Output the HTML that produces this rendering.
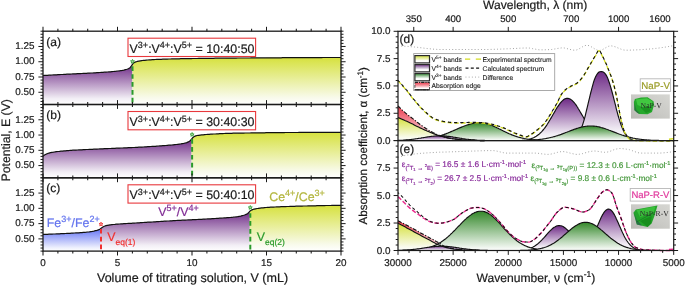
<!DOCTYPE html><html><head><meta charset="utf-8"><style>html,body{margin:0;padding:0;background:#fff;}svg{display:block;will-change:transform;}</style></head><body><svg width="685" height="285" viewBox="0 0 685 285" font-family='"Liberation Sans", sans-serif' text-rendering="geometricPrecision">
<defs>
<linearGradient id="gPur" x1="0" y1="0" x2="0" y2="1"><stop offset="0" stop-color="#6e2a86"/><stop offset="0.85" stop-color="#f2eef5"/><stop offset="1" stop-color="#ffffff"/></linearGradient>
<linearGradient id="gYel" x1="0" y1="0" x2="0" y2="1"><stop offset="0" stop-color="#d6e13e"/><stop offset="0.85" stop-color="#f8faea"/><stop offset="1" stop-color="#ffffff"/></linearGradient>
<linearGradient id="gBlu" x1="0" y1="0" x2="0" y2="1"><stop offset="0" stop-color="#6474f5"/><stop offset="0.85" stop-color="#eef0fd"/><stop offset="1" stop-color="#ffffff"/></linearGradient>
<linearGradient id="gGrn" x1="0" y1="0" x2="0" y2="1"><stop offset="0" stop-color="#34882a"/><stop offset="1" stop-color="#ffffff"/></linearGradient>
<linearGradient id="gRed" x1="0" y1="0" x2="0" y2="1"><stop offset="0" stop-color="#ec3a4c"/><stop offset="0.6" stop-color="#f5a6b0"/><stop offset="1" stop-color="#fde9ec"/></linearGradient>
<linearGradient id="gPh" x1="0" y1="1" x2="1" y2="0"><stop offset="0" stop-color="#b9b9b3"/><stop offset="0.5" stop-color="#cacac6"/><stop offset="1" stop-color="#d6d6d2"/></linearGradient>
<linearGradient id="lPur0" gradientUnits="userSpaceOnUse" x1="0" y1="31.2" x2="0" y2="104.5"><stop offset="0" stop-color="#70308a"/><stop offset="0.52" stop-color="#70308a"/><stop offset="1" stop-color="#fdfcfd"/></linearGradient>
<linearGradient id="lYel0" gradientUnits="userSpaceOnUse" x1="0" y1="31.2" x2="0" y2="104.5"><stop offset="0" stop-color="#d6e13e"/><stop offset="0.38" stop-color="#d6e13e"/><stop offset="1" stop-color="#fdfefa"/></linearGradient>
<linearGradient id="lBlu0" gradientUnits="userSpaceOnUse" x1="0" y1="31.2" x2="0" y2="104.5"><stop offset="0" stop-color="#6a78f6"/><stop offset="0.68" stop-color="#6a78f6"/><stop offset="1" stop-color="#f8f8fe"/></linearGradient>
<linearGradient id="lPur1" gradientUnits="userSpaceOnUse" x1="0" y1="104.5" x2="0" y2="177.8"><stop offset="0" stop-color="#70308a"/><stop offset="0.52" stop-color="#70308a"/><stop offset="1" stop-color="#fdfcfd"/></linearGradient>
<linearGradient id="lYel1" gradientUnits="userSpaceOnUse" x1="0" y1="104.5" x2="0" y2="177.8"><stop offset="0" stop-color="#d6e13e"/><stop offset="0.38" stop-color="#d6e13e"/><stop offset="1" stop-color="#fdfefa"/></linearGradient>
<linearGradient id="lBlu1" gradientUnits="userSpaceOnUse" x1="0" y1="104.5" x2="0" y2="177.8"><stop offset="0" stop-color="#6a78f6"/><stop offset="0.68" stop-color="#6a78f6"/><stop offset="1" stop-color="#f8f8fe"/></linearGradient>
<linearGradient id="lPur2" gradientUnits="userSpaceOnUse" x1="0" y1="177.8" x2="0" y2="251.10000000000002"><stop offset="0" stop-color="#70308a"/><stop offset="0.52" stop-color="#70308a"/><stop offset="1" stop-color="#fdfcfd"/></linearGradient>
<linearGradient id="lYel2" gradientUnits="userSpaceOnUse" x1="0" y1="177.8" x2="0" y2="251.10000000000002"><stop offset="0" stop-color="#d6e13e"/><stop offset="0.38" stop-color="#d6e13e"/><stop offset="1" stop-color="#fdfefa"/></linearGradient>
<linearGradient id="lBlu2" gradientUnits="userSpaceOnUse" x1="0" y1="177.8" x2="0" y2="251.10000000000002"><stop offset="0" stop-color="#6a78f6"/><stop offset="0.68" stop-color="#6a78f6"/><stop offset="1" stop-color="#f8f8fe"/></linearGradient>
<linearGradient id="sYel" x1="0" y1="0" x2="0" y2="1"><stop offset="0" stop-color="#d4e03e"/><stop offset="0.35" stop-color="#e6ee9a"/><stop offset="0.7" stop-color="#ffffff"/><stop offset="1" stop-color="#ffffff"/></linearGradient>
<linearGradient id="sPur" x1="0" y1="0" x2="0" y2="1"><stop offset="0" stop-color="#74308a"/><stop offset="0.35" stop-color="#b49cc0"/><stop offset="0.7" stop-color="#ffffff"/><stop offset="1" stop-color="#ffffff"/></linearGradient>
<linearGradient id="sGrn" x1="0" y1="0" x2="0" y2="1"><stop offset="0" stop-color="#2c7e2c"/><stop offset="0.35" stop-color="#9cc49c"/><stop offset="0.7" stop-color="#ffffff"/><stop offset="1" stop-color="#ffffff"/></linearGradient>
<linearGradient id="sRed" x1="0" y1="0" x2="0" y2="1"><stop offset="0" stop-color="#ec3a4c"/><stop offset="0.45" stop-color="#f4a0a8"/><stop offset="0.8" stop-color="#ffffff"/><stop offset="1" stop-color="#ffffff"/></linearGradient>
</defs>
<rect width="685" height="285" fill="#fff"/>
<path d="M43.0,75.5L44.5,75.4L46.1,75.3L47.6,75.2L49.2,75.2L50.7,75.1L52.2,75.0L53.8,74.9L55.3,74.8L56.9,74.8L58.4,74.7L60.0,74.6L61.5,74.5L63.0,74.4L64.6,74.3L66.1,74.3L67.7,74.2L69.2,74.1L70.7,74.0L72.3,73.9L73.8,73.9L75.4,73.8L76.9,73.7L78.5,73.6L80.0,73.6L81.5,73.5L83.1,73.4L84.6,73.4L86.2,73.3L87.7,73.2L89.2,73.1L90.8,73.0L92.3,73.0L93.9,72.9L95.4,72.8L96.9,72.7L98.5,72.6L100.0,72.5L101.6,72.4L103.1,72.3L104.7,72.2L106.2,72.1L107.7,72.0L109.3,71.9L110.8,71.7L112.4,71.6L113.9,71.4L115.4,71.3L117.0,71.1L118.5,70.9L120.1,70.7L121.6,70.5L123.2,70.2L124.7,69.9L126.2,69.5L127.8,68.9L129.3,68.1L130.9,66.7L132.4,64.5L132.4,104.5L43.0,104.5Z" fill="url(#gPur)"/>
<path d="M132.4,64.5L133.9,62.8L135.4,62.0L136.9,61.6L138.4,61.2L140.0,60.9L141.5,60.6L143.0,60.4L144.5,60.3L146.0,60.1L147.5,60.0L149.0,59.9L150.5,59.8L152.1,59.7L153.6,59.6L155.1,59.5L156.6,59.4L158.1,59.4L159.6,59.3L161.1,59.3L162.6,59.2L164.1,59.2L165.7,59.1L167.2,59.1L168.7,59.0L170.2,59.0L171.7,58.9L173.2,58.9L174.7,58.9L176.2,58.8L177.7,58.8L179.3,58.8L180.8,58.7L182.3,58.7L183.8,58.7L185.3,58.7L186.8,58.6L188.3,58.6L189.8,58.6L191.4,58.6L192.9,58.5L194.4,58.5L195.9,58.5L197.4,58.5L198.9,58.4L200.4,58.4L201.9,58.4L203.4,58.4L205.0,58.4L206.5,58.3L208.0,58.3L209.5,58.3L211.0,58.3L212.5,58.3L214.0,58.3L215.5,58.2L217.0,58.2L218.6,58.2L220.1,58.2L221.6,58.2L223.1,58.2L224.6,58.2L226.1,58.1L227.6,58.1L229.1,58.1L230.7,58.1L232.2,58.1L233.7,58.1L235.2,58.1L236.7,58.1L238.2,58.0L239.7,58.0L241.2,58.0L242.7,58.0L244.3,58.0L245.8,58.0L247.3,58.0L248.8,58.0L250.3,58.0L251.8,57.9L253.3,57.9L254.8,57.9L256.4,57.9L257.9,57.9L259.4,57.9L260.9,57.9L262.4,57.9L263.9,57.9L265.4,57.9L266.9,57.8L268.4,57.8L270.0,57.8L271.5,57.8L273.0,57.8L274.5,57.8L276.0,57.8L277.5,57.8L279.0,57.8L280.5,57.8L282.0,57.7L283.6,57.7L285.1,57.7L286.6,57.7L288.1,57.7L289.6,57.7L291.1,57.7L292.6,57.7L294.1,57.7L295.7,57.7L297.2,57.7L298.7,57.7L300.2,57.6L301.7,57.6L303.2,57.6L304.7,57.6L306.2,57.6L307.7,57.6L309.3,57.6L310.8,57.6L312.3,57.6L313.8,57.6L315.3,57.6L316.8,57.6L318.3,57.6L319.8,57.6L321.3,57.6L322.9,57.5L324.4,57.5L325.9,57.5L327.4,57.5L328.9,57.5L330.4,57.5L331.9,57.5L333.4,57.5L335.0,57.5L336.5,57.5L338.0,57.5L339.5,57.5L341.0,57.5L341.0,104.5L132.4,104.5Z" fill="url(#gYel)"/>
<path d="M43.0,75.5L44.5,75.4L46.0,75.3L47.5,75.3L49.0,75.2L50.5,75.1L52.0,75.0L53.5,74.9L55.0,74.9L56.5,74.8L58.0,74.7L59.5,74.6L61.0,74.5L62.5,74.5L64.0,74.4L65.5,74.3L67.0,74.2L68.5,74.1L69.2,74.1L70.0,74.1L71.5,74.0L72.9,73.9L74.4,73.8L75.9,73.8L77.4,73.7L78.9,73.6L80.4,73.6L81.9,73.5L83.4,73.4L84.9,73.3L86.4,73.3L87.9,73.2L89.4,73.1L90.9,73.0L92.4,73.0L93.9,72.9L95.4,72.8L96.9,72.7L98.4,72.6L98.4,72.6L99.9,72.5L101.4,72.4L102.9,72.3L104.4,72.2L105.9,72.1L107.4,72.0L108.9,71.9L110.4,71.8L111.9,71.6L113.4,71.5L114.9,71.3L116.4,71.2L117.9,71.0L119.4,70.8L120.3,70.7L120.9,70.6L122.4,70.4L123.9,70.1L125.4,69.7L126.9,69.3L127.6,69.0L128.4,68.7L129.9,67.7L130.3,67.3L131.4,65.9L132.3,64.6L132.8,63.9L134.2,62.6L134.3,62.5L135.8,61.9L136.4,61.7L137.3,61.4L138.8,61.1L140.3,60.8L141.8,60.6L142.5,60.5L143.3,60.4L144.8,60.3L146.3,60.1L147.8,60.0L149.3,59.9L150.8,59.8L152.3,59.7L153.8,59.6L155.3,59.5L156.8,59.4L158.3,59.4L159.8,59.3L160.0,59.3L161.3,59.3L162.8,59.2L164.3,59.2L165.8,59.1L167.3,59.1L168.8,59.0L170.3,59.0L171.8,58.9L173.3,58.9L174.8,58.9L176.3,58.8L177.8,58.8L179.3,58.8L180.8,58.7L182.3,58.7L183.8,58.7L185.3,58.7L186.8,58.6L188.3,58.6L189.8,58.6L191.3,58.6L192.7,58.5L194.2,58.5L195.0,58.5L195.7,58.5L197.2,58.5L198.7,58.4L200.2,58.4L201.7,58.4L203.2,58.4L204.7,58.4L206.2,58.4L207.7,58.3L209.2,58.3L210.7,58.3L212.2,58.3L213.7,58.3L215.2,58.2L216.7,58.2L218.2,58.2L219.7,58.2L221.2,58.2L222.7,58.2L224.2,58.2L225.7,58.1L227.2,58.1L228.7,58.1L230.2,58.1L231.7,58.1L233.2,58.1L234.7,58.1L236.2,58.1L237.7,58.0L239.2,58.0L240.7,58.0L242.2,58.0L243.7,58.0L244.0,58.0L245.2,58.0L246.7,58.0L248.2,58.0L249.7,58.0L251.2,57.9L252.6,57.9L254.1,57.9L255.6,57.9L257.1,57.9L258.6,57.9L260.1,57.9L261.6,57.9L263.1,57.9L264.6,57.9L266.1,57.8L267.6,57.8L269.1,57.8L270.6,57.8L272.1,57.8L273.6,57.8L275.1,57.8L276.6,57.8L278.1,57.8L279.6,57.8L281.1,57.8L282.6,57.7L284.1,57.7L285.6,57.7L287.1,57.7L288.6,57.7L290.1,57.7L291.6,57.7L293.1,57.7L294.6,57.7L296.1,57.7L297.6,57.7L299.1,57.7L300.6,57.6L302.1,57.6L303.6,57.6L305.1,57.6L306.6,57.6L308.1,57.6L309.6,57.6L311.1,57.6L312.5,57.6L314.0,57.6L315.5,57.6L317.0,57.6L318.5,57.6L320.0,57.6L321.5,57.6L323.0,57.5L324.5,57.5L326.0,57.5L327.5,57.5L329.0,57.5L330.5,57.5L332.0,57.5L333.5,57.5L335.0,57.5L336.5,57.5L338.0,57.5L339.5,57.5L341.0,57.5" fill="none" stroke="#111" stroke-width="1.2"/>
<line x1="132.5" y1="65.0" x2="132.5" y2="104.5" stroke="#2a9a2a" stroke-width="2" stroke-dasharray="4.7,3.2" stroke-dashoffset="6.66"/>
<polygon points="132.50,59.40 133.03,60.77 134.50,60.85 133.36,61.78 133.73,63.20 132.50,62.40 131.27,63.20 131.64,61.78 130.50,60.85 131.97,60.77" stroke="#2a9a2a" stroke-width="0.8" fill="#2a9a2a" fill-opacity="0.35"/>
<rect x="128" y="38.2" width="127.6" height="18.3" fill="#fff" stroke="#e8383c" stroke-width="1.1"/>
<text x="129.6" y="52.6" font-size="12.4" fill="#1a1a1a" stroke="#1a1a1a" stroke-width="0.2">V<tspan font-size="9" dy="-4.4">3+</tspan><tspan dy="4.4">:V</tspan><tspan font-size="9" dy="-4.4">4+</tspan><tspan dy="4.4">:V</tspan><tspan font-size="9" dy="-4.4">5+</tspan><tspan dy="4.4"> = 10:40:50</tspan></text>
<text x="46.2" y="45.5" font-size="12.1" fill="#1a1a1a" stroke="#1a1a1a" stroke-width="0.2">(a)</text>
<path d="M43.0,156.2L44.5,155.1L46.0,154.2L47.5,153.5L49.1,153.1L50.6,152.7L52.1,152.4L53.6,152.1L55.1,151.9L56.6,151.7L58.2,151.5L59.7,151.3L61.2,151.2L62.7,151.0L64.2,150.9L65.7,150.8L67.3,150.6L68.8,150.5L70.3,150.4L71.8,150.3L73.3,150.2L74.8,150.1L76.4,150.0L77.9,150.0L79.4,149.9L80.9,149.8L82.4,149.7L83.9,149.7L85.5,149.6L87.0,149.5L88.5,149.4L90.0,149.4L91.5,149.3L93.0,149.2L94.6,149.2L96.1,149.1L97.6,149.0L99.1,149.0L100.6,148.9L102.1,148.8L103.7,148.8L105.2,148.7L106.7,148.6L108.2,148.6L109.7,148.5L111.2,148.4L112.8,148.4L114.3,148.3L115.8,148.3L117.3,148.2L118.8,148.1L120.3,148.1L121.8,148.0L123.4,147.9L124.9,147.9L126.4,147.8L127.9,147.7L129.4,147.7L130.9,147.6L132.5,147.5L134.0,147.5L135.5,147.4L137.0,147.3L138.5,147.2L140.0,147.2L141.6,147.1L143.1,147.0L144.6,146.9L146.1,146.8L147.6,146.7L149.1,146.6L150.7,146.6L152.2,146.5L153.7,146.4L155.2,146.3L156.7,146.2L158.2,146.0L159.8,145.9L161.3,145.8L162.8,145.7L164.3,145.6L165.8,145.5L167.3,145.3L168.9,145.2L170.4,145.1L171.9,144.9L173.4,144.8L174.9,144.6L176.4,144.5L178.0,144.3L179.5,144.1L181.0,143.9L182.5,143.6L184.0,143.3L185.5,142.9L187.1,142.4L188.6,141.8L190.1,140.7L191.6,139.0L191.6,177.8L43.0,177.8Z" fill="url(#gPur)"/>
<path d="M191.6,139.0L193.1,137.5L194.6,136.3L196.2,135.8L197.7,135.5L199.2,135.2L200.7,135.0L202.3,134.9L203.8,134.7L205.3,134.6L206.8,134.5L208.4,134.4L209.9,134.3L211.4,134.2L212.9,134.1L214.5,134.0L216.0,133.9L217.5,133.8L219.0,133.7L220.6,133.7L222.1,133.6L223.6,133.5L225.1,133.5L226.7,133.4L228.2,133.4L229.7,133.3L231.2,133.3L232.8,133.2L234.3,133.2L235.8,133.2L237.3,133.2L238.9,133.1L240.4,133.1L241.9,133.1L243.4,133.1L245.0,133.0L246.5,133.0L248.0,133.0L249.5,133.0L251.1,132.9L252.6,132.9L254.1,132.9L255.6,132.9L257.2,132.9L258.7,132.8L260.2,132.8L261.7,132.8L263.3,132.8L264.8,132.8L266.3,132.7L267.8,132.7L269.3,132.7L270.9,132.7L272.4,132.7L273.9,132.7L275.4,132.6L277.0,132.6L278.5,132.6L280.0,132.6L281.5,132.6L283.1,132.6L284.6,132.6L286.1,132.5L287.6,132.5L289.2,132.5L290.7,132.5L292.2,132.5L293.7,132.5L295.3,132.5L296.8,132.5L298.3,132.4L299.8,132.4L301.4,132.4L302.9,132.4L304.4,132.4L305.9,132.4L307.5,132.4L309.0,132.4L310.5,132.4L312.0,132.4L313.6,132.4L315.1,132.4L316.6,132.3L318.1,132.3L319.7,132.3L321.2,132.3L322.7,132.3L324.2,132.3L325.8,132.3L327.3,132.3L328.8,132.3L330.3,132.3L331.9,132.3L333.4,132.3L334.9,132.3L336.4,132.3L338.0,132.3L339.5,132.3L341.0,132.3L341.0,177.8L191.6,177.8Z" fill="url(#gYel)"/>
<path d="M43.0,156.2L44.5,155.1L45.0,154.8L46.0,154.2L47.3,153.6L47.5,153.5L49.0,153.1L50.5,152.7L52.0,152.4L53.5,152.2L54.6,152.0L55.0,151.9L56.5,151.7L58.0,151.5L59.5,151.4L61.0,151.2L62.5,151.1L64.0,150.9L65.5,150.8L67.0,150.7L68.5,150.6L69.2,150.5L70.0,150.4L71.5,150.3L72.9,150.2L74.4,150.2L75.9,150.1L77.4,150.0L78.9,149.9L80.4,149.8L81.9,149.8L83.4,149.7L84.9,149.6L86.4,149.5L87.9,149.5L89.4,149.4L90.9,149.3L92.4,149.3L93.9,149.2L95.4,149.1L96.9,149.1L98.4,149.0L98.4,149.0L99.9,148.9L101.4,148.9L102.9,148.8L104.4,148.7L105.9,148.7L107.4,148.6L108.9,148.5L110.4,148.5L111.9,148.4L113.4,148.4L114.9,148.3L116.4,148.2L117.9,148.2L119.4,148.1L120.9,148.0L122.4,148.0L123.9,147.9L125.4,147.9L126.9,147.8L128.4,147.7L129.9,147.7L131.4,147.6L132.8,147.5L134.3,147.5L135.8,147.4L137.3,147.3L138.8,147.2L139.3,147.2L140.3,147.1L141.8,147.1L143.3,147.0L144.8,146.9L146.3,146.8L147.8,146.7L149.3,146.6L150.8,146.5L152.3,146.4L153.8,146.4L155.3,146.3L156.8,146.1L158.3,146.0L159.8,145.9L161.3,145.8L162.8,145.7L164.2,145.6L164.3,145.6L165.8,145.5L167.3,145.3L168.8,145.2L170.3,145.1L171.8,145.0L173.3,144.8L174.8,144.6L176.3,144.5L177.8,144.3L179.3,144.1L180.0,144.0L180.8,143.9L182.3,143.6L183.8,143.4L185.3,143.0L186.0,142.8L186.8,142.6L188.3,141.9L189.5,141.2L189.8,141.0L191.3,139.4L192.0,138.6L192.7,137.8L194.2,136.5L194.5,136.4L195.7,135.9L197.2,135.5L198.0,135.4L198.7,135.3L200.2,135.1L201.7,134.9L203.2,134.8L204.7,134.6L206.2,134.5L207.7,134.4L208.0,134.4L209.2,134.3L210.7,134.2L212.2,134.1L213.7,134.0L215.2,134.0L216.7,133.9L218.2,133.8L219.7,133.7L221.2,133.6L222.7,133.6L224.2,133.5L225.7,133.4L227.2,133.4L228.7,133.3L230.2,133.3L231.7,133.3L233.2,133.2L234.3,133.2L234.7,133.2L236.2,133.2L237.7,133.1L239.2,133.1L240.7,133.1L242.2,133.1L243.7,133.1L245.2,133.0L246.7,133.0L248.2,133.0L249.7,133.0L251.2,132.9L252.6,132.9L254.1,132.9L255.6,132.9L257.1,132.9L258.6,132.8L260.1,132.8L261.6,132.8L263.1,132.8L264.6,132.8L266.1,132.7L267.6,132.7L269.1,132.7L270.6,132.7L272.1,132.7L273.6,132.7L275.1,132.6L276.6,132.6L278.1,132.6L279.6,132.6L281.1,132.6L282.6,132.6L284.1,132.6L285.6,132.5L287.1,132.5L288.6,132.5L290.1,132.5L291.6,132.5L293.1,132.5L294.6,132.5L296.1,132.5L297.6,132.5L299.1,132.4L300.6,132.4L302.1,132.4L303.6,132.4L305.1,132.4L306.6,132.4L308.1,132.4L309.6,132.4L311.1,132.4L312.5,132.4L314.0,132.4L315.5,132.4L317.0,132.3L318.5,132.3L320.0,132.3L321.5,132.3L323.0,132.3L324.5,132.3L326.0,132.3L327.5,132.3L329.0,132.3L330.5,132.3L332.0,132.3L333.5,132.3L335.0,132.3L336.5,132.3L338.0,132.3L339.5,132.3L341.0,132.3" fill="none" stroke="#111" stroke-width="1.2"/>
<line x1="192.1" y1="139.1" x2="192.1" y2="177.8" stroke="#2a9a2a" stroke-width="2" stroke-dasharray="4.7,3.2" stroke-dashoffset="0.00"/>
<polygon points="192.10,132.50 192.63,133.87 194.10,133.95 192.96,134.88 193.33,136.30 192.10,135.50 190.87,136.30 191.24,134.88 190.10,133.95 191.57,133.87" stroke="#2a9a2a" stroke-width="0.8" fill="#2a9a2a" fill-opacity="0.35"/>
<rect x="128" y="111.5" width="127.6" height="18.3" fill="#fff" stroke="#e8383c" stroke-width="1.1"/>
<text x="129.6" y="125.9" font-size="12.4" fill="#1a1a1a" stroke="#1a1a1a" stroke-width="0.2">V<tspan font-size="9" dy="-4.4">3+</tspan><tspan dy="4.4">:V</tspan><tspan font-size="9" dy="-4.4">4+</tspan><tspan dy="4.4">:V</tspan><tspan font-size="9" dy="-4.4">5+</tspan><tspan dy="4.4"> = 30:40:30</tspan></text>
<text x="46.2" y="118.8" font-size="12.1" fill="#1a1a1a" stroke="#1a1a1a" stroke-width="0.2">(b)</text>
<path d="M43.0,234.4L44.6,234.4L46.1,234.3L47.7,234.3L49.2,234.2L50.8,234.1L52.3,234.1L53.9,234.0L55.5,234.0L57.0,233.9L58.6,233.8L60.1,233.8L61.7,233.7L63.2,233.6L64.8,233.5L66.4,233.4L67.9,233.4L69.5,233.3L71.0,233.2L72.6,233.1L74.1,233.0L75.7,233.0L77.2,232.9L78.8,232.8L80.4,232.7L81.9,232.6L83.5,232.4L85.0,232.3L86.6,232.2L88.1,232.0L89.7,231.8L91.3,231.6L92.8,231.3L94.4,231.0L95.9,230.6L97.5,230.2L99.0,229.6L100.6,228.7L100.6,251.1L43.0,251.1Z" fill="url(#gBlu)"/>
<path d="M100.6,228.7L102.1,227.6L103.6,226.6L105.2,226.0L106.7,225.5L108.2,225.2L109.7,224.9L111.3,224.7L112.8,224.6L114.3,224.4L115.8,224.3L117.3,224.1L118.9,224.0L120.4,223.9L121.9,223.8L123.4,223.7L125.0,223.6L126.5,223.5L128.0,223.4L129.5,223.4L131.0,223.3L132.6,223.2L134.1,223.1L135.6,223.0L137.1,222.9L138.7,222.8L140.2,222.7L141.7,222.6L143.2,222.5L144.8,222.4L146.3,222.3L147.8,222.2L149.3,222.1L150.8,222.0L152.4,222.0L153.9,221.9L155.4,221.8L156.9,221.7L158.5,221.6L160.0,221.5L161.5,221.4L163.0,221.3L164.5,221.2L166.1,221.1L167.6,221.0L169.1,220.9L170.6,220.8L172.2,220.8L173.7,220.7L175.2,220.6L176.7,220.5L178.2,220.4L179.8,220.3L181.3,220.3L182.8,220.2L184.3,220.1L185.9,220.0L187.4,220.0L188.9,219.9L190.4,219.8L191.9,219.8L193.5,219.7L195.0,219.6L196.5,219.5L198.0,219.5L199.6,219.4L201.1,219.3L202.6,219.2L204.1,219.1L205.6,219.1L207.2,219.0L208.7,218.9L210.2,218.8L211.7,218.7L213.3,218.6L214.8,218.5L216.3,218.4L217.8,218.3L219.4,218.2L220.9,218.2L222.4,218.1L223.9,218.0L225.4,217.9L227.0,217.7L228.5,217.6L230.0,217.5L231.5,217.3L233.1,217.2L234.6,217.0L236.1,216.9L237.6,216.7L239.1,216.4L240.7,216.1L242.2,215.7L243.7,215.3L245.2,214.7L246.8,214.0L248.3,213.0L249.8,211.3L249.8,251.1L100.6,251.1Z" fill="url(#gPur)"/>
<path d="M249.8,211.3L251.3,210.2L252.9,209.5L254.4,209.0L256.0,208.7L257.5,208.5L259.1,208.3L260.6,208.1L262.2,207.9L263.7,207.7L265.3,207.6L266.8,207.5L268.3,207.4L269.9,207.3L271.4,207.2L273.0,207.1L274.5,207.0L276.1,206.9L277.6,206.9L279.2,206.8L280.7,206.7L282.3,206.7L283.8,206.6L285.4,206.6L286.9,206.5L288.4,206.5L290.0,206.4L291.5,206.4L293.1,206.3L294.6,206.3L296.2,206.2L297.7,206.2L299.3,206.2L300.8,206.1L302.4,206.1L303.9,206.0L305.4,206.0L307.0,206.0L308.5,205.9L310.1,205.9L311.6,205.8L313.2,205.8L314.7,205.8L316.3,205.7L317.8,205.7L319.4,205.7L320.9,205.6L322.5,205.6L324.0,205.6L325.5,205.5L327.1,205.5L328.6,205.5L330.2,205.5L331.7,205.4L333.3,205.4L334.8,205.4L336.4,205.4L337.9,205.3L339.5,205.3L341.0,205.3L341.0,251.1L249.8,251.1Z" fill="url(#gYel)"/>
<path d="M43.0,234.4L44.5,234.4L46.0,234.3L47.5,234.3L49.0,234.2L50.5,234.2L52.0,234.1L53.5,234.0L55.0,234.0L56.5,233.9L58.0,233.9L59.5,233.8L61.0,233.7L62.5,233.6L64.0,233.6L65.5,233.5L67.0,233.4L68.5,233.3L69.2,233.3L70.0,233.3L71.5,233.2L72.9,233.1L74.4,233.0L75.9,232.9L77.4,232.9L78.9,232.8L80.4,232.7L81.9,232.6L83.4,232.4L84.9,232.3L86.4,232.2L87.9,232.0L88.2,232.0L89.4,231.9L90.9,231.6L92.4,231.4L93.9,231.1L95.4,230.7L96.0,230.6L96.9,230.4L98.4,229.9L99.5,229.4L99.9,229.2L101.4,228.1L101.8,227.8L102.9,227.0L104.2,226.3L104.4,226.2L105.9,225.7L107.4,225.4L108.9,225.1L110.0,224.9L110.4,224.9L111.9,224.7L113.4,224.5L114.9,224.4L116.4,224.2L117.9,224.1L119.4,224.0L120.9,223.9L122.4,223.8L123.9,223.7L125.4,223.6L126.9,223.5L128.4,223.4L129.9,223.3L131.4,223.3L132.8,223.2L134.3,223.1L135.8,223.0L137.3,222.9L138.8,222.8L139.3,222.8L140.3,222.7L141.8,222.6L143.3,222.5L144.8,222.4L146.3,222.3L147.8,222.2L149.3,222.1L150.8,222.1L152.3,222.0L153.8,221.9L155.3,221.8L156.8,221.7L158.3,221.6L159.8,221.5L161.3,221.4L162.8,221.3L164.3,221.2L165.8,221.1L167.3,221.0L168.8,221.0L170.3,220.9L171.8,220.8L173.3,220.7L174.8,220.6L175.0,220.6L176.3,220.5L177.8,220.4L179.3,220.4L180.8,220.3L182.3,220.2L183.8,220.1L185.3,220.1L186.8,220.0L188.3,219.9L189.8,219.9L191.3,219.8L192.7,219.7L194.2,219.6L195.7,219.6L197.2,219.5L198.7,219.4L200.2,219.3L201.7,219.3L203.2,219.2L204.7,219.1L206.2,219.0L207.7,218.9L209.2,218.8L210.0,218.8L210.7,218.8L212.2,218.7L213.7,218.6L215.2,218.5L216.7,218.4L218.2,218.3L219.7,218.2L221.2,218.1L222.7,218.0L224.2,217.9L225.7,217.8L227.2,217.7L228.7,217.6L230.2,217.5L231.7,217.3L233.2,217.2L234.7,217.0L236.2,216.8L237.7,216.7L238.1,216.6L239.2,216.4L240.7,216.1L242.2,215.7L243.7,215.3L244.5,215.0L245.2,214.8L246.7,214.1L247.8,213.4L248.2,213.1L249.7,211.4L250.1,211.0L251.2,210.3L252.6,209.6L252.8,209.5L254.1,209.1L255.6,208.8L257.1,208.5L258.0,208.4L258.6,208.3L260.1,208.1L261.6,207.9L263.1,207.8L264.6,207.6L266.1,207.5L267.6,207.4L269.1,207.3L270.6,207.2L270.8,207.2L272.1,207.1L273.6,207.1L275.1,207.0L276.6,206.9L278.1,206.8L279.6,206.8L281.1,206.7L282.6,206.7L284.1,206.6L285.6,206.6L287.1,206.5L288.6,206.5L290.1,206.4L291.6,206.4L293.1,206.3L294.6,206.3L296.1,206.2L297.6,206.2L299.1,206.2L300.6,206.1L302.1,206.1L303.6,206.0L305.1,206.0L305.5,206.0L306.6,206.0L308.1,205.9L309.6,205.9L311.1,205.9L312.5,205.8L314.0,205.8L315.5,205.8L317.0,205.7L318.5,205.7L320.0,205.7L321.5,205.6L323.0,205.6L324.5,205.6L326.0,205.5L327.5,205.5L329.0,205.5L330.5,205.5L332.0,205.4L333.5,205.4L335.0,205.4L336.5,205.4L338.0,205.3L339.5,205.3L341.0,205.3" fill="none" stroke="#111" stroke-width="1.2"/>
<line x1="101.0" y1="229.0" x2="101.0" y2="251.10000000000002" stroke="#f03030" stroke-width="2" stroke-dasharray="4.7,3.2" stroke-dashoffset="0.18"/>
<polygon points="101.00,222.10 101.53,223.47 103.00,223.55 101.86,224.48 102.23,225.90 101.00,225.10 99.77,225.90 100.14,224.48 99.00,223.55 100.47,223.47" stroke="#f03030" stroke-width="0.8" fill="#f03030" fill-opacity="0.35"/>
<line x1="250.3" y1="211.5" x2="250.3" y2="251.10000000000002" stroke="#2a9a2a" stroke-width="2" stroke-dasharray="4.7,3.2" stroke-dashoffset="6.26"/>
<polygon points="250.30,205.50 250.83,206.87 252.30,206.95 251.16,207.88 251.53,209.30 250.30,208.50 249.07,209.30 249.44,207.88 248.30,206.95 249.77,206.87" stroke="#2a9a2a" stroke-width="0.8" fill="#2a9a2a" fill-opacity="0.35"/>
<rect x="128" y="184.8" width="127.6" height="18.3" fill="#fff" stroke="#e8383c" stroke-width="1.1"/>
<text x="129.6" y="199.2" font-size="12.4" fill="#1a1a1a" stroke="#1a1a1a" stroke-width="0.2">V<tspan font-size="9" dy="-4.4">3+</tspan><tspan dy="4.4">:V</tspan><tspan font-size="9" dy="-4.4">4+</tspan><tspan dy="4.4">:V</tspan><tspan font-size="9" dy="-4.4">5+</tspan><tspan dy="4.4"> = 50:40:10</tspan></text>
<text x="46.2" y="192.1" font-size="12.1" fill="#1a1a1a" stroke="#1a1a1a" stroke-width="0.2">(c)</text>
<text x="46.8" y="226.7" font-size="12.4" fill="#6474ee" stroke="#6474ee" stroke-width="0.2"><tspan dy="0">Fe</tspan><tspan font-size="9" dy="-4.6">3+</tspan><tspan dy="4.6">/Fe</tspan><tspan font-size="9" dy="-4.6">2+</tspan></text>
<text x="158.2" y="216.0" font-size="12.4" fill="#822e96" stroke="#822e96" stroke-width="0.2"><tspan dy="0">V</tspan><tspan font-size="9" dy="-4.6">5+</tspan><tspan dy="4.6">/V</tspan><tspan font-size="9" dy="-4.6">4+</tspan></text>
<text x="269.2" y="201.0" font-size="12.4" fill="#b2b53c" stroke="#b2b53c" stroke-width="0.2"><tspan dy="0">Ce</tspan><tspan font-size="9" dy="-4.6">4+</tspan><tspan dy="4.6">/Ce</tspan><tspan font-size="9" dy="-4.6">3+</tspan></text>
<text x="107.2" y="241.3" font-size="12.4" fill="#f03030" stroke="#f03030" stroke-width="0.2">V<tspan font-size="8.5" dy="3.6">eq(1)</tspan></text>
<text x="256.8" y="241.2" font-size="12.4" fill="#2a9a2a" stroke="#2a9a2a" stroke-width="0.2">V<tspan font-size="8.5" dy="3.6">eq(2)</tspan></text>
<rect x="43.0" y="31.2" width="298.0" height="73.3" fill="none" stroke="#1a1a1a" stroke-width="1.3"/>
<line x1="43.00" y1="31.2" x2="43.00" y2="26.799999999999997" stroke="#1a1a1a" stroke-width="1.05"/>
<line x1="43.00" y1="104.5" x2="43.00" y2="108.9" stroke="#1a1a1a" stroke-width="1.05"/>
<line x1="57.90" y1="31.2" x2="57.90" y2="28.8" stroke="#1a1a1a" stroke-width="1.05"/>
<line x1="57.90" y1="104.5" x2="57.90" y2="106.9" stroke="#1a1a1a" stroke-width="1.05"/>
<line x1="72.80" y1="31.2" x2="72.80" y2="28.8" stroke="#1a1a1a" stroke-width="1.05"/>
<line x1="72.80" y1="104.5" x2="72.80" y2="106.9" stroke="#1a1a1a" stroke-width="1.05"/>
<line x1="87.70" y1="31.2" x2="87.70" y2="28.8" stroke="#1a1a1a" stroke-width="1.05"/>
<line x1="87.70" y1="104.5" x2="87.70" y2="106.9" stroke="#1a1a1a" stroke-width="1.05"/>
<line x1="102.60" y1="31.2" x2="102.60" y2="28.8" stroke="#1a1a1a" stroke-width="1.05"/>
<line x1="102.60" y1="104.5" x2="102.60" y2="106.9" stroke="#1a1a1a" stroke-width="1.05"/>
<line x1="117.50" y1="31.2" x2="117.50" y2="26.799999999999997" stroke="#1a1a1a" stroke-width="1.05"/>
<line x1="117.50" y1="104.5" x2="117.50" y2="108.9" stroke="#1a1a1a" stroke-width="1.05"/>
<line x1="132.40" y1="31.2" x2="132.40" y2="28.8" stroke="#1a1a1a" stroke-width="1.05"/>
<line x1="132.40" y1="104.5" x2="132.40" y2="106.9" stroke="#1a1a1a" stroke-width="1.05"/>
<line x1="147.30" y1="31.2" x2="147.30" y2="28.8" stroke="#1a1a1a" stroke-width="1.05"/>
<line x1="147.30" y1="104.5" x2="147.30" y2="106.9" stroke="#1a1a1a" stroke-width="1.05"/>
<line x1="162.20" y1="31.2" x2="162.20" y2="28.8" stroke="#1a1a1a" stroke-width="1.05"/>
<line x1="162.20" y1="104.5" x2="162.20" y2="106.9" stroke="#1a1a1a" stroke-width="1.05"/>
<line x1="177.10" y1="31.2" x2="177.10" y2="28.8" stroke="#1a1a1a" stroke-width="1.05"/>
<line x1="177.10" y1="104.5" x2="177.10" y2="106.9" stroke="#1a1a1a" stroke-width="1.05"/>
<line x1="192.00" y1="31.2" x2="192.00" y2="26.799999999999997" stroke="#1a1a1a" stroke-width="1.05"/>
<line x1="192.00" y1="104.5" x2="192.00" y2="108.9" stroke="#1a1a1a" stroke-width="1.05"/>
<line x1="206.90" y1="31.2" x2="206.90" y2="28.8" stroke="#1a1a1a" stroke-width="1.05"/>
<line x1="206.90" y1="104.5" x2="206.90" y2="106.9" stroke="#1a1a1a" stroke-width="1.05"/>
<line x1="221.80" y1="31.2" x2="221.80" y2="28.8" stroke="#1a1a1a" stroke-width="1.05"/>
<line x1="221.80" y1="104.5" x2="221.80" y2="106.9" stroke="#1a1a1a" stroke-width="1.05"/>
<line x1="236.70" y1="31.2" x2="236.70" y2="28.8" stroke="#1a1a1a" stroke-width="1.05"/>
<line x1="236.70" y1="104.5" x2="236.70" y2="106.9" stroke="#1a1a1a" stroke-width="1.05"/>
<line x1="251.60" y1="31.2" x2="251.60" y2="28.8" stroke="#1a1a1a" stroke-width="1.05"/>
<line x1="251.60" y1="104.5" x2="251.60" y2="106.9" stroke="#1a1a1a" stroke-width="1.05"/>
<line x1="266.50" y1="31.2" x2="266.50" y2="26.799999999999997" stroke="#1a1a1a" stroke-width="1.05"/>
<line x1="266.50" y1="104.5" x2="266.50" y2="108.9" stroke="#1a1a1a" stroke-width="1.05"/>
<line x1="281.40" y1="31.2" x2="281.40" y2="28.8" stroke="#1a1a1a" stroke-width="1.05"/>
<line x1="281.40" y1="104.5" x2="281.40" y2="106.9" stroke="#1a1a1a" stroke-width="1.05"/>
<line x1="296.30" y1="31.2" x2="296.30" y2="28.8" stroke="#1a1a1a" stroke-width="1.05"/>
<line x1="296.30" y1="104.5" x2="296.30" y2="106.9" stroke="#1a1a1a" stroke-width="1.05"/>
<line x1="311.20" y1="31.2" x2="311.20" y2="28.8" stroke="#1a1a1a" stroke-width="1.05"/>
<line x1="311.20" y1="104.5" x2="311.20" y2="106.9" stroke="#1a1a1a" stroke-width="1.05"/>
<line x1="326.10" y1="31.2" x2="326.10" y2="28.8" stroke="#1a1a1a" stroke-width="1.05"/>
<line x1="326.10" y1="104.5" x2="326.10" y2="106.9" stroke="#1a1a1a" stroke-width="1.05"/>
<line x1="341.00" y1="31.2" x2="341.00" y2="26.799999999999997" stroke="#1a1a1a" stroke-width="1.05"/>
<line x1="341.00" y1="104.5" x2="341.00" y2="108.9" stroke="#1a1a1a" stroke-width="1.05"/>
<line x1="43.0" y1="104.50" x2="40.5" y2="104.50" stroke="#1a1a1a" stroke-width="1"/>
<line x1="341.0" y1="104.50" x2="343.5" y2="104.50" stroke="#1a1a1a" stroke-width="1"/>
<line x1="43.0" y1="101.45" x2="40.5" y2="101.45" stroke="#1a1a1a" stroke-width="1"/>
<line x1="341.0" y1="101.45" x2="343.5" y2="101.45" stroke="#1a1a1a" stroke-width="1"/>
<line x1="43.0" y1="98.39" x2="40.5" y2="98.39" stroke="#1a1a1a" stroke-width="1"/>
<line x1="341.0" y1="98.39" x2="343.5" y2="98.39" stroke="#1a1a1a" stroke-width="1"/>
<line x1="43.0" y1="95.34" x2="40.5" y2="95.34" stroke="#1a1a1a" stroke-width="1"/>
<line x1="341.0" y1="95.34" x2="343.5" y2="95.34" stroke="#1a1a1a" stroke-width="1"/>
<line x1="43.0" y1="92.28" x2="38.4" y2="92.28" stroke="#1a1a1a" stroke-width="1"/>
<line x1="341.0" y1="92.28" x2="345.6" y2="92.28" stroke="#1a1a1a" stroke-width="1"/>
<line x1="43.0" y1="89.23" x2="40.5" y2="89.23" stroke="#1a1a1a" stroke-width="1"/>
<line x1="341.0" y1="89.23" x2="343.5" y2="89.23" stroke="#1a1a1a" stroke-width="1"/>
<line x1="43.0" y1="86.17" x2="40.5" y2="86.17" stroke="#1a1a1a" stroke-width="1"/>
<line x1="341.0" y1="86.17" x2="343.5" y2="86.17" stroke="#1a1a1a" stroke-width="1"/>
<line x1="43.0" y1="83.12" x2="40.5" y2="83.12" stroke="#1a1a1a" stroke-width="1"/>
<line x1="341.0" y1="83.12" x2="343.5" y2="83.12" stroke="#1a1a1a" stroke-width="1"/>
<line x1="43.0" y1="80.07" x2="40.5" y2="80.07" stroke="#1a1a1a" stroke-width="1"/>
<line x1="341.0" y1="80.07" x2="343.5" y2="80.07" stroke="#1a1a1a" stroke-width="1"/>
<line x1="43.0" y1="77.01" x2="38.4" y2="77.01" stroke="#1a1a1a" stroke-width="1"/>
<line x1="341.0" y1="77.01" x2="345.6" y2="77.01" stroke="#1a1a1a" stroke-width="1"/>
<line x1="43.0" y1="73.96" x2="40.5" y2="73.96" stroke="#1a1a1a" stroke-width="1"/>
<line x1="341.0" y1="73.96" x2="343.5" y2="73.96" stroke="#1a1a1a" stroke-width="1"/>
<line x1="43.0" y1="70.90" x2="40.5" y2="70.90" stroke="#1a1a1a" stroke-width="1"/>
<line x1="341.0" y1="70.90" x2="343.5" y2="70.90" stroke="#1a1a1a" stroke-width="1"/>
<line x1="43.0" y1="67.85" x2="40.5" y2="67.85" stroke="#1a1a1a" stroke-width="1"/>
<line x1="341.0" y1="67.85" x2="343.5" y2="67.85" stroke="#1a1a1a" stroke-width="1"/>
<line x1="43.0" y1="64.80" x2="40.5" y2="64.80" stroke="#1a1a1a" stroke-width="1"/>
<line x1="341.0" y1="64.80" x2="343.5" y2="64.80" stroke="#1a1a1a" stroke-width="1"/>
<line x1="43.0" y1="61.74" x2="38.4" y2="61.74" stroke="#1a1a1a" stroke-width="1"/>
<line x1="341.0" y1="61.74" x2="345.6" y2="61.74" stroke="#1a1a1a" stroke-width="1"/>
<line x1="43.0" y1="58.69" x2="40.5" y2="58.69" stroke="#1a1a1a" stroke-width="1"/>
<line x1="341.0" y1="58.69" x2="343.5" y2="58.69" stroke="#1a1a1a" stroke-width="1"/>
<line x1="43.0" y1="55.63" x2="40.5" y2="55.63" stroke="#1a1a1a" stroke-width="1"/>
<line x1="341.0" y1="55.63" x2="343.5" y2="55.63" stroke="#1a1a1a" stroke-width="1"/>
<line x1="43.0" y1="52.58" x2="40.5" y2="52.58" stroke="#1a1a1a" stroke-width="1"/>
<line x1="341.0" y1="52.58" x2="343.5" y2="52.58" stroke="#1a1a1a" stroke-width="1"/>
<line x1="43.0" y1="49.53" x2="40.5" y2="49.53" stroke="#1a1a1a" stroke-width="1"/>
<line x1="341.0" y1="49.53" x2="343.5" y2="49.53" stroke="#1a1a1a" stroke-width="1"/>
<line x1="43.0" y1="46.47" x2="38.4" y2="46.47" stroke="#1a1a1a" stroke-width="1"/>
<line x1="341.0" y1="46.47" x2="345.6" y2="46.47" stroke="#1a1a1a" stroke-width="1"/>
<line x1="43.0" y1="43.42" x2="40.5" y2="43.42" stroke="#1a1a1a" stroke-width="1"/>
<line x1="341.0" y1="43.42" x2="343.5" y2="43.42" stroke="#1a1a1a" stroke-width="1"/>
<line x1="43.0" y1="40.36" x2="40.5" y2="40.36" stroke="#1a1a1a" stroke-width="1"/>
<line x1="341.0" y1="40.36" x2="343.5" y2="40.36" stroke="#1a1a1a" stroke-width="1"/>
<line x1="43.0" y1="37.31" x2="40.5" y2="37.31" stroke="#1a1a1a" stroke-width="1"/>
<line x1="341.0" y1="37.31" x2="343.5" y2="37.31" stroke="#1a1a1a" stroke-width="1"/>
<line x1="43.0" y1="34.25" x2="40.5" y2="34.25" stroke="#1a1a1a" stroke-width="1"/>
<line x1="341.0" y1="34.25" x2="343.5" y2="34.25" stroke="#1a1a1a" stroke-width="1"/>
<line x1="43.0" y1="31.20" x2="40.5" y2="31.20" stroke="#1a1a1a" stroke-width="1"/>
<line x1="341.0" y1="31.20" x2="343.5" y2="31.20" stroke="#1a1a1a" stroke-width="1"/>
<text x="34.4" y="95.03" font-size="9.9" fill="#1a1a1a" text-anchor="end" stroke="#1a1a1a" stroke-width="0.2">0.50</text>
<text x="34.4" y="79.76" font-size="9.9" fill="#1a1a1a" text-anchor="end" stroke="#1a1a1a" stroke-width="0.2">0.75</text>
<text x="34.4" y="64.49" font-size="9.9" fill="#1a1a1a" text-anchor="end" stroke="#1a1a1a" stroke-width="0.2">1.00</text>
<text x="34.4" y="49.22" font-size="9.9" fill="#1a1a1a" text-anchor="end" stroke="#1a1a1a" stroke-width="0.2">1.25</text>
<rect x="43.0" y="104.5" width="298.0" height="73.3" fill="none" stroke="#1a1a1a" stroke-width="1.3"/>
<line x1="43.00" y1="104.5" x2="43.00" y2="100.1" stroke="#1a1a1a" stroke-width="1.05"/>
<line x1="43.00" y1="177.8" x2="43.00" y2="182.20000000000002" stroke="#1a1a1a" stroke-width="1.05"/>
<line x1="57.90" y1="104.5" x2="57.90" y2="102.1" stroke="#1a1a1a" stroke-width="1.05"/>
<line x1="57.90" y1="177.8" x2="57.90" y2="180.20000000000002" stroke="#1a1a1a" stroke-width="1.05"/>
<line x1="72.80" y1="104.5" x2="72.80" y2="102.1" stroke="#1a1a1a" stroke-width="1.05"/>
<line x1="72.80" y1="177.8" x2="72.80" y2="180.20000000000002" stroke="#1a1a1a" stroke-width="1.05"/>
<line x1="87.70" y1="104.5" x2="87.70" y2="102.1" stroke="#1a1a1a" stroke-width="1.05"/>
<line x1="87.70" y1="177.8" x2="87.70" y2="180.20000000000002" stroke="#1a1a1a" stroke-width="1.05"/>
<line x1="102.60" y1="104.5" x2="102.60" y2="102.1" stroke="#1a1a1a" stroke-width="1.05"/>
<line x1="102.60" y1="177.8" x2="102.60" y2="180.20000000000002" stroke="#1a1a1a" stroke-width="1.05"/>
<line x1="117.50" y1="104.5" x2="117.50" y2="100.1" stroke="#1a1a1a" stroke-width="1.05"/>
<line x1="117.50" y1="177.8" x2="117.50" y2="182.20000000000002" stroke="#1a1a1a" stroke-width="1.05"/>
<line x1="132.40" y1="104.5" x2="132.40" y2="102.1" stroke="#1a1a1a" stroke-width="1.05"/>
<line x1="132.40" y1="177.8" x2="132.40" y2="180.20000000000002" stroke="#1a1a1a" stroke-width="1.05"/>
<line x1="147.30" y1="104.5" x2="147.30" y2="102.1" stroke="#1a1a1a" stroke-width="1.05"/>
<line x1="147.30" y1="177.8" x2="147.30" y2="180.20000000000002" stroke="#1a1a1a" stroke-width="1.05"/>
<line x1="162.20" y1="104.5" x2="162.20" y2="102.1" stroke="#1a1a1a" stroke-width="1.05"/>
<line x1="162.20" y1="177.8" x2="162.20" y2="180.20000000000002" stroke="#1a1a1a" stroke-width="1.05"/>
<line x1="177.10" y1="104.5" x2="177.10" y2="102.1" stroke="#1a1a1a" stroke-width="1.05"/>
<line x1="177.10" y1="177.8" x2="177.10" y2="180.20000000000002" stroke="#1a1a1a" stroke-width="1.05"/>
<line x1="192.00" y1="104.5" x2="192.00" y2="100.1" stroke="#1a1a1a" stroke-width="1.05"/>
<line x1="192.00" y1="177.8" x2="192.00" y2="182.20000000000002" stroke="#1a1a1a" stroke-width="1.05"/>
<line x1="206.90" y1="104.5" x2="206.90" y2="102.1" stroke="#1a1a1a" stroke-width="1.05"/>
<line x1="206.90" y1="177.8" x2="206.90" y2="180.20000000000002" stroke="#1a1a1a" stroke-width="1.05"/>
<line x1="221.80" y1="104.5" x2="221.80" y2="102.1" stroke="#1a1a1a" stroke-width="1.05"/>
<line x1="221.80" y1="177.8" x2="221.80" y2="180.20000000000002" stroke="#1a1a1a" stroke-width="1.05"/>
<line x1="236.70" y1="104.5" x2="236.70" y2="102.1" stroke="#1a1a1a" stroke-width="1.05"/>
<line x1="236.70" y1="177.8" x2="236.70" y2="180.20000000000002" stroke="#1a1a1a" stroke-width="1.05"/>
<line x1="251.60" y1="104.5" x2="251.60" y2="102.1" stroke="#1a1a1a" stroke-width="1.05"/>
<line x1="251.60" y1="177.8" x2="251.60" y2="180.20000000000002" stroke="#1a1a1a" stroke-width="1.05"/>
<line x1="266.50" y1="104.5" x2="266.50" y2="100.1" stroke="#1a1a1a" stroke-width="1.05"/>
<line x1="266.50" y1="177.8" x2="266.50" y2="182.20000000000002" stroke="#1a1a1a" stroke-width="1.05"/>
<line x1="281.40" y1="104.5" x2="281.40" y2="102.1" stroke="#1a1a1a" stroke-width="1.05"/>
<line x1="281.40" y1="177.8" x2="281.40" y2="180.20000000000002" stroke="#1a1a1a" stroke-width="1.05"/>
<line x1="296.30" y1="104.5" x2="296.30" y2="102.1" stroke="#1a1a1a" stroke-width="1.05"/>
<line x1="296.30" y1="177.8" x2="296.30" y2="180.20000000000002" stroke="#1a1a1a" stroke-width="1.05"/>
<line x1="311.20" y1="104.5" x2="311.20" y2="102.1" stroke="#1a1a1a" stroke-width="1.05"/>
<line x1="311.20" y1="177.8" x2="311.20" y2="180.20000000000002" stroke="#1a1a1a" stroke-width="1.05"/>
<line x1="326.10" y1="104.5" x2="326.10" y2="102.1" stroke="#1a1a1a" stroke-width="1.05"/>
<line x1="326.10" y1="177.8" x2="326.10" y2="180.20000000000002" stroke="#1a1a1a" stroke-width="1.05"/>
<line x1="341.00" y1="104.5" x2="341.00" y2="100.1" stroke="#1a1a1a" stroke-width="1.05"/>
<line x1="341.00" y1="177.8" x2="341.00" y2="182.20000000000002" stroke="#1a1a1a" stroke-width="1.05"/>
<line x1="43.0" y1="177.80" x2="40.5" y2="177.80" stroke="#1a1a1a" stroke-width="1"/>
<line x1="341.0" y1="177.80" x2="343.5" y2="177.80" stroke="#1a1a1a" stroke-width="1"/>
<line x1="43.0" y1="174.75" x2="40.5" y2="174.75" stroke="#1a1a1a" stroke-width="1"/>
<line x1="341.0" y1="174.75" x2="343.5" y2="174.75" stroke="#1a1a1a" stroke-width="1"/>
<line x1="43.0" y1="171.69" x2="40.5" y2="171.69" stroke="#1a1a1a" stroke-width="1"/>
<line x1="341.0" y1="171.69" x2="343.5" y2="171.69" stroke="#1a1a1a" stroke-width="1"/>
<line x1="43.0" y1="168.64" x2="40.5" y2="168.64" stroke="#1a1a1a" stroke-width="1"/>
<line x1="341.0" y1="168.64" x2="343.5" y2="168.64" stroke="#1a1a1a" stroke-width="1"/>
<line x1="43.0" y1="165.58" x2="38.4" y2="165.58" stroke="#1a1a1a" stroke-width="1"/>
<line x1="341.0" y1="165.58" x2="345.6" y2="165.58" stroke="#1a1a1a" stroke-width="1"/>
<line x1="43.0" y1="162.53" x2="40.5" y2="162.53" stroke="#1a1a1a" stroke-width="1"/>
<line x1="341.0" y1="162.53" x2="343.5" y2="162.53" stroke="#1a1a1a" stroke-width="1"/>
<line x1="43.0" y1="159.47" x2="40.5" y2="159.47" stroke="#1a1a1a" stroke-width="1"/>
<line x1="341.0" y1="159.47" x2="343.5" y2="159.47" stroke="#1a1a1a" stroke-width="1"/>
<line x1="43.0" y1="156.42" x2="40.5" y2="156.42" stroke="#1a1a1a" stroke-width="1"/>
<line x1="341.0" y1="156.42" x2="343.5" y2="156.42" stroke="#1a1a1a" stroke-width="1"/>
<line x1="43.0" y1="153.37" x2="40.5" y2="153.37" stroke="#1a1a1a" stroke-width="1"/>
<line x1="341.0" y1="153.37" x2="343.5" y2="153.37" stroke="#1a1a1a" stroke-width="1"/>
<line x1="43.0" y1="150.31" x2="38.4" y2="150.31" stroke="#1a1a1a" stroke-width="1"/>
<line x1="341.0" y1="150.31" x2="345.6" y2="150.31" stroke="#1a1a1a" stroke-width="1"/>
<line x1="43.0" y1="147.26" x2="40.5" y2="147.26" stroke="#1a1a1a" stroke-width="1"/>
<line x1="341.0" y1="147.26" x2="343.5" y2="147.26" stroke="#1a1a1a" stroke-width="1"/>
<line x1="43.0" y1="144.20" x2="40.5" y2="144.20" stroke="#1a1a1a" stroke-width="1"/>
<line x1="341.0" y1="144.20" x2="343.5" y2="144.20" stroke="#1a1a1a" stroke-width="1"/>
<line x1="43.0" y1="141.15" x2="40.5" y2="141.15" stroke="#1a1a1a" stroke-width="1"/>
<line x1="341.0" y1="141.15" x2="343.5" y2="141.15" stroke="#1a1a1a" stroke-width="1"/>
<line x1="43.0" y1="138.10" x2="40.5" y2="138.10" stroke="#1a1a1a" stroke-width="1"/>
<line x1="341.0" y1="138.10" x2="343.5" y2="138.10" stroke="#1a1a1a" stroke-width="1"/>
<line x1="43.0" y1="135.04" x2="38.4" y2="135.04" stroke="#1a1a1a" stroke-width="1"/>
<line x1="341.0" y1="135.04" x2="345.6" y2="135.04" stroke="#1a1a1a" stroke-width="1"/>
<line x1="43.0" y1="131.99" x2="40.5" y2="131.99" stroke="#1a1a1a" stroke-width="1"/>
<line x1="341.0" y1="131.99" x2="343.5" y2="131.99" stroke="#1a1a1a" stroke-width="1"/>
<line x1="43.0" y1="128.93" x2="40.5" y2="128.93" stroke="#1a1a1a" stroke-width="1"/>
<line x1="341.0" y1="128.93" x2="343.5" y2="128.93" stroke="#1a1a1a" stroke-width="1"/>
<line x1="43.0" y1="125.88" x2="40.5" y2="125.88" stroke="#1a1a1a" stroke-width="1"/>
<line x1="341.0" y1="125.88" x2="343.5" y2="125.88" stroke="#1a1a1a" stroke-width="1"/>
<line x1="43.0" y1="122.83" x2="40.5" y2="122.83" stroke="#1a1a1a" stroke-width="1"/>
<line x1="341.0" y1="122.83" x2="343.5" y2="122.83" stroke="#1a1a1a" stroke-width="1"/>
<line x1="43.0" y1="119.77" x2="38.4" y2="119.77" stroke="#1a1a1a" stroke-width="1"/>
<line x1="341.0" y1="119.77" x2="345.6" y2="119.77" stroke="#1a1a1a" stroke-width="1"/>
<line x1="43.0" y1="116.72" x2="40.5" y2="116.72" stroke="#1a1a1a" stroke-width="1"/>
<line x1="341.0" y1="116.72" x2="343.5" y2="116.72" stroke="#1a1a1a" stroke-width="1"/>
<line x1="43.0" y1="113.66" x2="40.5" y2="113.66" stroke="#1a1a1a" stroke-width="1"/>
<line x1="341.0" y1="113.66" x2="343.5" y2="113.66" stroke="#1a1a1a" stroke-width="1"/>
<line x1="43.0" y1="110.61" x2="40.5" y2="110.61" stroke="#1a1a1a" stroke-width="1"/>
<line x1="341.0" y1="110.61" x2="343.5" y2="110.61" stroke="#1a1a1a" stroke-width="1"/>
<line x1="43.0" y1="107.55" x2="40.5" y2="107.55" stroke="#1a1a1a" stroke-width="1"/>
<line x1="341.0" y1="107.55" x2="343.5" y2="107.55" stroke="#1a1a1a" stroke-width="1"/>
<line x1="43.0" y1="104.50" x2="40.5" y2="104.50" stroke="#1a1a1a" stroke-width="1"/>
<line x1="341.0" y1="104.50" x2="343.5" y2="104.50" stroke="#1a1a1a" stroke-width="1"/>
<text x="34.4" y="168.33" font-size="9.9" fill="#1a1a1a" text-anchor="end" stroke="#1a1a1a" stroke-width="0.2">0.50</text>
<text x="34.4" y="153.06" font-size="9.9" fill="#1a1a1a" text-anchor="end" stroke="#1a1a1a" stroke-width="0.2">0.75</text>
<text x="34.4" y="137.79" font-size="9.9" fill="#1a1a1a" text-anchor="end" stroke="#1a1a1a" stroke-width="0.2">1.00</text>
<text x="34.4" y="122.52" font-size="9.9" fill="#1a1a1a" text-anchor="end" stroke="#1a1a1a" stroke-width="0.2">1.25</text>
<rect x="43.0" y="177.8" width="298.0" height="73.3" fill="none" stroke="#1a1a1a" stroke-width="1.3"/>
<line x1="43.00" y1="177.8" x2="43.00" y2="173.4" stroke="#1a1a1a" stroke-width="1.05"/>
<line x1="43.00" y1="251.10000000000002" x2="43.00" y2="255.50000000000003" stroke="#1a1a1a" stroke-width="1.05"/>
<line x1="57.90" y1="177.8" x2="57.90" y2="175.4" stroke="#1a1a1a" stroke-width="1.05"/>
<line x1="57.90" y1="251.10000000000002" x2="57.90" y2="253.50000000000003" stroke="#1a1a1a" stroke-width="1.05"/>
<line x1="72.80" y1="177.8" x2="72.80" y2="175.4" stroke="#1a1a1a" stroke-width="1.05"/>
<line x1="72.80" y1="251.10000000000002" x2="72.80" y2="253.50000000000003" stroke="#1a1a1a" stroke-width="1.05"/>
<line x1="87.70" y1="177.8" x2="87.70" y2="175.4" stroke="#1a1a1a" stroke-width="1.05"/>
<line x1="87.70" y1="251.10000000000002" x2="87.70" y2="253.50000000000003" stroke="#1a1a1a" stroke-width="1.05"/>
<line x1="102.60" y1="177.8" x2="102.60" y2="175.4" stroke="#1a1a1a" stroke-width="1.05"/>
<line x1="102.60" y1="251.10000000000002" x2="102.60" y2="253.50000000000003" stroke="#1a1a1a" stroke-width="1.05"/>
<line x1="117.50" y1="177.8" x2="117.50" y2="173.4" stroke="#1a1a1a" stroke-width="1.05"/>
<line x1="117.50" y1="251.10000000000002" x2="117.50" y2="255.50000000000003" stroke="#1a1a1a" stroke-width="1.05"/>
<line x1="132.40" y1="177.8" x2="132.40" y2="175.4" stroke="#1a1a1a" stroke-width="1.05"/>
<line x1="132.40" y1="251.10000000000002" x2="132.40" y2="253.50000000000003" stroke="#1a1a1a" stroke-width="1.05"/>
<line x1="147.30" y1="177.8" x2="147.30" y2="175.4" stroke="#1a1a1a" stroke-width="1.05"/>
<line x1="147.30" y1="251.10000000000002" x2="147.30" y2="253.50000000000003" stroke="#1a1a1a" stroke-width="1.05"/>
<line x1="162.20" y1="177.8" x2="162.20" y2="175.4" stroke="#1a1a1a" stroke-width="1.05"/>
<line x1="162.20" y1="251.10000000000002" x2="162.20" y2="253.50000000000003" stroke="#1a1a1a" stroke-width="1.05"/>
<line x1="177.10" y1="177.8" x2="177.10" y2="175.4" stroke="#1a1a1a" stroke-width="1.05"/>
<line x1="177.10" y1="251.10000000000002" x2="177.10" y2="253.50000000000003" stroke="#1a1a1a" stroke-width="1.05"/>
<line x1="192.00" y1="177.8" x2="192.00" y2="173.4" stroke="#1a1a1a" stroke-width="1.05"/>
<line x1="192.00" y1="251.10000000000002" x2="192.00" y2="255.50000000000003" stroke="#1a1a1a" stroke-width="1.05"/>
<line x1="206.90" y1="177.8" x2="206.90" y2="175.4" stroke="#1a1a1a" stroke-width="1.05"/>
<line x1="206.90" y1="251.10000000000002" x2="206.90" y2="253.50000000000003" stroke="#1a1a1a" stroke-width="1.05"/>
<line x1="221.80" y1="177.8" x2="221.80" y2="175.4" stroke="#1a1a1a" stroke-width="1.05"/>
<line x1="221.80" y1="251.10000000000002" x2="221.80" y2="253.50000000000003" stroke="#1a1a1a" stroke-width="1.05"/>
<line x1="236.70" y1="177.8" x2="236.70" y2="175.4" stroke="#1a1a1a" stroke-width="1.05"/>
<line x1="236.70" y1="251.10000000000002" x2="236.70" y2="253.50000000000003" stroke="#1a1a1a" stroke-width="1.05"/>
<line x1="251.60" y1="177.8" x2="251.60" y2="175.4" stroke="#1a1a1a" stroke-width="1.05"/>
<line x1="251.60" y1="251.10000000000002" x2="251.60" y2="253.50000000000003" stroke="#1a1a1a" stroke-width="1.05"/>
<line x1="266.50" y1="177.8" x2="266.50" y2="173.4" stroke="#1a1a1a" stroke-width="1.05"/>
<line x1="266.50" y1="251.10000000000002" x2="266.50" y2="255.50000000000003" stroke="#1a1a1a" stroke-width="1.05"/>
<line x1="281.40" y1="177.8" x2="281.40" y2="175.4" stroke="#1a1a1a" stroke-width="1.05"/>
<line x1="281.40" y1="251.10000000000002" x2="281.40" y2="253.50000000000003" stroke="#1a1a1a" stroke-width="1.05"/>
<line x1="296.30" y1="177.8" x2="296.30" y2="175.4" stroke="#1a1a1a" stroke-width="1.05"/>
<line x1="296.30" y1="251.10000000000002" x2="296.30" y2="253.50000000000003" stroke="#1a1a1a" stroke-width="1.05"/>
<line x1="311.20" y1="177.8" x2="311.20" y2="175.4" stroke="#1a1a1a" stroke-width="1.05"/>
<line x1="311.20" y1="251.10000000000002" x2="311.20" y2="253.50000000000003" stroke="#1a1a1a" stroke-width="1.05"/>
<line x1="326.10" y1="177.8" x2="326.10" y2="175.4" stroke="#1a1a1a" stroke-width="1.05"/>
<line x1="326.10" y1="251.10000000000002" x2="326.10" y2="253.50000000000003" stroke="#1a1a1a" stroke-width="1.05"/>
<line x1="341.00" y1="177.8" x2="341.00" y2="173.4" stroke="#1a1a1a" stroke-width="1.05"/>
<line x1="341.00" y1="251.10000000000002" x2="341.00" y2="255.50000000000003" stroke="#1a1a1a" stroke-width="1.05"/>
<line x1="43.0" y1="251.10" x2="40.5" y2="251.10" stroke="#1a1a1a" stroke-width="1"/>
<line x1="341.0" y1="251.10" x2="343.5" y2="251.10" stroke="#1a1a1a" stroke-width="1"/>
<line x1="43.0" y1="248.05" x2="40.5" y2="248.05" stroke="#1a1a1a" stroke-width="1"/>
<line x1="341.0" y1="248.05" x2="343.5" y2="248.05" stroke="#1a1a1a" stroke-width="1"/>
<line x1="43.0" y1="244.99" x2="40.5" y2="244.99" stroke="#1a1a1a" stroke-width="1"/>
<line x1="341.0" y1="244.99" x2="343.5" y2="244.99" stroke="#1a1a1a" stroke-width="1"/>
<line x1="43.0" y1="241.94" x2="40.5" y2="241.94" stroke="#1a1a1a" stroke-width="1"/>
<line x1="341.0" y1="241.94" x2="343.5" y2="241.94" stroke="#1a1a1a" stroke-width="1"/>
<line x1="43.0" y1="238.88" x2="38.4" y2="238.88" stroke="#1a1a1a" stroke-width="1"/>
<line x1="341.0" y1="238.88" x2="345.6" y2="238.88" stroke="#1a1a1a" stroke-width="1"/>
<line x1="43.0" y1="235.83" x2="40.5" y2="235.83" stroke="#1a1a1a" stroke-width="1"/>
<line x1="341.0" y1="235.83" x2="343.5" y2="235.83" stroke="#1a1a1a" stroke-width="1"/>
<line x1="43.0" y1="232.78" x2="40.5" y2="232.78" stroke="#1a1a1a" stroke-width="1"/>
<line x1="341.0" y1="232.78" x2="343.5" y2="232.78" stroke="#1a1a1a" stroke-width="1"/>
<line x1="43.0" y1="229.72" x2="40.5" y2="229.72" stroke="#1a1a1a" stroke-width="1"/>
<line x1="341.0" y1="229.72" x2="343.5" y2="229.72" stroke="#1a1a1a" stroke-width="1"/>
<line x1="43.0" y1="226.67" x2="40.5" y2="226.67" stroke="#1a1a1a" stroke-width="1"/>
<line x1="341.0" y1="226.67" x2="343.5" y2="226.67" stroke="#1a1a1a" stroke-width="1"/>
<line x1="43.0" y1="223.61" x2="38.4" y2="223.61" stroke="#1a1a1a" stroke-width="1"/>
<line x1="341.0" y1="223.61" x2="345.6" y2="223.61" stroke="#1a1a1a" stroke-width="1"/>
<line x1="43.0" y1="220.56" x2="40.5" y2="220.56" stroke="#1a1a1a" stroke-width="1"/>
<line x1="341.0" y1="220.56" x2="343.5" y2="220.56" stroke="#1a1a1a" stroke-width="1"/>
<line x1="43.0" y1="217.50" x2="40.5" y2="217.50" stroke="#1a1a1a" stroke-width="1"/>
<line x1="341.0" y1="217.50" x2="343.5" y2="217.50" stroke="#1a1a1a" stroke-width="1"/>
<line x1="43.0" y1="214.45" x2="40.5" y2="214.45" stroke="#1a1a1a" stroke-width="1"/>
<line x1="341.0" y1="214.45" x2="343.5" y2="214.45" stroke="#1a1a1a" stroke-width="1"/>
<line x1="43.0" y1="211.40" x2="40.5" y2="211.40" stroke="#1a1a1a" stroke-width="1"/>
<line x1="341.0" y1="211.40" x2="343.5" y2="211.40" stroke="#1a1a1a" stroke-width="1"/>
<line x1="43.0" y1="208.34" x2="38.4" y2="208.34" stroke="#1a1a1a" stroke-width="1"/>
<line x1="341.0" y1="208.34" x2="345.6" y2="208.34" stroke="#1a1a1a" stroke-width="1"/>
<line x1="43.0" y1="205.29" x2="40.5" y2="205.29" stroke="#1a1a1a" stroke-width="1"/>
<line x1="341.0" y1="205.29" x2="343.5" y2="205.29" stroke="#1a1a1a" stroke-width="1"/>
<line x1="43.0" y1="202.23" x2="40.5" y2="202.23" stroke="#1a1a1a" stroke-width="1"/>
<line x1="341.0" y1="202.23" x2="343.5" y2="202.23" stroke="#1a1a1a" stroke-width="1"/>
<line x1="43.0" y1="199.18" x2="40.5" y2="199.18" stroke="#1a1a1a" stroke-width="1"/>
<line x1="341.0" y1="199.18" x2="343.5" y2="199.18" stroke="#1a1a1a" stroke-width="1"/>
<line x1="43.0" y1="196.12" x2="40.5" y2="196.12" stroke="#1a1a1a" stroke-width="1"/>
<line x1="341.0" y1="196.12" x2="343.5" y2="196.12" stroke="#1a1a1a" stroke-width="1"/>
<line x1="43.0" y1="193.07" x2="38.4" y2="193.07" stroke="#1a1a1a" stroke-width="1"/>
<line x1="341.0" y1="193.07" x2="345.6" y2="193.07" stroke="#1a1a1a" stroke-width="1"/>
<line x1="43.0" y1="190.02" x2="40.5" y2="190.02" stroke="#1a1a1a" stroke-width="1"/>
<line x1="341.0" y1="190.02" x2="343.5" y2="190.02" stroke="#1a1a1a" stroke-width="1"/>
<line x1="43.0" y1="186.96" x2="40.5" y2="186.96" stroke="#1a1a1a" stroke-width="1"/>
<line x1="341.0" y1="186.96" x2="343.5" y2="186.96" stroke="#1a1a1a" stroke-width="1"/>
<line x1="43.0" y1="183.91" x2="40.5" y2="183.91" stroke="#1a1a1a" stroke-width="1"/>
<line x1="341.0" y1="183.91" x2="343.5" y2="183.91" stroke="#1a1a1a" stroke-width="1"/>
<line x1="43.0" y1="180.85" x2="40.5" y2="180.85" stroke="#1a1a1a" stroke-width="1"/>
<line x1="341.0" y1="180.85" x2="343.5" y2="180.85" stroke="#1a1a1a" stroke-width="1"/>
<line x1="43.0" y1="177.80" x2="40.5" y2="177.80" stroke="#1a1a1a" stroke-width="1"/>
<line x1="341.0" y1="177.80" x2="343.5" y2="177.80" stroke="#1a1a1a" stroke-width="1"/>
<text x="34.4" y="241.63" font-size="9.9" fill="#1a1a1a" text-anchor="end" stroke="#1a1a1a" stroke-width="0.2">0.50</text>
<text x="34.4" y="226.36" font-size="9.9" fill="#1a1a1a" text-anchor="end" stroke="#1a1a1a" stroke-width="0.2">0.75</text>
<text x="34.4" y="211.09" font-size="9.9" fill="#1a1a1a" text-anchor="end" stroke="#1a1a1a" stroke-width="0.2">1.00</text>
<text x="34.4" y="195.82" font-size="9.9" fill="#1a1a1a" text-anchor="end" stroke="#1a1a1a" stroke-width="0.2">1.25</text>
<text x="43.00" y="266.45" font-size="9.9" fill="#1a1a1a" text-anchor="middle" stroke="#1a1a1a" stroke-width="0.2">0</text>
<text x="117.50" y="266.45" font-size="9.9" fill="#1a1a1a" text-anchor="middle" stroke="#1a1a1a" stroke-width="0.2">5</text>
<text x="192.00" y="266.45" font-size="9.9" fill="#1a1a1a" text-anchor="middle" stroke="#1a1a1a" stroke-width="0.2">10</text>
<text x="266.50" y="266.45" font-size="9.9" fill="#1a1a1a" text-anchor="middle" stroke="#1a1a1a" stroke-width="0.2">15</text>
<text x="341.00" y="266.45" font-size="9.9" fill="#1a1a1a" text-anchor="middle" stroke="#1a1a1a" stroke-width="0.2">20</text>
<text x="97" y="281.6" font-size="12.5" fill="#1a1a1a" stroke="#1a1a1a" stroke-width="0.2">Volume of titrating solution, V (mL)</text>
<text transform="translate(9.9,140.3) rotate(-90)" font-size="12.26" fill="#1a1a1a" text-anchor="middle" stroke="#1a1a1a" stroke-width="0.2">Potential, E (V)</text>
<path d="M398.0,105.8L399.5,107.3L400.9,108.8L402.4,110.3L403.9,111.6L405.4,112.9L406.8,114.1L408.3,115.3L409.8,116.4L411.3,117.5L412.7,118.6L414.2,119.8L415.7,121.0L417.2,122.2L418.6,123.3L420.1,124.5L421.6,125.6L423.1,126.6L424.5,127.6L426.0,128.6L427.5,129.5L429.0,130.4L430.4,131.3L431.9,132.0L433.4,132.8L434.9,133.5L436.3,134.2L437.8,134.8L439.3,135.4L440.8,135.9L442.2,136.3L443.7,136.8L445.2,137.2L446.7,137.6L448.1,137.9L449.6,138.2L451.1,138.5L452.6,138.7L454.0,138.9L455.5,139.1L457.0,139.3L458.5,139.5L459.9,139.6L461.4,139.7L462.9,139.9L464.4,140.0L465.8,140.1L467.3,140.2L468.8,140.3L470.3,140.3L471.7,140.4L473.2,140.4L474.7,140.4L476.2,140.5L477.6,140.5L479.1,140.5L480.6,140.6L482.1,140.6L483.5,140.6L485.0,140.6L485.0,140.6L483.5,140.6L482.1,140.6L480.6,140.6L479.1,140.5L477.6,140.5L476.2,140.5L474.7,140.4L473.2,140.4L471.7,140.4L470.3,140.3L468.8,140.3L467.3,140.2L465.8,140.1L464.4,140.0L462.9,139.9L461.4,139.7L459.9,139.6L458.5,139.5L457.0,139.3L455.5,139.1L454.0,138.9L452.6,138.7L451.1,138.5L449.6,138.2L448.1,138.0L446.7,137.6L445.2,137.3L443.7,136.9L442.2,136.5L440.8,136.1L439.3,135.7L437.8,135.2L436.3,134.7L434.9,134.1L433.4,133.6L431.9,133.0L430.4,132.4L429.0,131.8L427.5,131.2L426.0,130.5L424.5,129.9L423.1,129.2L421.6,128.5L420.1,127.9L418.6,127.1L417.2,126.4L415.7,125.7L414.2,124.9L412.7,124.1L411.3,123.4L409.8,122.7L408.3,122.0L406.8,121.3L405.4,120.7L403.9,120.0L402.4,119.4L400.9,118.7L399.5,118.1L398.0,117.5Z" fill="url(#gRed)"/>
<path d="M398.0,117.5L399.5,118.1L400.9,118.7L402.4,119.4L403.9,120.0L405.4,120.7L406.8,121.3L408.3,122.0L409.8,122.7L411.3,123.4L412.7,124.1L414.2,124.9L415.7,125.7L417.2,126.4L418.6,127.1L420.1,127.9L421.6,128.5L423.1,129.2L424.5,129.9L426.0,130.5L427.5,131.2L429.0,131.8L430.4,132.4L431.9,133.0L433.4,133.6L434.9,134.1L436.3,134.7L437.8,135.2L439.3,135.7L440.8,136.1L442.2,136.5L443.7,136.9L445.2,137.3L446.7,137.6L448.1,138.0L449.6,138.2L451.1,138.5L452.6,138.7L454.0,138.9L455.5,139.1L457.0,139.3L458.5,139.5L459.9,139.6L461.4,139.7L462.9,139.9L464.4,140.0L465.8,140.1L467.3,140.2L468.8,140.3L470.3,140.3L471.7,140.4L473.2,140.4L474.7,140.4L476.2,140.5L477.6,140.5L479.1,140.5L480.6,140.6L482.1,140.6L483.5,140.6L485.0,140.6L485.0,140.6L398.0,140.6Z" fill="url(#gYel)"/>
<path d="M516.8,140.5L517.5,140.5L518.2,140.5L518.9,140.4L519.6,140.4L520.3,140.4L521.0,140.3L521.7,140.3L522.4,140.2L523.1,140.2L523.8,140.1L524.4,140.0L525.1,140.0L525.8,139.9L526.5,139.8L527.2,139.6L527.9,139.5L528.6,139.4L529.3,139.2L530.0,139.0L530.7,138.8L531.4,138.6L532.0,138.3L532.7,138.1L533.4,137.8L534.1,137.5L534.8,137.1L535.5,136.7L536.2,136.3L536.9,135.8L537.6,135.3L538.3,134.8L539.0,134.3L539.7,133.7L540.3,133.0L541.0,132.3L541.7,131.6L542.4,130.8L543.1,130.0L543.8,129.2L544.5,128.3L545.2,127.3L545.9,126.3L546.6,125.3L547.3,124.3L547.9,123.2L548.6,122.1L549.3,120.9L550.0,119.8L550.7,118.6L551.4,117.4L552.1,116.2L552.8,115.0L553.5,113.8L554.2,112.6L554.9,111.4L555.5,110.2L556.2,109.0L556.9,107.9L557.6,106.8L558.3,105.8L559.0,104.8L559.7,103.8L560.4,102.9L561.1,102.1L561.8,101.3L562.5,100.7L563.1,100.1L563.8,99.5L564.5,99.1L565.2,98.8L565.9,98.5L566.6,98.4L567.3,98.3L568.0,98.3L568.7,98.5L569.4,98.7L570.1,99.0L570.7,99.4L571.4,99.9L572.1,100.5L572.8,101.1L573.5,101.8L574.2,102.6L574.9,103.5L575.6,104.4L576.3,105.4L577.0,106.5L577.7,107.5L578.3,108.7L579.0,109.8L579.7,111.0L580.4,112.2L581.1,113.4L581.8,114.6L582.5,115.8L583.2,117.0L583.9,118.2L584.6,119.4L585.3,120.6L585.9,121.7L586.6,122.8L587.3,123.9L588.0,125.0L588.7,126.0L589.4,127.0L590.1,128.0L590.8,128.9L591.5,129.7L592.2,130.6L592.9,131.3L593.5,132.1L594.2,132.8L594.9,133.4L595.6,134.1L596.3,134.6L597.0,135.2L597.7,135.7L598.4,136.1L599.1,136.6L599.8,137.0L600.5,137.3L601.1,137.7L601.8,138.0L602.5,138.3L603.2,138.5L603.9,138.7L604.6,139.0L605.3,139.1L606.0,139.3L606.7,139.5L607.4,139.6L608.1,139.7L608.7,139.8L609.4,139.9L610.1,140.0L610.8,140.1L611.5,140.2L612.2,140.2L612.9,140.3L613.6,140.3L614.3,140.4L615.0,140.4L615.7,140.4L616.3,140.4L617.0,140.5L617.7,140.5L618.4,140.5L618.4,140.6L516.8,140.6Z" fill="url(#gPur)"/>
<path d="M516.8,140.5L517.5,140.5L518.2,140.5L518.9,140.4L519.6,140.4L520.3,140.4L521.0,140.3L521.7,140.3L522.4,140.2L523.1,140.2L523.8,140.1L524.4,140.0L525.1,140.0L525.8,139.9L526.5,139.8L527.2,139.6L527.9,139.5L528.6,139.4L529.3,139.2L530.0,139.0L530.7,138.8L531.4,138.6L532.0,138.3L532.7,138.1L533.4,137.8L534.1,137.5L534.8,137.1L535.5,136.7L536.2,136.3L536.9,135.8L537.6,135.3L538.3,134.8L539.0,134.3L539.7,133.7L540.3,133.0L541.0,132.3L541.7,131.6L542.4,130.8L543.1,130.0L543.8,129.2L544.5,128.3L545.2,127.3L545.9,126.3L546.6,125.3L547.3,124.3L547.9,123.2L548.6,122.1L549.3,120.9L550.0,119.8L550.7,118.6L551.4,117.4L552.1,116.2L552.8,115.0L553.5,113.8L554.2,112.6L554.9,111.4L555.5,110.2L556.2,109.0L556.9,107.9L557.6,106.8L558.3,105.8L559.0,104.8L559.7,103.8L560.4,102.9L561.1,102.1L561.8,101.3L562.5,100.7L563.1,100.1L563.8,99.5L564.5,99.1L565.2,98.8L565.9,98.5L566.6,98.4L567.3,98.3L568.0,98.3L568.7,98.5L569.4,98.7L570.1,99.0L570.7,99.4L571.4,99.9L572.1,100.5L572.8,101.1L573.5,101.8L574.2,102.6L574.9,103.5L575.6,104.4L576.3,105.4L577.0,106.5L577.7,107.5L578.3,108.7L579.0,109.8L579.7,111.0L580.4,112.2L581.1,113.4L581.8,114.6L582.5,115.8L583.2,117.0L583.9,118.2L584.6,119.4L585.3,120.6L585.9,121.7L586.6,122.8L587.3,123.9L588.0,125.0L588.7,126.0L589.4,127.0L590.1,128.0L590.8,128.9L591.5,129.7L592.2,130.6L592.9,131.3L593.5,132.1L594.2,132.8L594.9,133.4L595.6,134.1L596.3,134.6L597.0,135.2L597.7,135.7L598.4,136.1L599.1,136.6L599.8,137.0L600.5,137.3L601.1,137.7L601.8,138.0L602.5,138.3L603.2,138.5L603.9,138.7L604.6,139.0L605.3,139.1L606.0,139.3L606.7,139.5L607.4,139.6L608.1,139.7L608.7,139.8L609.4,139.9L610.1,140.0L610.8,140.1L611.5,140.2L612.2,140.2L612.9,140.3L613.6,140.3L614.3,140.4L615.0,140.4L615.7,140.4L616.3,140.4L617.0,140.5L617.7,140.5L618.4,140.5" fill="none" stroke="#111" stroke-width="1.15"/>
<path d="M566.6,140.5L567.3,140.5L568.0,140.4L568.7,140.4L569.4,140.3L570.1,140.2L570.7,140.0L571.4,139.9L572.1,139.7L572.8,139.4L573.5,139.1L574.2,138.7L574.9,138.3L575.6,137.7L576.3,137.1L577.0,136.3L577.7,135.5L578.3,134.4L579.0,133.3L579.7,132.0L580.4,130.5L581.1,128.9L581.8,127.0L582.5,125.1L583.2,122.9L583.9,120.6L584.6,118.1L585.3,115.6L585.9,112.8L586.6,110.0L587.3,107.1L588.0,104.2L588.7,101.2L589.4,98.3L590.1,95.4L590.8,92.5L591.5,89.8L592.2,87.2L592.9,84.7L593.5,82.4L594.2,80.3L594.9,78.4L595.6,76.8L596.3,75.4L597.0,74.2L597.7,73.3L598.4,72.5L599.1,72.0L599.8,71.7L600.5,71.6L601.1,71.5L601.8,71.6L602.5,71.7L603.2,72.0L603.9,72.4L604.6,73.1L605.3,73.9L606.0,74.9L606.7,76.1L607.4,77.6L608.1,79.2L608.7,81.0L609.4,83.0L610.1,85.2L610.8,87.5L611.5,90.0L612.2,92.5L612.9,95.2L613.6,97.9L614.3,100.6L615.0,103.3L615.7,106.1L616.3,108.8L617.0,111.4L617.7,114.0L618.4,116.5L619.1,118.9L619.8,121.1L620.5,123.2L621.2,125.2L621.9,127.1L622.6,128.7L623.3,130.3L623.9,131.7L624.6,132.9L625.3,134.1L626.0,135.1L626.7,135.9L627.4,136.7L628.1,137.3L628.8,137.9L629.5,138.4L630.2,138.8L630.9,139.1L631.6,139.4L632.2,139.7L632.9,139.9L633.6,140.0L634.3,140.1L635.0,140.2L635.7,140.3L636.4,140.4L637.1,140.4L637.8,140.5L638.5,140.5L638.5,140.6L566.6,140.6Z" fill="url(#gPur)"/>
<path d="M566.6,140.5L567.3,140.5L568.0,140.4L568.7,140.4L569.4,140.3L570.1,140.2L570.7,140.0L571.4,139.9L572.1,139.7L572.8,139.4L573.5,139.1L574.2,138.7L574.9,138.3L575.6,137.7L576.3,137.1L577.0,136.3L577.7,135.5L578.3,134.4L579.0,133.3L579.7,132.0L580.4,130.5L581.1,128.9L581.8,127.0L582.5,125.1L583.2,122.9L583.9,120.6L584.6,118.1L585.3,115.6L585.9,112.8L586.6,110.0L587.3,107.1L588.0,104.2L588.7,101.2L589.4,98.3L590.1,95.4L590.8,92.5L591.5,89.8L592.2,87.2L592.9,84.7L593.5,82.4L594.2,80.3L594.9,78.4L595.6,76.8L596.3,75.4L597.0,74.2L597.7,73.3L598.4,72.5L599.1,72.0L599.8,71.7L600.5,71.6L601.1,71.5L601.8,71.6L602.5,71.7L603.2,72.0L603.9,72.4L604.6,73.1L605.3,73.9L606.0,74.9L606.7,76.1L607.4,77.6L608.1,79.2L608.7,81.0L609.4,83.0L610.1,85.2L610.8,87.5L611.5,90.0L612.2,92.5L612.9,95.2L613.6,97.9L614.3,100.6L615.0,103.3L615.7,106.1L616.3,108.8L617.0,111.4L617.7,114.0L618.4,116.5L619.1,118.9L619.8,121.1L620.5,123.2L621.2,125.2L621.9,127.1L622.6,128.7L623.3,130.3L623.9,131.7L624.6,132.9L625.3,134.1L626.0,135.1L626.7,135.9L627.4,136.7L628.1,137.3L628.8,137.9L629.5,138.4L630.2,138.8L630.9,139.1L631.6,139.4L632.2,139.7L632.9,139.9L633.6,140.0L634.3,140.1L635.0,140.2L635.7,140.3L636.4,140.4L637.1,140.4L637.8,140.5L638.5,140.5" fill="none" stroke="#111" stroke-width="1.15"/>
<path d="M401.5,140.5L402.1,140.5L402.8,140.5L403.5,140.5L404.2,140.5L404.9,140.4L405.6,140.4L406.3,140.4L407.0,140.4L407.7,140.4L408.4,140.4L409.1,140.3L409.7,140.3L410.4,140.3L411.1,140.3L411.8,140.2L412.5,140.2L413.2,140.2L413.9,140.1L414.6,140.1L415.3,140.1L416.0,140.0L416.7,140.0L417.3,139.9L418.0,139.9L418.7,139.8L419.4,139.8L420.1,139.7L420.8,139.6L421.5,139.6L422.2,139.5L422.9,139.4L423.6,139.4L424.3,139.3L424.9,139.2L425.6,139.1L426.3,139.0L427.0,138.9L427.7,138.8L428.4,138.7L429.1,138.5L429.8,138.4L430.5,138.3L431.2,138.2L431.9,138.0L432.5,137.9L433.2,137.7L433.9,137.6L434.6,137.4L435.3,137.2L436.0,137.0L436.7,136.9L437.4,136.7L438.1,136.5L438.8,136.3L439.5,136.0L440.1,135.8L440.8,135.6L441.5,135.4L442.2,135.1L442.9,134.9L443.6,134.7L444.3,134.4L445.0,134.1L445.7,133.9L446.4,133.6L447.1,133.3L447.8,133.1L448.4,132.8L449.1,132.5L449.8,132.2L450.5,131.9L451.2,131.6L451.9,131.3L452.6,131.0L453.3,130.7L454.0,130.4L454.7,130.1L455.4,129.8L456.0,129.5L456.7,129.2L457.4,128.9L458.1,128.5L458.8,128.2L459.5,127.9L460.2,127.7L460.9,127.4L461.6,127.1L462.3,126.8L463.0,126.5L463.6,126.2L464.3,126.0L465.0,125.7L465.7,125.5L466.4,125.2L467.1,125.0L467.8,124.8L468.5,124.6L469.2,124.4L469.9,124.2L470.6,124.0L471.2,123.8L471.9,123.6L472.6,123.5L473.3,123.4L474.0,123.2L474.7,123.1L475.4,123.0L476.1,123.0L476.8,122.9L477.5,122.9L478.2,122.8L478.8,122.8L479.5,122.8L480.2,122.8L480.9,122.8L481.6,122.9L482.3,122.9L483.0,123.0L483.7,123.1L484.4,123.2L485.1,123.4L485.8,123.5L486.4,123.7L487.1,123.8L487.8,124.0L488.5,124.3L489.2,124.5L489.9,124.7L490.6,125.0L491.3,125.2L492.0,125.5L492.7,125.8L493.4,126.1L494.0,126.4L494.7,126.7L495.4,127.0L496.1,127.3L496.8,127.7L497.5,128.0L498.2,128.3L498.9,128.7L499.6,129.0L500.3,129.4L501.0,129.7L501.6,130.1L502.3,130.4L503.0,130.8L503.7,131.1L504.4,131.4L505.1,131.8L505.8,132.1L506.5,132.4L507.2,132.8L507.9,133.1L508.6,133.4L509.2,133.7L509.9,134.0L510.6,134.3L511.3,134.6L512.0,134.9L512.7,135.2L513.4,135.4L514.1,135.7L514.8,135.9L515.5,136.2L516.2,136.4L516.8,136.6L517.5,136.8L518.2,137.1L518.9,137.3L519.6,137.4L520.3,137.6L521.0,137.8L521.7,138.0L522.4,138.1L523.1,138.3L523.8,138.4L524.4,138.6L525.1,138.7L525.8,138.8L526.5,139.0L527.2,139.1L527.9,139.2L528.6,139.3L529.3,139.4L530.0,139.5L530.7,139.5L531.4,139.6L532.0,139.7L532.7,139.8L533.4,139.8L534.1,139.9L534.8,139.9L535.5,140.0L536.2,140.0L536.9,140.1L537.6,140.1L538.3,140.2L539.0,140.2L539.7,140.2L540.3,140.3L541.0,140.3L541.7,140.3L542.4,140.4L543.1,140.4L543.8,140.4L544.5,140.4L545.2,140.4L545.9,140.4L546.6,140.5L547.3,140.5L547.9,140.5L548.6,140.5L548.6,140.6L401.5,140.6Z" fill="url(#gGrn)"/>
<path d="M401.5,140.5L402.1,140.5L402.8,140.5L403.5,140.5L404.2,140.5L404.9,140.4L405.6,140.4L406.3,140.4L407.0,140.4L407.7,140.4L408.4,140.4L409.1,140.3L409.7,140.3L410.4,140.3L411.1,140.3L411.8,140.2L412.5,140.2L413.2,140.2L413.9,140.1L414.6,140.1L415.3,140.1L416.0,140.0L416.7,140.0L417.3,139.9L418.0,139.9L418.7,139.8L419.4,139.8L420.1,139.7L420.8,139.6L421.5,139.6L422.2,139.5L422.9,139.4L423.6,139.4L424.3,139.3L424.9,139.2L425.6,139.1L426.3,139.0L427.0,138.9L427.7,138.8L428.4,138.7L429.1,138.5L429.8,138.4L430.5,138.3L431.2,138.2L431.9,138.0L432.5,137.9L433.2,137.7L433.9,137.6L434.6,137.4L435.3,137.2L436.0,137.0L436.7,136.9L437.4,136.7L438.1,136.5L438.8,136.3L439.5,136.0L440.1,135.8L440.8,135.6L441.5,135.4L442.2,135.1L442.9,134.9L443.6,134.7L444.3,134.4L445.0,134.1L445.7,133.9L446.4,133.6L447.1,133.3L447.8,133.1L448.4,132.8L449.1,132.5L449.8,132.2L450.5,131.9L451.2,131.6L451.9,131.3L452.6,131.0L453.3,130.7L454.0,130.4L454.7,130.1L455.4,129.8L456.0,129.5L456.7,129.2L457.4,128.9L458.1,128.5L458.8,128.2L459.5,127.9L460.2,127.7L460.9,127.4L461.6,127.1L462.3,126.8L463.0,126.5L463.6,126.2L464.3,126.0L465.0,125.7L465.7,125.5L466.4,125.2L467.1,125.0L467.8,124.8L468.5,124.6L469.2,124.4L469.9,124.2L470.6,124.0L471.2,123.8L471.9,123.6L472.6,123.5L473.3,123.4L474.0,123.2L474.7,123.1L475.4,123.0L476.1,123.0L476.8,122.9L477.5,122.9L478.2,122.8L478.8,122.8L479.5,122.8L480.2,122.8L480.9,122.8L481.6,122.9L482.3,122.9L483.0,123.0L483.7,123.1L484.4,123.2L485.1,123.4L485.8,123.5L486.4,123.7L487.1,123.8L487.8,124.0L488.5,124.3L489.2,124.5L489.9,124.7L490.6,125.0L491.3,125.2L492.0,125.5L492.7,125.8L493.4,126.1L494.0,126.4L494.7,126.7L495.4,127.0L496.1,127.3L496.8,127.7L497.5,128.0L498.2,128.3L498.9,128.7L499.6,129.0L500.3,129.4L501.0,129.7L501.6,130.1L502.3,130.4L503.0,130.8L503.7,131.1L504.4,131.4L505.1,131.8L505.8,132.1L506.5,132.4L507.2,132.8L507.9,133.1L508.6,133.4L509.2,133.7L509.9,134.0L510.6,134.3L511.3,134.6L512.0,134.9L512.7,135.2L513.4,135.4L514.1,135.7L514.8,135.9L515.5,136.2L516.2,136.4L516.8,136.6L517.5,136.8L518.2,137.1L518.9,137.3L519.6,137.4L520.3,137.6L521.0,137.8L521.7,138.0L522.4,138.1L523.1,138.3L523.8,138.4L524.4,138.6L525.1,138.7L525.8,138.8L526.5,139.0L527.2,139.1L527.9,139.2L528.6,139.3L529.3,139.4L530.0,139.5L530.7,139.5L531.4,139.6L532.0,139.7L532.7,139.8L533.4,139.8L534.1,139.9L534.8,139.9L535.5,140.0L536.2,140.0L536.9,140.1L537.6,140.1L538.3,140.2L539.0,140.2L539.7,140.2L540.3,140.3L541.0,140.3L541.7,140.3L542.4,140.4L543.1,140.4L543.8,140.4L544.5,140.4L545.2,140.4L545.9,140.4L546.6,140.5L547.3,140.5L547.9,140.5L548.6,140.5" fill="none" stroke="#111" stroke-width="1.15"/>
<path d="M519.6,140.5L520.3,140.5L521.0,140.5L521.7,140.5L522.4,140.4L523.1,140.4L523.8,140.4L524.4,140.4L525.1,140.4L525.8,140.4L526.5,140.3L527.2,140.3L527.9,140.3L528.6,140.3L529.3,140.2L530.0,140.2L530.7,140.2L531.4,140.1L532.0,140.1L532.7,140.0L533.4,140.0L534.1,140.0L534.8,139.9L535.5,139.8L536.2,139.8L536.9,139.7L537.6,139.7L538.3,139.6L539.0,139.5L539.7,139.4L540.3,139.4L541.0,139.3L541.7,139.2L542.4,139.1L543.1,139.0L543.8,138.9L544.5,138.8L545.2,138.7L545.9,138.5L546.6,138.4L547.3,138.3L547.9,138.1L548.6,138.0L549.3,137.8L550.0,137.7L550.7,137.5L551.4,137.3L552.1,137.2L552.8,137.0L553.5,136.8L554.2,136.6L554.9,136.4L555.5,136.2L556.2,136.0L556.9,135.8L557.6,135.6L558.3,135.3L559.0,135.1L559.7,134.9L560.4,134.6L561.1,134.4L561.8,134.1L562.5,133.9L563.1,133.6L563.8,133.3L564.5,133.1L565.2,132.8L565.9,132.5L566.6,132.3L567.3,132.0L568.0,131.7L568.7,131.5L569.4,131.2L570.1,130.9L570.7,130.6L571.4,130.4L572.1,130.1L572.8,129.9L573.5,129.6L574.2,129.3L574.9,129.1L575.6,128.9L576.3,128.6L577.0,128.4L577.7,128.2L578.3,128.0L579.0,127.8L579.7,127.6L580.4,127.4L581.1,127.2L581.8,127.0L582.5,126.9L583.2,126.7L583.9,126.6L584.6,126.5L585.3,126.4L585.9,126.3L586.6,126.2L587.3,126.1L588.0,126.0L588.7,126.0L589.4,126.0L590.1,126.0L590.8,126.0L591.5,126.0L592.2,126.0L592.9,126.0L593.5,126.1L594.2,126.1L594.9,126.2L595.6,126.3L596.3,126.4L597.0,126.5L597.7,126.7L598.4,126.8L599.1,126.9L599.8,127.1L600.5,127.3L601.1,127.5L601.8,127.7L602.5,127.9L603.2,128.1L603.9,128.3L604.6,128.5L605.3,128.7L606.0,129.0L606.7,129.2L607.4,129.5L608.1,129.7L608.7,130.0L609.4,130.3L610.1,130.5L610.8,130.8L611.5,131.1L612.2,131.3L612.9,131.6L613.6,131.9L614.3,132.1L615.0,132.4L615.7,132.7L616.3,132.9L617.0,133.2L617.7,133.5L618.4,133.7L619.1,134.0L619.8,134.2L620.5,134.5L621.2,134.7L621.9,135.0L622.6,135.2L623.3,135.4L623.9,135.7L624.6,135.9L625.3,136.1L626.0,136.3L626.7,136.5L627.4,136.7L628.1,136.9L628.8,137.1L629.5,137.3L630.2,137.4L630.9,137.6L631.6,137.8L632.2,137.9L632.9,138.1L633.6,138.2L634.3,138.3L635.0,138.5L635.7,138.6L636.4,138.7L637.1,138.8L637.8,138.9L638.5,139.0L639.2,139.1L639.8,139.2L640.5,139.3L641.2,139.4L641.9,139.5L642.6,139.6L643.3,139.6L644.0,139.7L644.7,139.8L645.4,139.8L646.1,139.9L646.8,139.9L647.4,140.0L648.1,140.0L648.8,140.1L649.5,140.1L650.2,140.1L650.9,140.2L651.6,140.2L652.3,140.2L653.0,140.3L653.7,140.3L654.4,140.3L655.0,140.3L655.7,140.4L656.4,140.4L657.1,140.4L657.8,140.4L658.5,140.4L659.2,140.5L659.9,140.5L660.6,140.5L661.3,140.5L662.0,140.5L662.0,140.6L519.6,140.6Z" fill="url(#gGrn)"/>
<path d="M519.6,140.5L520.3,140.5L521.0,140.5L521.7,140.5L522.4,140.4L523.1,140.4L523.8,140.4L524.4,140.4L525.1,140.4L525.8,140.4L526.5,140.3L527.2,140.3L527.9,140.3L528.6,140.3L529.3,140.2L530.0,140.2L530.7,140.2L531.4,140.1L532.0,140.1L532.7,140.0L533.4,140.0L534.1,140.0L534.8,139.9L535.5,139.8L536.2,139.8L536.9,139.7L537.6,139.7L538.3,139.6L539.0,139.5L539.7,139.4L540.3,139.4L541.0,139.3L541.7,139.2L542.4,139.1L543.1,139.0L543.8,138.9L544.5,138.8L545.2,138.7L545.9,138.5L546.6,138.4L547.3,138.3L547.9,138.1L548.6,138.0L549.3,137.8L550.0,137.7L550.7,137.5L551.4,137.3L552.1,137.2L552.8,137.0L553.5,136.8L554.2,136.6L554.9,136.4L555.5,136.2L556.2,136.0L556.9,135.8L557.6,135.6L558.3,135.3L559.0,135.1L559.7,134.9L560.4,134.6L561.1,134.4L561.8,134.1L562.5,133.9L563.1,133.6L563.8,133.3L564.5,133.1L565.2,132.8L565.9,132.5L566.6,132.3L567.3,132.0L568.0,131.7L568.7,131.5L569.4,131.2L570.1,130.9L570.7,130.6L571.4,130.4L572.1,130.1L572.8,129.9L573.5,129.6L574.2,129.3L574.9,129.1L575.6,128.9L576.3,128.6L577.0,128.4L577.7,128.2L578.3,128.0L579.0,127.8L579.7,127.6L580.4,127.4L581.1,127.2L581.8,127.0L582.5,126.9L583.2,126.7L583.9,126.6L584.6,126.5L585.3,126.4L585.9,126.3L586.6,126.2L587.3,126.1L588.0,126.0L588.7,126.0L589.4,126.0L590.1,126.0L590.8,126.0L591.5,126.0L592.2,126.0L592.9,126.0L593.5,126.1L594.2,126.1L594.9,126.2L595.6,126.3L596.3,126.4L597.0,126.5L597.7,126.7L598.4,126.8L599.1,126.9L599.8,127.1L600.5,127.3L601.1,127.5L601.8,127.7L602.5,127.9L603.2,128.1L603.9,128.3L604.6,128.5L605.3,128.7L606.0,129.0L606.7,129.2L607.4,129.5L608.1,129.7L608.7,130.0L609.4,130.3L610.1,130.5L610.8,130.8L611.5,131.1L612.2,131.3L612.9,131.6L613.6,131.9L614.3,132.1L615.0,132.4L615.7,132.7L616.3,132.9L617.0,133.2L617.7,133.5L618.4,133.7L619.1,134.0L619.8,134.2L620.5,134.5L621.2,134.7L621.9,135.0L622.6,135.2L623.3,135.4L623.9,135.7L624.6,135.9L625.3,136.1L626.0,136.3L626.7,136.5L627.4,136.7L628.1,136.9L628.8,137.1L629.5,137.3L630.2,137.4L630.9,137.6L631.6,137.8L632.2,137.9L632.9,138.1L633.6,138.2L634.3,138.3L635.0,138.5L635.7,138.6L636.4,138.7L637.1,138.8L637.8,138.9L638.5,139.0L639.2,139.1L639.8,139.2L640.5,139.3L641.2,139.4L641.9,139.5L642.6,139.6L643.3,139.6L644.0,139.7L644.7,139.8L645.4,139.8L646.1,139.9L646.8,139.9L647.4,140.0L648.1,140.0L648.8,140.1L649.5,140.1L650.2,140.1L650.9,140.2L651.6,140.2L652.3,140.2L653.0,140.3L653.7,140.3L654.4,140.3L655.0,140.3L655.7,140.4L656.4,140.4L657.1,140.4L657.8,140.4L658.5,140.4L659.2,140.5L659.9,140.5L660.6,140.5L661.3,140.5L662.0,140.5" fill="none" stroke="#111" stroke-width="1.15"/>
<path d="M398.0,140.4L398.7,140.3L399.4,140.3L400.1,140.3L400.8,140.3L401.5,140.2L402.1,140.2L402.8,140.2L403.5,140.1L404.2,140.1L404.9,140.0L405.6,140.0L406.3,139.9L407.0,139.9L407.7,139.8L408.4,139.7L409.1,139.7L409.7,139.6L410.4,139.5L411.1,139.5L411.8,139.4L412.5,139.3L413.2,139.2L413.9,139.1L414.6,139.0L415.3,138.9L416.0,138.8L416.7,138.7L417.3,138.6L418.0,138.5L418.7,138.4L419.4,138.3L420.1,138.2L420.8,138.1L421.5,137.9L422.2,137.8L422.9,137.7L423.6,137.6L424.3,137.5L424.9,137.4L425.6,137.2L426.3,137.1L427.0,137.0L427.7,136.9L428.4,136.8L429.1,136.7L429.8,136.6L430.5,136.5L431.2,136.4L431.9,136.3L432.5,136.2L433.2,136.2L433.9,136.1L434.6,136.0L435.3,136.0L436.0,135.9L436.7,135.9L437.4,135.8L438.1,135.8L438.8,135.8L439.5,135.8L440.1,135.8L440.8,135.8L441.5,135.8L442.2,135.8L442.9,135.9L443.6,135.9L444.3,135.9L445.0,136.0L445.7,136.1L446.4,136.1L447.1,136.2L447.8,136.3L448.4,136.3L449.1,136.4L449.8,136.5L450.5,136.6L451.2,136.7L451.9,136.8L452.6,136.9L453.3,137.1L454.0,137.2L454.7,137.3L455.4,137.4L456.0,137.5L456.7,137.6L457.4,137.8L458.1,137.9L458.8,138.0L459.5,138.1L460.2,138.2L460.9,138.3L461.6,138.4L462.3,138.6L463.0,138.7L463.6,138.8L464.3,138.9L465.0,139.0L465.7,139.1L466.4,139.2L467.1,139.2L467.8,139.3L468.5,139.4L469.2,139.5L469.9,139.6L470.6,139.6L471.2,139.7L471.9,139.8L472.6,139.8L473.3,139.9L474.0,139.9L474.7,140.0L475.4,140.0L476.1,140.1L476.8,140.1L477.5,140.2L478.2,140.2L478.8,140.2L479.5,140.3L480.2,140.3L480.9,140.3L481.6,140.4L482.3,140.4L483.0,140.4L483.7,140.4L484.4,140.4L485.1,140.5L485.8,140.5L486.4,140.5L487.1,140.5L487.1,140.6L398.0,140.6Z" fill="url(#gPur)"/>
<path d="M398.0,140.4L398.7,140.3L399.4,140.3L400.1,140.3L400.8,140.3L401.5,140.2L402.1,140.2L402.8,140.2L403.5,140.1L404.2,140.1L404.9,140.0L405.6,140.0L406.3,139.9L407.0,139.9L407.7,139.8L408.4,139.7L409.1,139.7L409.7,139.6L410.4,139.5L411.1,139.5L411.8,139.4L412.5,139.3L413.2,139.2L413.9,139.1L414.6,139.0L415.3,138.9L416.0,138.8L416.7,138.7L417.3,138.6L418.0,138.5L418.7,138.4L419.4,138.3L420.1,138.2L420.8,138.1L421.5,137.9L422.2,137.8L422.9,137.7L423.6,137.6L424.3,137.5L424.9,137.4L425.6,137.2L426.3,137.1L427.0,137.0L427.7,136.9L428.4,136.8L429.1,136.7L429.8,136.6L430.5,136.5L431.2,136.4L431.9,136.3L432.5,136.2L433.2,136.2L433.9,136.1L434.6,136.0L435.3,136.0L436.0,135.9L436.7,135.9L437.4,135.8L438.1,135.8L438.8,135.8L439.5,135.8L440.1,135.8L440.8,135.8L441.5,135.8L442.2,135.8L442.9,135.9L443.6,135.9L444.3,135.9L445.0,136.0L445.7,136.1L446.4,136.1L447.1,136.2L447.8,136.3L448.4,136.3L449.1,136.4L449.8,136.5L450.5,136.6L451.2,136.7L451.9,136.8L452.6,136.9L453.3,137.1L454.0,137.2L454.7,137.3L455.4,137.4L456.0,137.5L456.7,137.6L457.4,137.8L458.1,137.9L458.8,138.0L459.5,138.1L460.2,138.2L460.9,138.3L461.6,138.4L462.3,138.6L463.0,138.7L463.6,138.8L464.3,138.9L465.0,139.0L465.7,139.1L466.4,139.2L467.1,139.2L467.8,139.3L468.5,139.4L469.2,139.5L469.9,139.6L470.6,139.6L471.2,139.7L471.9,139.8L472.6,139.8L473.3,139.9L474.0,139.9L474.7,140.0L475.4,140.0L476.1,140.1L476.8,140.1L477.5,140.2L478.2,140.2L478.8,140.2L479.5,140.3L480.2,140.3L480.9,140.3L481.6,140.4L482.3,140.4L483.0,140.4L483.7,140.4L484.4,140.4L485.1,140.5L485.8,140.5L486.4,140.5L487.1,140.5" fill="none" stroke="#111" stroke-width="1.15"/>
<path d="M398.0,117.5L399.5,118.1L400.9,118.7L402.4,119.4L403.9,120.0L405.4,120.7L406.8,121.3L408.3,122.0L409.8,122.7L411.3,123.4L412.7,124.1L414.2,124.9L415.7,125.7L417.2,126.4L418.6,127.1L420.1,127.9L421.6,128.5L423.1,129.2L424.5,129.9L426.0,130.5L427.5,131.2L429.0,131.8L430.4,132.4L431.9,133.0L433.4,133.6L434.9,134.1L436.3,134.7L437.8,135.2L439.3,135.7L440.8,136.1L442.2,136.5L443.7,136.9L445.2,137.3L446.7,137.6L448.1,138.0L449.6,138.2L451.1,138.5L452.6,138.7L454.0,138.9L455.5,139.1L457.0,139.3L458.5,139.5L459.9,139.6L461.4,139.7L462.9,139.9L464.4,140.0L465.8,140.1L467.3,140.2L468.8,140.3L470.3,140.3L471.7,140.4L473.2,140.4L474.7,140.4L476.2,140.5L477.6,140.5L479.1,140.5L480.6,140.6L482.1,140.6L483.5,140.6L485.0,140.6" fill="none" stroke="#111" stroke-width="1.15"/>
<path d="M398.0,105.8L399.5,107.3L400.9,108.8L402.4,110.3L403.9,111.6L405.4,112.9L406.8,114.1L408.3,115.3L409.8,116.4L411.3,117.5L412.7,118.6L414.2,119.8L415.7,121.0L417.2,122.2L418.6,123.3L420.1,124.5L421.6,125.6L423.1,126.6L424.5,127.6L426.0,128.6L427.5,129.5L429.0,130.4L430.4,131.3L431.9,132.0L433.4,132.8L434.9,133.5L436.3,134.2L437.8,134.8L439.3,135.4L440.8,135.9L442.2,136.3L443.7,136.8L445.2,137.2L446.7,137.6L448.1,137.9L449.6,138.2L451.1,138.5L452.6,138.7L454.0,138.9L455.5,139.1L457.0,139.3L458.5,139.5L459.9,139.6L461.4,139.7L462.9,139.9L464.4,140.0L465.8,140.1L467.3,140.2L468.8,140.3L470.3,140.3L471.7,140.4L473.2,140.4L474.7,140.4L476.2,140.5L477.6,140.5L479.1,140.5L480.6,140.6L482.1,140.6L483.5,140.6L485.0,140.6" fill="none" stroke="#111" stroke-width="1.15" stroke-dasharray="4,1.6,1.2,1.6"/>
<path d="M398.0,45.9L399.4,46.0L400.8,46.0L402.2,46.1L403.5,46.2L404.9,46.3L406.3,46.3L407.7,46.4L409.1,46.5L410.5,46.7L411.9,46.8L413.2,46.9L414.6,47.0L416.0,47.1L417.4,47.3L418.8,47.5L420.2,47.7L421.6,47.8L422.9,48.0L424.3,48.2L425.7,48.4L427.1,48.5L428.5,48.7L429.9,48.8L431.3,48.9L432.6,49.1L434.0,49.2L435.4,49.3L436.8,49.4L438.2,49.5L439.6,49.5L440.9,49.5L442.3,49.5L443.7,49.5L445.1,49.5L446.5,49.5L447.9,49.5L449.3,49.5L450.6,49.5L452.0,49.5L453.4,49.5L454.8,49.5L456.2,49.5L457.6,49.5L459.0,49.5L460.3,49.5L461.7,49.5L463.1,49.5L464.5,49.5L465.9,49.5L467.3,49.5L468.7,49.5L470.0,49.5L471.4,49.5L472.8,49.5L474.2,49.5L475.6,49.5L477.0,49.5L478.4,49.5L479.7,49.5L481.1,49.5L482.5,49.5L483.9,49.5L485.3,49.5L486.7,49.5L488.1,49.5L489.4,49.4L490.8,49.4L492.2,49.4L493.6,49.3L495.0,49.3L496.4,49.2L497.8,49.2L499.1,49.1L500.5,49.1L501.9,49.0L503.3,49.0L504.7,48.9L506.1,48.8L507.4,48.8L508.8,48.7L510.2,48.7L511.6,48.6L513.0,48.6L514.4,48.5L515.8,48.4L517.1,48.4L518.5,48.3L519.9,48.2L521.3,48.1L522.7,48.1L524.1,48.0L525.5,48.0L526.8,48.0L528.2,48.0L529.6,48.1L531.0,48.3L532.4,48.6L533.8,48.9L535.2,49.1L536.5,49.4L537.9,49.6L539.3,49.8L540.7,49.8L542.1,49.8L543.5,49.8L544.9,49.8L546.2,49.7L547.6,49.7L549.0,49.6L550.4,49.6L551.8,49.5L553.2,49.3L554.6,49.0L555.9,48.8L557.3,48.5L558.7,48.3L560.1,48.1L561.5,47.9L562.9,47.9L564.3,48.0L565.6,48.3L567.0,48.6L568.4,49.0L569.8,49.4L571.2,49.7L572.6,50.0L573.9,50.2L575.3,50.2L576.7,49.9L578.1,49.3L579.5,48.6L580.9,47.8L582.3,46.9L583.6,46.2L585.0,45.6L586.4,45.3L587.8,45.4L589.2,45.7L590.6,46.4L592.0,47.2L593.3,48.0L594.7,48.9L596.1,49.6L597.5,50.2L598.9,50.5L600.3,50.4L601.7,50.0L603.0,49.3L604.4,48.5L605.8,47.7L607.2,46.9L608.6,46.3L610.0,45.9L611.4,45.9L612.7,46.1L614.1,46.5L615.5,46.9L616.9,47.5L618.3,48.1L619.7,48.6L621.1,49.2L622.4,49.6L623.8,50.0L625.2,50.2L626.6,50.2L628.0,50.2L629.4,50.2L630.8,50.1L632.1,50.1L633.5,50.0L634.9,50.0L636.3,49.9L637.7,49.8L639.1,49.8L640.4,49.7L641.8,49.6L643.2,49.5L644.6,49.4L646.0,49.3L647.4,49.2L648.8,49.1L650.1,49.0L651.5,48.9L652.9,48.7L654.3,48.6L655.7,48.4L657.1,48.3L658.5,48.1L659.8,47.9L661.2,47.7L662.6,47.5L664.0,47.3L665.4,47.1L666.8,46.8L668.2,46.6L669.5,46.4L670.9,46.1L672.3,45.9L673.7,45.6" fill="none" stroke="#999" stroke-width="0.9" stroke-dasharray="1,2.2"/>
<path d="M398.0,80.8L398.8,81.7L399.6,82.5L400.4,83.4L401.2,84.3L401.9,85.2L402.7,86.1L403.5,87.0L404.3,87.9L405.1,88.8L405.9,89.8L406.7,90.7L407.5,91.7L408.3,92.7L409.1,93.7L409.8,94.7L410.6,95.8L411.4,96.8L412.2,97.8L413.0,98.8L413.8,99.8L414.6,100.7L415.4,101.7L416.2,102.6L417.0,103.5L417.7,104.5L418.5,105.4L419.3,106.3L420.1,107.1L420.9,108.0L421.7,108.8L422.5,109.6L423.3,110.4L424.1,111.1L424.9,111.9L425.6,112.6L426.4,113.3L427.2,114.0L428.0,114.7L428.8,115.3L429.6,116.0L430.4,116.7L431.2,117.3L432.0,117.9L432.8,118.4L433.5,118.8L434.3,119.1L435.1,119.5L435.9,119.8L436.7,120.1L437.5,120.3L438.3,120.6L439.1,120.8L439.9,121.0L440.7,121.2L441.4,121.5L442.2,121.6L443.0,121.8L443.8,122.0L444.6,122.1L445.4,122.2L446.2,122.3L447.0,122.4L447.8,122.5L448.6,122.6L449.3,122.7L450.1,122.8L450.9,122.8L451.7,122.9L452.5,123.0L453.3,123.0L454.1,123.0L454.9,123.1L455.7,123.1L456.5,123.1L457.2,123.1L458.0,123.1L458.8,123.1L459.6,123.1L460.4,123.1L461.2,123.1L462.0,123.1L462.8,123.0L463.6,123.0L464.4,123.0L465.1,123.0L465.9,123.0L466.7,123.0L467.5,123.0L468.3,122.9L469.1,122.9L469.9,122.9L470.7,122.9L471.5,122.8L472.3,122.8L473.0,122.8L473.8,122.8L474.6,122.8L475.4,122.8L476.2,122.8L477.0,122.9L477.8,122.9L478.6,122.9L479.4,123.0L480.2,123.0L480.9,123.0L481.7,123.1L482.5,123.1L483.3,123.2L484.1,123.3L484.9,123.4L485.7,123.5L486.5,123.6L487.3,123.8L488.1,123.9L488.8,124.1L489.6,124.2L490.4,124.4L491.2,124.5L492.0,124.7L492.8,124.9L493.6,125.1L494.4,125.3L495.2,125.5L496.0,125.7L496.7,126.0L497.5,126.2L498.3,126.5L499.1,126.7L499.9,127.0L500.7,127.3L501.5,127.6L502.3,127.9L503.1,128.2L503.9,128.4L504.6,128.7L505.4,129.1L506.2,129.4L507.0,129.8L507.8,130.1L508.6,130.5L509.4,130.9L510.2,131.3L511.0,131.7L511.8,132.0L512.5,132.4L513.3,132.8L514.1,133.1L514.9,133.5L515.7,133.8L516.5,134.1L517.3,134.4L518.1,134.8L518.9,135.1L519.7,135.4L520.4,135.6L521.2,135.9L522.0,136.2L522.8,136.5L523.6,136.8L524.4,137.0L525.2,137.1L526.0,137.2L526.8,137.1L527.6,136.8L528.3,136.4L529.1,135.9L529.9,135.4L530.7,134.9L531.5,134.5L532.3,134.0L533.1,133.5L533.9,132.9L534.7,132.3L535.5,131.8L536.2,131.2L537.0,130.5L537.8,129.9L538.6,129.2L539.4,128.5L540.2,127.8L541.0,127.1L541.8,126.4L542.6,125.6L543.4,124.8L544.1,124.0L544.9,123.1L545.7,122.0L546.5,120.9L547.3,119.7L548.1,118.4L548.9,117.1L549.7,115.9L550.5,114.6L551.3,113.4L552.0,112.1L552.8,110.8L553.6,109.5L554.4,108.1L555.2,106.8L556.0,105.4L556.8,104.0L557.6,102.5L558.4,100.8L559.2,99.0L559.9,97.3L560.7,95.8L561.5,94.7L562.3,93.6L563.1,92.6L563.9,91.6L564.7,90.8L565.5,90.1L566.3,89.5L567.1,88.9L567.8,88.4L568.6,87.9L569.4,87.5L570.2,87.0L571.0,86.6L571.8,86.2L572.6,85.8L573.4,85.5L574.2,85.1L575.0,84.7L575.7,84.3L576.5,83.9L577.3,83.3L578.1,82.6L578.9,81.9L579.7,81.0L580.5,80.1L581.3,79.2L582.1,78.2L582.9,77.1L583.6,76.0L584.4,74.8L585.2,73.5L586.0,72.1L586.8,70.7L587.6,69.3L588.4,67.9L589.2,66.5L590.0,65.1L590.8,63.8L591.5,62.5L592.3,61.1L593.1,59.8L593.9,58.5L594.7,57.2L595.5,55.9L596.3,54.5L597.1,52.9L597.9,51.5L598.7,50.7L599.4,50.8L600.2,51.9L601.0,53.5L601.8,55.1L602.6,56.7L603.4,58.3L604.2,60.1L605.0,61.8L605.8,63.5L606.6,65.3L607.3,67.1L608.1,69.1L608.9,71.1L609.7,73.1L610.5,75.1L611.3,77.2L612.1,79.6L612.9,82.1L613.7,84.9L614.5,87.8L615.2,91.0L616.0,94.4L616.8,98.1L617.6,102.2L618.4,106.6L619.2,110.9L620.0,114.9L620.8,118.8L621.6,122.4L622.4,125.4L623.1,128.0L623.9,130.4L624.7,132.4L625.5,134.0L626.3,135.3L627.1,136.5L627.9,137.6L628.7,138.5L629.5,139.1L630.3,139.4L631.0,139.6L631.8,139.8L632.6,140.0L633.4,140.1L634.2,140.3L635.0,140.4L635.8,140.5L636.6,140.6L637.4,140.7L638.2,140.7L638.9,140.8L639.7,140.8L640.5,140.8L641.3,140.8L642.1,140.8L642.9,140.9L643.7,140.9L644.5,140.9L645.3,140.9L646.1,140.9L646.8,140.9L647.6,140.9L648.4,140.9L649.2,141.0L650.0,141.0L650.8,141.0L651.6,141.0L652.4,141.0L653.2,141.0L654.0,141.0L654.7,141.0L655.5,141.0L656.3,141.0L657.1,141.0L657.9,141.0L658.7,141.0L659.5,141.1L660.3,141.1L661.1,141.1L661.9,141.1L662.6,141.1L663.4,141.1L664.2,141.1L665.0,141.1L665.8,141.1L666.6,141.1L667.4,141.1L668.2,141.1L669.0,141.1L669.8,141.1L670.5,141.1L671.3,141.1L672.1,141.1L672.9,141.1L673.7,141.1" fill="none" stroke="#d4dc1c" stroke-width="1.3" stroke-dasharray="4.5,2.2"/>
<path d="M398.0,80.3L398.8,81.2L399.6,82.0L400.4,82.9L401.2,83.8L401.9,84.7L402.7,85.6L403.5,86.5L404.3,87.4L405.1,88.3L405.9,89.3L406.7,90.2L407.5,91.2L408.3,92.2L409.1,93.2L409.8,94.2L410.6,95.3L411.4,96.3L412.2,97.3L413.0,98.3L413.8,99.3L414.6,100.2L415.4,101.2L416.2,102.1L417.0,103.0L417.7,104.0L418.5,104.9L419.3,105.8L420.1,106.6L420.9,107.5L421.7,108.3L422.5,109.1L423.3,109.9L424.1,110.6L424.9,111.4L425.6,112.1L426.4,112.8L427.2,113.5L428.0,114.2L428.8,114.8L429.6,115.5L430.4,116.2L431.2,116.8L432.0,117.4L432.8,117.9L433.5,118.3L434.3,118.6L435.1,119.0L435.9,119.3L436.7,119.6L437.5,119.8L438.3,120.1L439.1,120.3L439.9,120.5L440.7,120.7L441.4,121.0L442.2,121.1L443.0,121.3L443.8,121.5L444.6,121.6L445.4,121.7L446.2,121.8L447.0,121.9L447.8,122.0L448.6,122.1L449.3,122.2L450.1,122.3L450.9,122.3L451.7,122.4L452.5,122.5L453.3,122.5L454.1,122.5L454.9,122.6L455.7,122.6L456.5,122.6L457.2,122.6L458.0,122.6L458.8,122.6L459.6,122.6L460.4,122.6L461.2,122.6L462.0,122.6L462.8,122.5L463.6,122.5L464.4,122.5L465.1,122.5L465.9,122.5L466.7,122.5L467.5,122.5L468.3,122.4L469.1,122.4L469.9,122.4L470.7,122.4L471.5,122.3L472.3,122.3L473.0,122.3L473.8,122.3L474.6,122.3L475.4,122.3L476.2,122.3L477.0,122.4L477.8,122.4L478.6,122.4L479.4,122.5L480.2,122.5L480.9,122.5L481.7,122.6L482.5,122.6L483.3,122.7L484.1,122.8L484.9,122.9L485.7,123.0L486.5,123.1L487.3,123.3L488.1,123.4L488.8,123.6L489.6,123.7L490.4,123.9L491.2,124.0L492.0,124.2L492.8,124.4L493.6,124.6L494.4,124.8L495.2,125.0L496.0,125.2L496.7,125.5L497.5,125.7L498.3,126.0L499.1,126.2L499.9,126.5L500.7,126.8L501.5,127.1L502.3,127.4L503.1,127.7L503.9,127.9L504.6,128.2L505.4,128.6L506.2,128.9L507.0,129.3L507.8,129.6L508.6,130.0L509.4,130.4L510.2,130.8L511.0,131.2L511.8,131.5L512.5,131.9L513.3,132.3L514.1,132.6L514.9,133.0L515.7,133.3L516.5,133.6L517.3,133.9L518.1,134.3L518.9,134.6L519.7,134.9L520.4,135.1L521.2,135.4L522.0,135.7L522.8,136.0L523.6,136.3L524.4,136.5L525.2,136.6L526.0,136.7L526.8,136.6L527.6,136.3L528.3,135.9L529.1,135.4L529.9,134.9L530.7,134.4L531.5,134.0L532.3,133.5L533.1,133.0L533.9,132.4L534.7,131.8L535.5,131.3L536.2,130.7L537.0,130.0L537.8,129.4L538.6,128.7L539.4,128.0L540.2,127.3L541.0,126.6L541.8,125.9L542.6,125.1L543.4,124.3L544.1,123.5L544.9,122.6L545.7,121.5L546.5,120.4L547.3,119.2L548.1,117.9L548.9,116.6L549.7,115.4L550.5,114.1L551.3,112.9L552.0,111.6L552.8,110.3L553.6,109.0L554.4,107.6L555.2,106.3L556.0,104.9L556.8,103.5L557.6,102.0L558.4,100.3L559.2,98.5L559.9,96.8L560.7,95.3L561.5,94.2L562.3,93.1L563.1,92.1L563.9,91.1L564.7,90.3L565.5,89.6L566.3,89.0L567.1,88.4L567.8,87.9L568.6,87.4L569.4,87.0L570.2,86.5L571.0,86.1L571.8,85.7L572.6,85.3L573.4,85.0L574.2,84.6L575.0,84.2L575.7,83.8L576.5,83.4L577.3,82.8L578.1,82.1L578.9,81.4L579.7,80.5L580.5,79.6L581.3,78.7L582.1,77.7L582.9,76.6L583.6,75.5L584.4,74.3L585.2,73.0L586.0,71.6L586.8,70.2L587.6,68.8L588.4,67.4L589.2,66.0L590.0,64.6L590.8,63.3L591.5,62.0L592.3,60.6L593.1,59.3L593.9,58.0L594.7,56.7L595.5,55.4L596.3,54.0L597.1,52.4L597.9,51.0L598.7,50.2L599.4,50.3L600.2,51.4L601.0,53.0L601.8,54.6L602.6,56.2L603.4,57.8L604.2,59.6L605.0,61.3L605.8,63.0L606.6,64.8L607.3,66.6L608.1,68.6L608.9,70.6L609.7,72.6L610.5,74.6L611.3,76.7L612.1,79.1L612.9,81.6L613.7,84.4L614.5,87.3L615.2,90.5L616.0,93.9L616.8,97.6L617.6,101.7L618.4,106.1L619.2,110.4L620.0,114.4L620.8,118.3L621.6,121.9L622.4,124.9L623.1,127.5L623.9,129.9L624.7,131.9L625.5,133.5L626.3,134.8L627.1,136.0L627.9,137.1L628.7,138.0L629.5,138.6L630.3,138.9L631.0,139.1L631.8,139.3L632.6,139.5L633.4,139.6L634.2,139.8L635.0,139.9L635.8,140.0L636.6,140.1L637.4,140.2L638.2,140.2L638.9,140.3L639.7,140.3L640.5,140.3L641.3,140.3L642.1,140.3L642.9,140.4L643.7,140.4L644.5,140.4L645.3,140.4L646.1,140.4L646.8,140.4L647.6,140.4L648.4,140.4L649.2,140.5L650.0,140.5L650.8,140.5L651.6,140.5L652.4,140.5L653.2,140.5L654.0,140.5L654.7,140.5L655.5,140.5L656.3,140.5L657.1,140.5L657.9,140.5L658.7,140.5L659.5,140.6L660.3,140.6L661.1,140.6L661.9,140.6L662.6,140.6L663.4,140.6L664.2,140.6L665.0,140.6L665.8,140.6L666.6,140.6L667.4,140.6L668.2,140.6L669.0,140.6L669.8,140.6L670.5,140.6L671.3,140.6L672.1,140.6L672.9,140.6L673.7,140.6" fill="none" stroke="#111" stroke-width="1.15" stroke-dasharray="3.2,3" stroke-dashoffset="1"/>
<path d="M398.0,220.8L399.5,221.5L400.9,222.3L402.4,223.0L403.9,223.8L405.4,224.6L406.8,225.3L408.3,226.1L409.8,226.9L411.3,227.7L412.7,228.5L414.2,229.3L415.7,230.1L417.2,230.9L418.6,231.8L420.1,232.6L421.6,233.4L423.1,234.2L424.5,235.0L426.0,235.8L427.5,236.6L429.0,237.4L430.4,238.2L431.9,239.0L433.4,239.8L434.9,240.7L436.3,241.5L437.8,242.3L439.3,243.1L440.8,244.1L442.2,245.0L443.7,245.9L445.2,246.6L446.7,247.1L448.1,247.5L449.6,247.9L451.1,248.3L452.6,248.6L454.0,248.8L455.5,249.1L457.0,249.3L458.5,249.5L459.9,249.7L461.4,249.8L462.9,250.0L464.4,250.1L465.8,250.1L467.3,250.2L468.8,250.2L470.3,250.3L471.7,250.3L473.2,250.4L474.7,250.4L476.2,250.4L477.6,250.4L479.1,250.5L480.6,250.5L482.1,250.5L483.5,250.5L485.0,250.5L485.0,250.5L483.5,250.5L482.1,250.5L480.6,250.5L479.1,250.5L477.6,250.4L476.2,250.4L474.7,250.4L473.2,250.3L471.7,250.3L470.3,250.3L468.8,250.2L467.3,250.2L465.8,250.1L464.4,250.1L462.9,250.0L461.4,249.9L459.9,249.8L458.5,249.6L457.0,249.4L455.5,249.3L454.0,249.1L452.6,248.8L451.1,248.6L449.6,248.3L448.1,248.0L446.7,247.6L445.2,247.2L443.7,246.8L442.2,246.3L440.8,245.7L439.3,245.1L437.8,244.5L436.3,243.8L434.9,243.1L433.4,242.3L431.9,241.4L430.4,240.6L429.0,239.8L427.5,239.1L426.0,238.3L424.5,237.5L423.1,236.7L421.6,235.9L420.1,235.1L418.6,234.3L417.2,233.5L415.7,232.7L414.2,231.9L412.7,231.1L411.3,230.3L409.8,229.5L408.3,228.7L406.8,227.9L405.4,227.1L403.9,226.3L402.4,225.5L400.9,224.8L399.5,224.0L398.0,223.2Z" fill="url(#gRed)"/>
<path d="M398.0,223.2L399.5,224.0L400.9,224.8L402.4,225.5L403.9,226.3L405.4,227.1L406.8,227.9L408.3,228.7L409.8,229.5L411.3,230.3L412.7,231.1L414.2,231.9L415.7,232.7L417.2,233.5L418.6,234.3L420.1,235.1L421.6,235.9L423.1,236.7L424.5,237.5L426.0,238.3L427.5,239.1L429.0,239.8L430.4,240.6L431.9,241.4L433.4,242.3L434.9,243.1L436.3,243.8L437.8,244.5L439.3,245.1L440.8,245.7L442.2,246.3L443.7,246.8L445.2,247.2L446.7,247.6L448.1,248.0L449.6,248.3L451.1,248.6L452.6,248.8L454.0,249.1L455.5,249.3L457.0,249.4L458.5,249.6L459.9,249.8L461.4,249.9L462.9,250.0L464.4,250.1L465.8,250.1L467.3,250.2L468.8,250.2L470.3,250.3L471.7,250.3L473.2,250.3L474.7,250.4L476.2,250.4L477.6,250.4L479.1,250.5L480.6,250.5L482.1,250.5L483.5,250.5L485.0,250.5L485.0,250.5L398.0,250.5Z" fill="url(#gYel)"/>
<path d="M515.5,250.4L516.2,250.4L516.8,250.4L517.5,250.3L518.2,250.3L518.9,250.3L519.6,250.2L520.3,250.2L521.0,250.1L521.7,250.1L522.4,250.0L523.1,249.9L523.8,249.8L524.4,249.7L525.1,249.6L525.8,249.5L526.5,249.3L527.2,249.2L527.9,249.0L528.6,248.8L529.3,248.6L530.0,248.3L530.7,248.1L531.4,247.8L532.0,247.5L532.7,247.2L533.4,246.8L534.1,246.4L534.8,246.0L535.5,245.5L536.2,245.0L536.9,244.5L537.6,244.0L538.3,243.4L539.0,242.8L539.7,242.2L540.3,241.5L541.0,240.8L541.7,240.1L542.4,239.4L543.1,238.6L543.8,237.9L544.5,237.1L545.2,236.3L545.9,235.5L546.6,234.7L547.3,233.9L547.9,233.2L548.6,232.4L549.3,231.6L550.0,230.9L550.7,230.2L551.4,229.6L552.1,228.9L552.8,228.3L553.5,227.8L554.2,227.3L554.9,226.9L555.5,226.5L556.2,226.2L556.9,225.9L557.6,225.7L558.3,225.6L559.0,225.6L559.7,225.6L560.4,225.7L561.1,225.8L561.8,226.0L562.5,226.3L563.1,226.6L563.8,227.0L564.5,227.5L565.2,228.0L565.9,228.6L566.6,229.2L567.3,229.8L568.0,230.5L568.7,231.2L569.4,232.0L570.1,232.7L570.7,233.5L571.4,234.3L572.1,235.1L572.8,235.8L573.5,236.6L574.2,237.4L574.9,238.2L575.6,238.9L576.3,239.7L577.0,240.4L577.7,241.1L578.3,241.8L579.0,242.4L579.7,243.1L580.4,243.6L581.1,244.2L581.8,244.7L582.5,245.2L583.2,245.7L583.9,246.2L584.6,246.6L585.3,246.9L585.9,247.3L586.6,247.6L587.3,247.9L588.0,248.2L588.7,248.5L589.4,248.7L590.1,248.9L590.8,249.1L591.5,249.2L592.2,249.4L592.9,249.5L593.5,249.7L594.2,249.8L594.9,249.9L595.6,249.9L596.3,250.0L597.0,250.1L597.7,250.1L598.4,250.2L599.1,250.2L599.8,250.3L600.5,250.3L601.1,250.3L601.8,250.4L602.5,250.4L603.2,250.4L603.2,250.5L515.5,250.5Z" fill="url(#gPur)"/>
<path d="M515.5,250.4L516.2,250.4L516.8,250.4L517.5,250.3L518.2,250.3L518.9,250.3L519.6,250.2L520.3,250.2L521.0,250.1L521.7,250.1L522.4,250.0L523.1,249.9L523.8,249.8L524.4,249.7L525.1,249.6L525.8,249.5L526.5,249.3L527.2,249.2L527.9,249.0L528.6,248.8L529.3,248.6L530.0,248.3L530.7,248.1L531.4,247.8L532.0,247.5L532.7,247.2L533.4,246.8L534.1,246.4L534.8,246.0L535.5,245.5L536.2,245.0L536.9,244.5L537.6,244.0L538.3,243.4L539.0,242.8L539.7,242.2L540.3,241.5L541.0,240.8L541.7,240.1L542.4,239.4L543.1,238.6L543.8,237.9L544.5,237.1L545.2,236.3L545.9,235.5L546.6,234.7L547.3,233.9L547.9,233.2L548.6,232.4L549.3,231.6L550.0,230.9L550.7,230.2L551.4,229.6L552.1,228.9L552.8,228.3L553.5,227.8L554.2,227.3L554.9,226.9L555.5,226.5L556.2,226.2L556.9,225.9L557.6,225.7L558.3,225.6L559.0,225.6L559.7,225.6L560.4,225.7L561.1,225.8L561.8,226.0L562.5,226.3L563.1,226.6L563.8,227.0L564.5,227.5L565.2,228.0L565.9,228.6L566.6,229.2L567.3,229.8L568.0,230.5L568.7,231.2L569.4,232.0L570.1,232.7L570.7,233.5L571.4,234.3L572.1,235.1L572.8,235.8L573.5,236.6L574.2,237.4L574.9,238.2L575.6,238.9L576.3,239.7L577.0,240.4L577.7,241.1L578.3,241.8L579.0,242.4L579.7,243.1L580.4,243.6L581.1,244.2L581.8,244.7L582.5,245.2L583.2,245.7L583.9,246.2L584.6,246.6L585.3,246.9L585.9,247.3L586.6,247.6L587.3,247.9L588.0,248.2L588.7,248.5L589.4,248.7L590.1,248.9L590.8,249.1L591.5,249.2L592.2,249.4L592.9,249.5L593.5,249.7L594.2,249.8L594.9,249.9L595.6,249.9L596.3,250.0L597.0,250.1L597.7,250.1L598.4,250.2L599.1,250.2L599.8,250.3L600.5,250.3L601.1,250.3L601.8,250.4L602.5,250.4L603.2,250.4" fill="none" stroke="#111" stroke-width="1.15"/>
<path d="M570.7,250.4L571.4,250.4L572.1,250.4L572.8,250.3L573.5,250.3L574.2,250.2L574.9,250.2L575.6,250.1L576.3,250.0L577.0,249.9L577.7,249.8L578.3,249.7L579.0,249.5L579.7,249.3L580.4,249.1L581.1,248.8L581.8,248.5L582.5,248.2L583.2,247.8L583.9,247.4L584.6,246.9L585.3,246.4L585.9,245.8L586.6,245.2L587.3,244.4L588.0,243.6L588.7,242.8L589.4,241.8L590.1,240.8L590.8,239.7L591.5,238.5L592.2,237.3L592.9,236.0L593.5,234.6L594.2,233.2L594.9,231.7L595.6,230.2L596.3,228.6L597.0,227.0L597.7,225.4L598.4,223.8L599.1,222.2L599.8,220.6L600.5,219.1L601.1,217.6L601.8,216.2L602.5,214.9L603.2,213.7L603.9,212.6L604.6,211.7L605.3,210.9L606.0,210.2L606.7,209.7L607.4,209.3L608.1,209.1L608.7,209.1L609.4,209.2L610.1,209.5L610.8,210.0L611.5,210.6L612.2,211.4L612.9,212.4L613.6,213.4L614.3,214.6L615.0,215.9L615.7,217.2L616.3,218.7L617.0,220.2L617.7,221.7L618.4,223.3L619.1,224.9L619.8,226.5L620.5,228.1L621.2,229.7L621.9,231.3L622.6,232.8L623.3,234.2L623.9,235.6L624.6,236.9L625.3,238.2L626.0,239.4L626.7,240.5L627.4,241.5L628.1,242.5L628.8,243.4L629.5,244.2L630.2,245.0L630.9,245.6L631.6,246.3L632.2,246.8L632.9,247.3L633.6,247.7L634.3,248.1L635.0,248.5L635.7,248.8L636.4,249.0L637.1,249.3L637.8,249.4L638.5,249.6L639.2,249.8L639.8,249.9L640.5,250.0L641.2,250.1L641.9,250.2L642.6,250.2L643.3,250.3L644.0,250.3L644.7,250.3L645.4,250.4L646.1,250.4L646.1,250.5L570.7,250.5Z" fill="url(#gPur)"/>
<path d="M570.7,250.4L571.4,250.4L572.1,250.4L572.8,250.3L573.5,250.3L574.2,250.2L574.9,250.2L575.6,250.1L576.3,250.0L577.0,249.9L577.7,249.8L578.3,249.7L579.0,249.5L579.7,249.3L580.4,249.1L581.1,248.8L581.8,248.5L582.5,248.2L583.2,247.8L583.9,247.4L584.6,246.9L585.3,246.4L585.9,245.8L586.6,245.2L587.3,244.4L588.0,243.6L588.7,242.8L589.4,241.8L590.1,240.8L590.8,239.7L591.5,238.5L592.2,237.3L592.9,236.0L593.5,234.6L594.2,233.2L594.9,231.7L595.6,230.2L596.3,228.6L597.0,227.0L597.7,225.4L598.4,223.8L599.1,222.2L599.8,220.6L600.5,219.1L601.1,217.6L601.8,216.2L602.5,214.9L603.2,213.7L603.9,212.6L604.6,211.7L605.3,210.9L606.0,210.2L606.7,209.7L607.4,209.3L608.1,209.1L608.7,209.1L609.4,209.2L610.1,209.5L610.8,210.0L611.5,210.6L612.2,211.4L612.9,212.4L613.6,213.4L614.3,214.6L615.0,215.9L615.7,217.2L616.3,218.7L617.0,220.2L617.7,221.7L618.4,223.3L619.1,224.9L619.8,226.5L620.5,228.1L621.2,229.7L621.9,231.3L622.6,232.8L623.3,234.2L623.9,235.6L624.6,236.9L625.3,238.2L626.0,239.4L626.7,240.5L627.4,241.5L628.1,242.5L628.8,243.4L629.5,244.2L630.2,245.0L630.9,245.6L631.6,246.3L632.2,246.8L632.9,247.3L633.6,247.7L634.3,248.1L635.0,248.5L635.7,248.8L636.4,249.0L637.1,249.3L637.8,249.4L638.5,249.6L639.2,249.8L639.8,249.9L640.5,250.0L641.2,250.1L641.9,250.2L642.6,250.2L643.3,250.3L644.0,250.3L644.7,250.3L645.4,250.4L646.1,250.4" fill="none" stroke="#111" stroke-width="1.15"/>
<path d="M402.1,250.4L402.8,250.4L403.5,250.4L404.2,250.4L404.9,250.3L405.6,250.3L406.3,250.3L407.0,250.3L407.7,250.3L408.4,250.3L409.1,250.2L409.7,250.2L410.4,250.2L411.1,250.1L411.8,250.1L412.5,250.1L413.2,250.0L413.9,250.0L414.6,249.9L415.3,249.9L416.0,249.8L416.7,249.8L417.3,249.7L418.0,249.6L418.7,249.6L419.4,249.5L420.1,249.4L420.8,249.3L421.5,249.2L422.2,249.1L422.9,249.0L423.6,248.9L424.3,248.7L424.9,248.6L425.6,248.4L426.3,248.3L427.0,248.1L427.7,247.9L428.4,247.8L429.1,247.6L429.8,247.3L430.5,247.1L431.2,246.9L431.9,246.6L432.5,246.4L433.2,246.1L433.9,245.8L434.6,245.5L435.3,245.2L436.0,244.9L436.7,244.5L437.4,244.2L438.1,243.8L438.8,243.4L439.5,243.0L440.1,242.6L440.8,242.2L441.5,241.7L442.2,241.2L442.9,240.8L443.6,240.2L444.3,239.7L445.0,239.2L445.7,238.7L446.4,238.1L447.1,237.5L447.8,236.9L448.4,236.3L449.1,235.7L449.8,235.1L450.5,234.4L451.2,233.7L451.9,233.1L452.6,232.4L453.3,231.7L454.0,231.0L454.7,230.3L455.4,229.6L456.0,228.9L456.7,228.2L457.4,227.4L458.1,226.7L458.8,226.0L459.5,225.3L460.2,224.6L460.9,223.8L461.6,223.1L462.3,222.4L463.0,221.7L463.6,221.1L464.3,220.4L465.0,219.7L465.7,219.1L466.4,218.4L467.1,217.8L467.8,217.2L468.5,216.7L469.2,216.1L469.9,215.6L470.6,215.1L471.2,214.6L471.9,214.1L472.6,213.7L473.3,213.3L474.0,213.0L474.7,212.6L475.4,212.3L476.1,212.1L476.8,211.8L477.5,211.6L478.2,211.5L478.8,211.3L479.5,211.2L480.2,211.2L480.9,211.2L481.6,211.2L482.3,211.2L483.0,211.3L483.7,211.5L484.4,211.6L485.1,211.9L485.8,212.1L486.4,212.4L487.1,212.7L487.8,213.1L488.5,213.5L489.2,213.9L489.9,214.4L490.6,214.9L491.3,215.4L492.0,216.0L492.7,216.5L493.4,217.1L494.0,217.8L494.7,218.4L495.4,219.1L496.1,219.8L496.8,220.5L497.5,221.2L498.2,221.9L498.9,222.7L499.6,223.4L500.3,224.2L501.0,224.9L501.6,225.7L502.3,226.5L503.0,227.2L503.7,228.0L504.4,228.8L505.1,229.5L505.8,230.3L506.5,231.0L507.2,231.7L507.9,232.5L508.6,233.2L509.2,233.9L509.9,234.6L510.6,235.3L511.3,235.9L512.0,236.6L512.7,237.2L513.4,237.9L514.1,238.5L514.8,239.0L515.5,239.6L516.2,240.2L516.8,240.7L517.5,241.2L518.2,241.7L518.9,242.2L519.6,242.7L520.3,243.1L521.0,243.5L521.7,243.9L522.4,244.3L523.1,244.7L523.8,245.1L524.4,245.4L525.1,245.7L525.8,246.0L526.5,246.3L527.2,246.6L527.9,246.9L528.6,247.1L529.3,247.3L530.0,247.6L530.7,247.8L531.4,248.0L532.0,248.2L532.7,248.3L533.4,248.5L534.1,248.6L534.8,248.8L535.5,248.9L536.2,249.0L536.9,249.2L537.6,249.3L538.3,249.4L539.0,249.5L539.7,249.5L540.3,249.6L541.0,249.7L541.7,249.8L542.4,249.8L543.1,249.9L543.8,249.9L544.5,250.0L545.2,250.0L545.9,250.1L546.6,250.1L547.3,250.2L547.9,250.2L548.6,250.2L549.3,250.2L550.0,250.3L550.7,250.3L551.4,250.3L552.1,250.3L552.8,250.4L553.5,250.4L554.2,250.4L554.9,250.4L554.9,250.5L402.1,250.5Z" fill="url(#gGrn)"/>
<path d="M402.1,250.4L402.8,250.4L403.5,250.4L404.2,250.4L404.9,250.3L405.6,250.3L406.3,250.3L407.0,250.3L407.7,250.3L408.4,250.3L409.1,250.2L409.7,250.2L410.4,250.2L411.1,250.1L411.8,250.1L412.5,250.1L413.2,250.0L413.9,250.0L414.6,249.9L415.3,249.9L416.0,249.8L416.7,249.8L417.3,249.7L418.0,249.6L418.7,249.6L419.4,249.5L420.1,249.4L420.8,249.3L421.5,249.2L422.2,249.1L422.9,249.0L423.6,248.9L424.3,248.7L424.9,248.6L425.6,248.4L426.3,248.3L427.0,248.1L427.7,247.9L428.4,247.8L429.1,247.6L429.8,247.3L430.5,247.1L431.2,246.9L431.9,246.6L432.5,246.4L433.2,246.1L433.9,245.8L434.6,245.5L435.3,245.2L436.0,244.9L436.7,244.5L437.4,244.2L438.1,243.8L438.8,243.4L439.5,243.0L440.1,242.6L440.8,242.2L441.5,241.7L442.2,241.2L442.9,240.8L443.6,240.2L444.3,239.7L445.0,239.2L445.7,238.7L446.4,238.1L447.1,237.5L447.8,236.9L448.4,236.3L449.1,235.7L449.8,235.1L450.5,234.4L451.2,233.7L451.9,233.1L452.6,232.4L453.3,231.7L454.0,231.0L454.7,230.3L455.4,229.6L456.0,228.9L456.7,228.2L457.4,227.4L458.1,226.7L458.8,226.0L459.5,225.3L460.2,224.6L460.9,223.8L461.6,223.1L462.3,222.4L463.0,221.7L463.6,221.1L464.3,220.4L465.0,219.7L465.7,219.1L466.4,218.4L467.1,217.8L467.8,217.2L468.5,216.7L469.2,216.1L469.9,215.6L470.6,215.1L471.2,214.6L471.9,214.1L472.6,213.7L473.3,213.3L474.0,213.0L474.7,212.6L475.4,212.3L476.1,212.1L476.8,211.8L477.5,211.6L478.2,211.5L478.8,211.3L479.5,211.2L480.2,211.2L480.9,211.2L481.6,211.2L482.3,211.2L483.0,211.3L483.7,211.5L484.4,211.6L485.1,211.9L485.8,212.1L486.4,212.4L487.1,212.7L487.8,213.1L488.5,213.5L489.2,213.9L489.9,214.4L490.6,214.9L491.3,215.4L492.0,216.0L492.7,216.5L493.4,217.1L494.0,217.8L494.7,218.4L495.4,219.1L496.1,219.8L496.8,220.5L497.5,221.2L498.2,221.9L498.9,222.7L499.6,223.4L500.3,224.2L501.0,224.9L501.6,225.7L502.3,226.5L503.0,227.2L503.7,228.0L504.4,228.8L505.1,229.5L505.8,230.3L506.5,231.0L507.2,231.7L507.9,232.5L508.6,233.2L509.2,233.9L509.9,234.6L510.6,235.3L511.3,235.9L512.0,236.6L512.7,237.2L513.4,237.9L514.1,238.5L514.8,239.0L515.5,239.6L516.2,240.2L516.8,240.7L517.5,241.2L518.2,241.7L518.9,242.2L519.6,242.7L520.3,243.1L521.0,243.5L521.7,243.9L522.4,244.3L523.1,244.7L523.8,245.1L524.4,245.4L525.1,245.7L525.8,246.0L526.5,246.3L527.2,246.6L527.9,246.9L528.6,247.1L529.3,247.3L530.0,247.6L530.7,247.8L531.4,248.0L532.0,248.2L532.7,248.3L533.4,248.5L534.1,248.6L534.8,248.8L535.5,248.9L536.2,249.0L536.9,249.2L537.6,249.3L538.3,249.4L539.0,249.5L539.7,249.5L540.3,249.6L541.0,249.7L541.7,249.8L542.4,249.8L543.1,249.9L543.8,249.9L544.5,250.0L545.2,250.0L545.9,250.1L546.6,250.1L547.3,250.2L547.9,250.2L548.6,250.2L549.3,250.2L550.0,250.3L550.7,250.3L551.4,250.3L552.1,250.3L552.8,250.4L553.5,250.4L554.2,250.4L554.9,250.4" fill="none" stroke="#111" stroke-width="1.15"/>
<path d="M520.3,250.4L521.0,250.4L521.7,250.4L522.4,250.4L523.1,250.3L523.8,250.3L524.4,250.3L525.1,250.3L525.8,250.2L526.5,250.2L527.2,250.2L527.9,250.2L528.6,250.1L529.3,250.1L530.0,250.0L530.7,250.0L531.4,249.9L532.0,249.9L532.7,249.8L533.4,249.7L534.1,249.6L534.8,249.6L535.5,249.5L536.2,249.4L536.9,249.3L537.6,249.2L538.3,249.0L539.0,248.9L539.7,248.8L540.3,248.6L541.0,248.5L541.7,248.3L542.4,248.1L543.1,247.9L543.8,247.7L544.5,247.5L545.2,247.2L545.9,247.0L546.6,246.7L547.3,246.5L547.9,246.2L548.6,245.9L549.3,245.5L550.0,245.2L550.7,244.9L551.4,244.5L552.1,244.1L552.8,243.7L553.5,243.3L554.2,242.9L554.9,242.4L555.5,242.0L556.2,241.5L556.9,241.0L557.6,240.5L558.3,240.0L559.0,239.4L559.7,238.9L560.4,238.3L561.1,237.8L561.8,237.2L562.5,236.6L563.1,236.0L563.8,235.4L564.5,234.8L565.2,234.2L565.9,233.6L566.6,233.0L567.3,232.4L568.0,231.8L568.7,231.2L569.4,230.6L570.1,230.0L570.7,229.5L571.4,228.9L572.1,228.3L572.8,227.8L573.5,227.3L574.2,226.8L574.9,226.3L575.6,225.8L576.3,225.4L577.0,225.0L577.7,224.6L578.3,224.2L579.0,223.9L579.7,223.6L580.4,223.3L581.1,223.0L581.8,222.8L582.5,222.6L583.2,222.5L583.9,222.4L584.6,222.3L585.3,222.3L585.9,222.3L586.6,222.3L587.3,222.4L588.0,222.5L588.7,222.6L589.4,222.8L590.1,223.0L590.8,223.2L591.5,223.5L592.2,223.8L592.9,224.1L593.5,224.5L594.2,224.8L594.9,225.2L595.6,225.7L596.3,226.1L597.0,226.6L597.7,227.1L598.4,227.6L599.1,228.2L599.8,228.7L600.5,229.3L601.1,229.9L601.8,230.4L602.5,231.0L603.2,231.6L603.9,232.2L604.6,232.8L605.3,233.5L606.0,234.1L606.7,234.7L607.4,235.3L608.1,235.9L608.7,236.5L609.4,237.0L610.1,237.6L610.8,238.2L611.5,238.7L612.2,239.3L612.9,239.8L613.6,240.3L614.3,240.8L615.0,241.3L615.7,241.8L616.3,242.3L617.0,242.7L617.7,243.2L618.4,243.6L619.1,244.0L619.8,244.4L620.5,244.8L621.2,245.1L621.9,245.4L622.6,245.8L623.3,246.1L623.9,246.4L624.6,246.7L625.3,246.9L626.0,247.2L626.7,247.4L627.4,247.6L628.1,247.8L628.8,248.0L629.5,248.2L630.2,248.4L630.9,248.6L631.6,248.7L632.2,248.9L632.9,249.0L633.6,249.1L634.3,249.2L635.0,249.3L635.7,249.4L636.4,249.5L637.1,249.6L637.8,249.7L638.5,249.8L639.2,249.8L639.8,249.9L640.5,250.0L641.2,250.0L641.9,250.1L642.6,250.1L643.3,250.1L644.0,250.2L644.7,250.2L645.4,250.2L646.1,250.3L646.8,250.3L647.4,250.3L648.1,250.3L648.8,250.4L649.5,250.4L650.2,250.4L650.9,250.4L650.9,250.5L520.3,250.5Z" fill="url(#gGrn)"/>
<path d="M520.3,250.4L521.0,250.4L521.7,250.4L522.4,250.4L523.1,250.3L523.8,250.3L524.4,250.3L525.1,250.3L525.8,250.2L526.5,250.2L527.2,250.2L527.9,250.2L528.6,250.1L529.3,250.1L530.0,250.0L530.7,250.0L531.4,249.9L532.0,249.9L532.7,249.8L533.4,249.7L534.1,249.6L534.8,249.6L535.5,249.5L536.2,249.4L536.9,249.3L537.6,249.2L538.3,249.0L539.0,248.9L539.7,248.8L540.3,248.6L541.0,248.5L541.7,248.3L542.4,248.1L543.1,247.9L543.8,247.7L544.5,247.5L545.2,247.2L545.9,247.0L546.6,246.7L547.3,246.5L547.9,246.2L548.6,245.9L549.3,245.5L550.0,245.2L550.7,244.9L551.4,244.5L552.1,244.1L552.8,243.7L553.5,243.3L554.2,242.9L554.9,242.4L555.5,242.0L556.2,241.5L556.9,241.0L557.6,240.5L558.3,240.0L559.0,239.4L559.7,238.9L560.4,238.3L561.1,237.8L561.8,237.2L562.5,236.6L563.1,236.0L563.8,235.4L564.5,234.8L565.2,234.2L565.9,233.6L566.6,233.0L567.3,232.4L568.0,231.8L568.7,231.2L569.4,230.6L570.1,230.0L570.7,229.5L571.4,228.9L572.1,228.3L572.8,227.8L573.5,227.3L574.2,226.8L574.9,226.3L575.6,225.8L576.3,225.4L577.0,225.0L577.7,224.6L578.3,224.2L579.0,223.9L579.7,223.6L580.4,223.3L581.1,223.0L581.8,222.8L582.5,222.6L583.2,222.5L583.9,222.4L584.6,222.3L585.3,222.3L585.9,222.3L586.6,222.3L587.3,222.4L588.0,222.5L588.7,222.6L589.4,222.8L590.1,223.0L590.8,223.2L591.5,223.5L592.2,223.8L592.9,224.1L593.5,224.5L594.2,224.8L594.9,225.2L595.6,225.7L596.3,226.1L597.0,226.6L597.7,227.1L598.4,227.6L599.1,228.2L599.8,228.7L600.5,229.3L601.1,229.9L601.8,230.4L602.5,231.0L603.2,231.6L603.9,232.2L604.6,232.8L605.3,233.5L606.0,234.1L606.7,234.7L607.4,235.3L608.1,235.9L608.7,236.5L609.4,237.0L610.1,237.6L610.8,238.2L611.5,238.7L612.2,239.3L612.9,239.8L613.6,240.3L614.3,240.8L615.0,241.3L615.7,241.8L616.3,242.3L617.0,242.7L617.7,243.2L618.4,243.6L619.1,244.0L619.8,244.4L620.5,244.8L621.2,245.1L621.9,245.4L622.6,245.8L623.3,246.1L623.9,246.4L624.6,246.7L625.3,246.9L626.0,247.2L626.7,247.4L627.4,247.6L628.1,247.8L628.8,248.0L629.5,248.2L630.2,248.4L630.9,248.6L631.6,248.7L632.2,248.9L632.9,249.0L633.6,249.1L634.3,249.2L635.0,249.3L635.7,249.4L636.4,249.5L637.1,249.6L637.8,249.7L638.5,249.8L639.2,249.8L639.8,249.9L640.5,250.0L641.2,250.0L641.9,250.1L642.6,250.1L643.3,250.1L644.0,250.2L644.7,250.2L645.4,250.2L646.1,250.3L646.8,250.3L647.4,250.3L648.1,250.3L648.8,250.4L649.5,250.4L650.2,250.4L650.9,250.4" fill="none" stroke="#111" stroke-width="1.15"/>
<path d="M398.0,250.3L398.7,250.3L399.4,250.3L400.1,250.3L400.8,250.3L401.5,250.2L402.1,250.2L402.8,250.2L403.5,250.1L404.2,250.1L404.9,250.1L405.6,250.0L406.3,250.0L407.0,250.0L407.7,249.9L408.4,249.9L409.1,249.8L409.7,249.8L410.4,249.7L411.1,249.6L411.8,249.6L412.5,249.5L413.2,249.4L413.9,249.4L414.6,249.3L415.3,249.2L416.0,249.1L416.7,249.0L417.3,248.9L418.0,248.8L418.7,248.8L419.4,248.7L420.1,248.6L420.8,248.5L421.5,248.4L422.2,248.3L422.9,248.1L423.6,248.0L424.3,247.9L424.9,247.8L425.6,247.7L426.3,247.6L427.0,247.5L427.7,247.4L428.4,247.3L429.1,247.2L429.8,247.1L430.5,247.0L431.2,246.9L431.9,246.9L432.5,246.8L433.2,246.7L433.9,246.6L434.6,246.6L435.3,246.5L436.0,246.4L436.7,246.4L437.4,246.3L438.1,246.3L438.8,246.3L439.5,246.2L440.1,246.2L440.8,246.2L441.5,246.2L442.2,246.2L442.9,246.2L443.6,246.2L444.3,246.3L445.0,246.3L445.7,246.3L446.4,246.4L447.1,246.4L447.8,246.5L448.4,246.6L449.1,246.6L449.8,246.7L450.5,246.8L451.2,246.9L451.9,246.9L452.6,247.0L453.3,247.1L454.0,247.2L454.7,247.3L455.4,247.4L456.0,247.5L456.7,247.6L457.4,247.7L458.1,247.8L458.8,247.9L459.5,248.1L460.2,248.2L460.9,248.3L461.6,248.4L462.3,248.5L463.0,248.6L463.6,248.7L464.3,248.8L465.0,248.9L465.7,248.9L466.4,249.0L467.1,249.1L467.8,249.2L468.5,249.3L469.2,249.4L469.9,249.4L470.6,249.5L471.2,249.6L471.9,249.6L472.6,249.7L473.3,249.8L474.0,249.8L474.7,249.9L475.4,249.9L476.1,250.0L476.8,250.0L477.5,250.0L478.2,250.1L478.8,250.1L479.5,250.1L480.2,250.2L480.9,250.2L481.6,250.2L482.3,250.3L483.0,250.3L483.7,250.3L484.4,250.3L485.1,250.3L485.8,250.4L486.4,250.4L487.1,250.4L487.8,250.4L487.8,250.5L398.0,250.5Z" fill="url(#gPur)"/>
<path d="M398.0,250.3L398.7,250.3L399.4,250.3L400.1,250.3L400.8,250.3L401.5,250.2L402.1,250.2L402.8,250.2L403.5,250.1L404.2,250.1L404.9,250.1L405.6,250.0L406.3,250.0L407.0,250.0L407.7,249.9L408.4,249.9L409.1,249.8L409.7,249.8L410.4,249.7L411.1,249.6L411.8,249.6L412.5,249.5L413.2,249.4L413.9,249.4L414.6,249.3L415.3,249.2L416.0,249.1L416.7,249.0L417.3,248.9L418.0,248.8L418.7,248.8L419.4,248.7L420.1,248.6L420.8,248.5L421.5,248.4L422.2,248.3L422.9,248.1L423.6,248.0L424.3,247.9L424.9,247.8L425.6,247.7L426.3,247.6L427.0,247.5L427.7,247.4L428.4,247.3L429.1,247.2L429.8,247.1L430.5,247.0L431.2,246.9L431.9,246.9L432.5,246.8L433.2,246.7L433.9,246.6L434.6,246.6L435.3,246.5L436.0,246.4L436.7,246.4L437.4,246.3L438.1,246.3L438.8,246.3L439.5,246.2L440.1,246.2L440.8,246.2L441.5,246.2L442.2,246.2L442.9,246.2L443.6,246.2L444.3,246.3L445.0,246.3L445.7,246.3L446.4,246.4L447.1,246.4L447.8,246.5L448.4,246.6L449.1,246.6L449.8,246.7L450.5,246.8L451.2,246.9L451.9,246.9L452.6,247.0L453.3,247.1L454.0,247.2L454.7,247.3L455.4,247.4L456.0,247.5L456.7,247.6L457.4,247.7L458.1,247.8L458.8,247.9L459.5,248.1L460.2,248.2L460.9,248.3L461.6,248.4L462.3,248.5L463.0,248.6L463.6,248.7L464.3,248.8L465.0,248.9L465.7,248.9L466.4,249.0L467.1,249.1L467.8,249.2L468.5,249.3L469.2,249.4L469.9,249.4L470.6,249.5L471.2,249.6L471.9,249.6L472.6,249.7L473.3,249.8L474.0,249.8L474.7,249.9L475.4,249.9L476.1,250.0L476.8,250.0L477.5,250.0L478.2,250.1L478.8,250.1L479.5,250.1L480.2,250.2L480.9,250.2L481.6,250.2L482.3,250.3L483.0,250.3L483.7,250.3L484.4,250.3L485.1,250.3L485.8,250.4L486.4,250.4L487.1,250.4L487.8,250.4" fill="none" stroke="#111" stroke-width="1.15"/>
<path d="M398.0,223.2L399.5,224.0L400.9,224.8L402.4,225.5L403.9,226.3L405.4,227.1L406.8,227.9L408.3,228.7L409.8,229.5L411.3,230.3L412.7,231.1L414.2,231.9L415.7,232.7L417.2,233.5L418.6,234.3L420.1,235.1L421.6,235.9L423.1,236.7L424.5,237.5L426.0,238.3L427.5,239.1L429.0,239.8L430.4,240.6L431.9,241.4L433.4,242.3L434.9,243.1L436.3,243.8L437.8,244.5L439.3,245.1L440.8,245.7L442.2,246.3L443.7,246.8L445.2,247.2L446.7,247.6L448.1,248.0L449.6,248.3L451.1,248.6L452.6,248.8L454.0,249.1L455.5,249.3L457.0,249.4L458.5,249.6L459.9,249.8L461.4,249.9L462.9,250.0L464.4,250.1L465.8,250.1L467.3,250.2L468.8,250.2L470.3,250.3L471.7,250.3L473.2,250.3L474.7,250.4L476.2,250.4L477.6,250.4L479.1,250.5L480.6,250.5L482.1,250.5L483.5,250.5L485.0,250.5" fill="none" stroke="#111" stroke-width="1.15"/>
<path d="M398.0,220.8L399.5,221.5L400.9,222.3L402.4,223.0L403.9,223.8L405.4,224.6L406.8,225.3L408.3,226.1L409.8,226.9L411.3,227.7L412.7,228.5L414.2,229.3L415.7,230.1L417.2,230.9L418.6,231.8L420.1,232.6L421.6,233.4L423.1,234.2L424.5,235.0L426.0,235.8L427.5,236.6L429.0,237.4L430.4,238.2L431.9,239.0L433.4,239.8L434.9,240.7L436.3,241.5L437.8,242.3L439.3,243.1L440.8,244.1L442.2,245.0L443.7,245.9L445.2,246.6L446.7,247.1L448.1,247.5L449.6,247.9L451.1,248.3L452.6,248.6L454.0,248.8L455.5,249.1L457.0,249.3L458.5,249.5L459.9,249.7L461.4,249.8L462.9,250.0L464.4,250.1L465.8,250.1L467.3,250.2L468.8,250.2L470.3,250.3L471.7,250.3L473.2,250.4L474.7,250.4L476.2,250.4L477.6,250.4L479.1,250.5L480.6,250.5L482.1,250.5L483.5,250.5L485.0,250.5" fill="none" stroke="#111" stroke-width="1.15" stroke-dasharray="4,1.6,1.2,1.6"/>
<path d="M398.0,157.3L399.4,156.9L400.8,156.5L402.2,156.1L403.5,155.8L404.9,155.5L406.3,155.2L407.7,155.0L409.1,154.8L410.5,154.5L411.9,154.3L413.2,154.1L414.6,154.0L416.0,153.8L417.4,153.7L418.8,153.6L420.2,153.4L421.6,153.3L422.9,153.2L424.3,153.1L425.7,153.0L427.1,152.9L428.5,152.8L429.9,152.7L431.3,152.6L432.6,152.6L434.0,152.5L435.4,152.4L436.8,152.3L438.2,152.3L439.6,152.2L440.9,152.2L442.3,152.1L443.7,152.1L445.1,152.0L446.5,152.0L447.9,151.9L449.3,151.9L450.6,151.8L452.0,151.8L453.4,151.8L454.8,151.7L456.2,151.7L457.6,151.6L459.0,151.6L460.3,151.5L461.7,151.5L463.1,151.4L464.5,151.4L465.9,151.3L467.3,151.3L468.7,151.2L470.0,151.2L471.4,151.1L472.8,151.1L474.2,151.0L475.6,151.0L477.0,150.9L478.4,150.9L479.7,150.8L481.1,150.8L482.5,150.7L483.9,150.7L485.3,150.7L486.7,150.7L488.1,150.6L489.4,150.6L490.8,150.6L492.2,150.6L493.6,150.6L495.0,150.8L496.4,151.0L497.8,151.3L499.1,151.7L500.5,152.0L501.9,152.4L503.3,152.7L504.7,152.9L506.1,153.1L507.4,153.1L508.8,153.1L510.2,153.1L511.6,153.1L513.0,153.1L514.4,153.1L515.8,153.1L517.1,153.1L518.5,153.1L519.9,153.1L521.3,153.1L522.7,153.1L524.1,153.1L525.5,153.1L526.8,153.1L528.2,153.1L529.6,153.1L531.0,153.1L532.4,153.1L533.8,153.1L535.2,153.1L536.5,153.2L537.9,153.3L539.3,153.4L540.7,153.7L542.1,153.9L543.5,154.1L544.9,154.2L546.2,154.4L547.6,154.4L549.0,154.3L550.4,154.2L551.8,153.9L553.2,153.5L554.6,153.2L555.9,152.8L557.3,152.4L558.7,152.1L560.1,151.8L561.5,151.6L562.9,151.6L564.3,151.7L565.6,151.9L567.0,152.2L568.4,152.6L569.8,153.0L571.2,153.4L572.6,153.7L573.9,154.0L575.3,154.3L576.7,154.4L578.1,154.4L579.5,154.2L580.9,154.0L582.3,153.7L583.6,153.3L585.0,152.9L586.4,152.5L587.8,152.1L589.2,151.7L590.6,151.4L592.0,151.2L593.3,151.0L594.7,151.0L596.1,151.1L597.5,151.3L598.9,151.5L600.3,151.8L601.7,152.0L603.0,152.2L604.4,152.3L605.8,152.3L607.2,152.1L608.6,151.7L610.0,151.3L611.4,150.8L612.7,150.2L614.1,149.7L615.5,149.2L616.9,148.9L618.3,148.6L619.7,148.5L621.1,148.5L622.4,148.6L623.8,148.8L625.2,149.0L626.6,149.2L628.0,149.5L629.4,149.7L630.8,150.1L632.1,150.6L633.5,151.2L634.9,151.7L636.3,152.2L637.7,152.6L639.1,152.9L640.4,153.1L641.8,153.1L643.2,153.1L644.6,153.1L646.0,153.1L647.4,153.1L648.8,153.1L650.1,153.1L651.5,153.1L652.9,153.1L654.3,153.1L655.7,153.1L657.1,153.1L658.5,153.1L659.8,153.1L661.2,153.0L662.6,152.9L664.0,152.8L665.4,152.7L666.8,152.5L668.2,152.4L669.5,152.2L670.9,152.0L672.3,151.8L673.7,151.6" fill="none" stroke="#999" stroke-width="0.9" stroke-dasharray="1,2.2"/>
<path d="M398.0,196.6L398.8,197.4L399.6,198.1L400.4,198.9L401.2,199.7L401.9,200.5L402.7,201.2L403.5,202.0L404.3,202.8L405.1,203.6L405.9,204.5L406.7,205.2L407.5,206.0L408.3,206.7L409.1,207.4L409.8,208.1L410.6,208.7L411.4,209.4L412.2,210.0L413.0,210.6L413.8,211.2L414.6,211.8L415.4,212.3L416.2,212.8L417.0,213.4L417.7,213.9L418.5,214.5L419.3,215.1L420.1,215.7L420.9,216.3L421.7,216.9L422.5,217.5L423.3,218.0L424.1,218.5L424.9,219.0L425.6,219.5L426.4,220.0L427.2,220.4L428.0,220.8L428.8,221.2L429.6,221.5L430.4,221.8L431.2,222.1L432.0,222.4L432.8,222.6L433.5,222.8L434.3,223.0L435.1,223.0L435.9,223.1L436.7,223.2L437.5,223.3L438.3,223.3L439.1,223.3L439.9,223.3L440.7,223.2L441.4,223.1L442.2,223.0L443.0,222.9L443.8,222.7L444.6,222.6L445.4,222.4L446.2,222.1L447.0,221.9L447.8,221.7L448.6,221.4L449.3,221.2L450.1,220.9L450.9,220.6L451.7,220.4L452.5,220.0L453.3,219.6L454.1,219.2L454.9,218.7L455.7,218.1L456.5,217.5L457.2,216.9L458.0,216.2L458.8,215.5L459.6,214.9L460.4,214.3L461.2,213.6L462.0,213.0L462.8,212.5L463.6,212.0L464.4,211.5L465.1,211.1L465.9,210.6L466.7,210.2L467.5,209.7L468.3,209.3L469.1,209.0L469.9,208.6L470.7,208.3L471.5,208.1L472.3,208.0L473.0,207.8L473.8,207.7L474.6,207.6L475.4,207.5L476.2,207.4L477.0,207.4L477.8,207.4L478.6,207.5L479.4,207.6L480.2,207.7L480.9,207.8L481.7,207.9L482.5,208.2L483.3,208.4L484.1,208.8L484.9,209.2L485.7,209.6L486.5,210.1L487.3,210.6L488.1,211.1L488.8,211.6L489.6,212.2L490.4,212.8L491.2,213.5L492.0,214.2L492.8,214.9L493.6,215.6L494.4,216.4L495.2,217.2L496.0,218.0L496.7,218.8L497.5,219.6L498.3,220.5L499.1,221.4L499.9,222.3L500.7,223.2L501.5,224.1L502.3,225.0L503.1,225.9L503.9,226.8L504.6,227.8L505.4,228.7L506.2,229.7L507.0,230.6L507.8,231.5L508.6,232.3L509.4,233.1L510.2,233.8L511.0,234.6L511.8,235.3L512.5,236.0L513.3,236.6L514.1,237.3L514.9,237.8L515.7,238.4L516.5,238.8L517.3,239.3L518.1,239.7L518.9,240.1L519.7,240.5L520.4,240.9L521.2,241.2L522.0,241.5L522.8,241.7L523.6,241.8L524.4,241.9L525.2,241.9L526.0,242.0L526.8,242.0L527.6,242.1L528.3,242.1L529.1,242.1L529.9,241.9L530.7,241.6L531.5,241.2L532.3,240.7L533.1,240.2L533.9,239.6L534.7,239.1L535.5,238.5L536.2,237.8L537.0,237.1L537.8,236.3L538.6,235.5L539.4,234.7L540.2,233.9L541.0,233.1L541.8,232.2L542.6,231.3L543.4,230.4L544.1,229.4L544.9,228.4L545.7,227.4L546.5,226.4L547.3,225.4L548.1,224.4L548.9,223.4L549.7,222.4L550.5,221.4L551.3,220.3L552.0,219.1L552.8,218.0L553.6,216.8L554.4,215.6L555.2,214.5L556.0,213.5L556.8,212.6L557.6,211.8L558.4,211.1L559.2,210.4L559.9,209.8L560.7,209.1L561.5,208.5L562.3,208.0L563.1,207.6L563.9,207.4L564.7,207.3L565.5,207.3L566.3,207.4L567.1,207.5L567.8,207.6L568.6,207.8L569.4,207.9L570.2,208.1L571.0,208.3L571.8,208.5L572.6,208.7L573.4,208.9L574.2,209.1L575.0,209.4L575.7,209.7L576.5,210.1L577.3,210.4L578.1,210.8L578.9,211.1L579.7,211.4L580.5,211.6L581.3,211.8L582.1,212.0L582.9,212.0L583.6,212.0L584.4,211.8L585.2,211.6L586.0,211.3L586.8,210.9L587.6,210.6L588.4,210.1L589.2,209.7L590.0,209.1L590.8,208.3L591.5,207.4L592.3,206.3L593.1,205.2L593.9,203.9L594.7,202.7L595.5,201.4L596.3,200.1L597.1,198.9L597.9,197.8L598.7,196.7L599.4,195.6L600.2,194.5L601.0,193.5L601.8,192.6L602.6,191.9L603.4,191.3L604.2,190.8L605.0,190.3L605.8,190.0L606.6,189.8L607.3,189.8L608.1,190.1L608.9,190.5L609.7,191.0L610.5,191.7L611.3,192.4L612.1,193.4L612.9,195.0L613.7,197.2L614.5,199.6L615.2,202.2L616.0,204.8L616.8,207.1L617.6,209.2L618.4,211.3L619.2,213.4L620.0,215.5L620.8,217.7L621.6,219.8L622.4,222.0L623.1,224.3L623.9,226.6L624.7,228.9L625.5,231.1L626.3,233.0L627.1,234.8L627.9,236.6L628.7,238.2L629.5,239.7L630.3,241.1L631.0,242.4L631.8,243.4L632.6,244.4L633.4,245.4L634.2,246.2L635.0,246.9L635.8,247.4L636.6,247.7L637.4,248.1L638.2,248.4L638.9,248.6L639.7,248.9L640.5,249.1L641.3,249.3L642.1,249.4L642.9,249.6L643.7,249.7L644.5,249.8L645.3,249.8L646.1,249.9L646.8,249.9L647.6,249.9L648.4,250.0L649.2,250.0L650.0,250.0L650.8,250.1L651.6,250.1L652.4,250.1L653.2,250.2L654.0,250.2L654.7,250.2L655.5,250.2L656.3,250.3L657.1,250.3L657.9,250.3L658.7,250.3L659.5,250.3L660.3,250.4L661.1,250.4L661.9,250.4L662.6,250.4L663.4,250.4L664.2,250.4L665.0,250.4L665.8,250.5L666.6,250.5L667.4,250.5L668.2,250.5L669.0,250.5L669.8,250.5L670.5,250.5L671.3,250.5L672.1,250.5L672.9,250.5L673.7,250.5" fill="none" stroke="#ea2a8e" stroke-width="1.45" stroke-dasharray="4.5,2"/>
<path d="M398.0,192.6L398.8,193.3L399.6,194.1L400.4,194.8L401.2,195.6L401.9,196.4L402.7,197.2L403.5,198.1L404.3,199.0L405.1,199.9L405.9,200.8L406.7,201.8L407.5,202.7L408.3,203.5L409.1,204.3L409.8,205.1L410.6,205.9L411.4,206.6L412.2,207.3L413.0,208.1L413.8,208.8L414.6,209.5L415.4,210.2L416.2,210.8L417.0,211.5L417.7,212.2L418.5,212.9L419.3,213.6L420.1,214.3L420.9,215.0L421.7,215.7L422.5,216.3L423.3,217.0L424.1,217.5L424.9,218.1L425.6,218.7L426.4,219.2L427.2,219.7L428.0,220.2L428.8,220.6L429.6,221.0L430.4,221.4L431.2,221.7L432.0,222.0L432.8,222.3L433.5,222.5L434.3,222.7L435.1,222.9L435.9,223.0L436.7,223.1L437.5,223.2L438.3,223.3L439.1,223.3L439.9,223.3L440.7,223.2L441.4,223.1L442.2,223.0L443.0,222.9L443.8,222.7L444.6,222.6L445.4,222.4L446.2,222.1L447.0,221.9L447.8,221.7L448.6,221.4L449.3,221.2L450.1,220.9L450.9,220.6L451.7,220.4L452.5,220.0L453.3,219.6L454.1,219.2L454.9,218.7L455.7,218.1L456.5,217.5L457.2,216.9L458.0,216.2L458.8,215.5L459.6,214.9L460.4,214.3L461.2,213.6L462.0,213.0L462.8,212.5L463.6,212.0L464.4,211.5L465.1,211.1L465.9,210.6L466.7,210.2L467.5,209.7L468.3,209.3L469.1,209.0L469.9,208.6L470.7,208.3L471.5,208.1L472.3,208.0L473.0,207.8L473.8,207.7L474.6,207.6L475.4,207.5L476.2,207.4L477.0,207.4L477.8,207.4L478.6,207.5L479.4,207.6L480.2,207.7L480.9,207.8L481.7,207.9L482.5,208.2L483.3,208.4L484.1,208.8L484.9,209.2L485.7,209.6L486.5,210.1L487.3,210.6L488.1,211.1L488.8,211.6L489.6,212.2L490.4,212.8L491.2,213.5L492.0,214.2L492.8,214.9L493.6,215.6L494.4,216.4L495.2,217.2L496.0,218.0L496.7,218.8L497.5,219.6L498.3,220.5L499.1,221.4L499.9,222.3L500.7,223.2L501.5,224.1L502.3,225.0L503.1,225.9L503.9,226.8L504.6,227.8L505.4,228.7L506.2,229.7L507.0,230.6L507.8,231.5L508.6,232.3L509.4,233.1L510.2,233.8L511.0,234.6L511.8,235.3L512.5,236.0L513.3,236.6L514.1,237.3L514.9,237.8L515.7,238.4L516.5,238.8L517.3,239.3L518.1,239.7L518.9,240.1L519.7,240.5L520.4,240.9L521.2,241.2L522.0,241.5L522.8,241.7L523.6,241.8L524.4,241.9L525.2,241.9L526.0,242.0L526.8,242.0L527.6,242.1L528.3,242.1L529.1,242.1L529.9,241.9L530.7,241.6L531.5,241.2L532.3,240.7L533.1,240.2L533.9,239.6L534.7,239.1L535.5,238.5L536.2,237.8L537.0,237.1L537.8,236.3L538.6,235.5L539.4,234.7L540.2,233.9L541.0,233.1L541.8,232.2L542.6,231.3L543.4,230.4L544.1,229.4L544.9,228.4L545.7,227.4L546.5,226.4L547.3,225.4L548.1,224.4L548.9,223.4L549.7,222.4L550.5,221.4L551.3,220.3L552.0,219.1L552.8,218.0L553.6,216.8L554.4,215.6L555.2,214.5L556.0,213.5L556.8,212.6L557.6,211.8L558.4,211.1L559.2,210.4L559.9,209.8L560.7,209.1L561.5,208.5L562.3,208.0L563.1,207.6L563.9,207.4L564.7,207.3L565.5,207.3L566.3,207.4L567.1,207.5L567.8,207.6L568.6,207.8L569.4,207.9L570.2,208.1L571.0,208.3L571.8,208.5L572.6,208.7L573.4,208.9L574.2,209.1L575.0,209.4L575.7,209.7L576.5,210.1L577.3,210.4L578.1,210.8L578.9,211.1L579.7,211.4L580.5,211.6L581.3,211.8L582.1,212.0L582.9,212.0L583.6,212.0L584.4,211.8L585.2,211.6L586.0,211.3L586.8,210.9L587.6,210.6L588.4,210.1L589.2,209.7L590.0,209.1L590.8,208.3L591.5,207.4L592.3,206.3L593.1,205.2L593.9,203.9L594.7,202.7L595.5,201.4L596.3,200.1L597.1,198.9L597.9,197.8L598.7,196.7L599.4,195.6L600.2,194.5L601.0,193.5L601.8,192.6L602.6,191.9L603.4,191.3L604.2,190.8L605.0,190.3L605.8,190.0L606.6,189.8L607.3,189.8L608.1,190.1L608.9,190.5L609.7,191.0L610.5,191.7L611.3,192.4L612.1,193.4L612.9,195.0L613.7,197.2L614.5,199.6L615.2,202.2L616.0,204.8L616.8,207.1L617.6,209.2L618.4,211.3L619.2,213.4L620.0,215.5L620.8,217.7L621.6,219.8L622.4,222.0L623.1,224.3L623.9,226.6L624.7,228.9L625.5,231.1L626.3,233.0L627.1,234.8L627.9,236.6L628.7,238.2L629.5,239.7L630.3,241.1L631.0,242.4L631.8,243.4L632.6,244.4L633.4,245.4L634.2,246.2L635.0,246.9L635.8,247.4L636.6,247.7L637.4,248.1L638.2,248.4L638.9,248.6L639.7,248.9L640.5,249.1L641.3,249.3L642.1,249.4L642.9,249.6L643.7,249.7L644.5,249.8L645.3,249.8L646.1,249.9L646.8,249.9L647.6,249.9L648.4,250.0L649.2,250.0L650.0,250.0L650.8,250.1L651.6,250.1L652.4,250.1L653.2,250.2L654.0,250.2L654.7,250.2L655.5,250.2L656.3,250.3L657.1,250.3L657.9,250.3L658.7,250.3L659.5,250.3L660.3,250.4L661.1,250.4L661.9,250.4L662.6,250.4L663.4,250.4L664.2,250.4L665.0,250.4L665.8,250.5L666.6,250.5L667.4,250.5L668.2,250.5L669.0,250.5L669.8,250.5L670.5,250.5L671.3,250.5L672.1,250.5L672.9,250.5L673.7,250.5" fill="none" stroke="#111" stroke-width="1.05" stroke-dasharray="3,2.6" stroke-dashoffset="1.5"/>
<line x1="669" y1="139.2" x2="673.5" y2="138.6" stroke="#d4dc1c" stroke-width="1.4"/>
<line x1="669" y1="249.6" x2="673.5" y2="249.2" stroke="#ea2a8e" stroke-width="1.6"/>
<rect x="398.0" y="31.3" width="275.70000000000005" height="109.3" fill="none" stroke="#1a1a1a" stroke-width="1.2"/>
<line x1="398.0" y1="140.60" x2="393.6" y2="140.60" stroke="#1a1a1a" stroke-width="1"/>
<line x1="673.7" y1="140.60" x2="678.1" y2="140.60" stroke="#1a1a1a" stroke-width="1"/>
<line x1="398.0" y1="135.13" x2="395.7" y2="135.13" stroke="#1a1a1a" stroke-width="1"/>
<line x1="673.7" y1="135.13" x2="676.0" y2="135.13" stroke="#1a1a1a" stroke-width="1"/>
<line x1="398.0" y1="129.67" x2="395.7" y2="129.67" stroke="#1a1a1a" stroke-width="1"/>
<line x1="673.7" y1="129.67" x2="676.0" y2="129.67" stroke="#1a1a1a" stroke-width="1"/>
<line x1="398.0" y1="124.20" x2="395.7" y2="124.20" stroke="#1a1a1a" stroke-width="1"/>
<line x1="673.7" y1="124.20" x2="676.0" y2="124.20" stroke="#1a1a1a" stroke-width="1"/>
<line x1="398.0" y1="118.74" x2="395.7" y2="118.74" stroke="#1a1a1a" stroke-width="1"/>
<line x1="673.7" y1="118.74" x2="676.0" y2="118.74" stroke="#1a1a1a" stroke-width="1"/>
<line x1="398.0" y1="113.27" x2="393.6" y2="113.27" stroke="#1a1a1a" stroke-width="1"/>
<line x1="673.7" y1="113.27" x2="678.1" y2="113.27" stroke="#1a1a1a" stroke-width="1"/>
<line x1="398.0" y1="107.81" x2="395.7" y2="107.81" stroke="#1a1a1a" stroke-width="1"/>
<line x1="673.7" y1="107.81" x2="676.0" y2="107.81" stroke="#1a1a1a" stroke-width="1"/>
<line x1="398.0" y1="102.34" x2="395.7" y2="102.34" stroke="#1a1a1a" stroke-width="1"/>
<line x1="673.7" y1="102.34" x2="676.0" y2="102.34" stroke="#1a1a1a" stroke-width="1"/>
<line x1="398.0" y1="96.88" x2="395.7" y2="96.88" stroke="#1a1a1a" stroke-width="1"/>
<line x1="673.7" y1="96.88" x2="676.0" y2="96.88" stroke="#1a1a1a" stroke-width="1"/>
<line x1="398.0" y1="91.41" x2="395.7" y2="91.41" stroke="#1a1a1a" stroke-width="1"/>
<line x1="673.7" y1="91.41" x2="676.0" y2="91.41" stroke="#1a1a1a" stroke-width="1"/>
<line x1="398.0" y1="85.95" x2="393.6" y2="85.95" stroke="#1a1a1a" stroke-width="1"/>
<line x1="673.7" y1="85.95" x2="678.1" y2="85.95" stroke="#1a1a1a" stroke-width="1"/>
<line x1="398.0" y1="80.48" x2="395.7" y2="80.48" stroke="#1a1a1a" stroke-width="1"/>
<line x1="673.7" y1="80.48" x2="676.0" y2="80.48" stroke="#1a1a1a" stroke-width="1"/>
<line x1="398.0" y1="75.02" x2="395.7" y2="75.02" stroke="#1a1a1a" stroke-width="1"/>
<line x1="673.7" y1="75.02" x2="676.0" y2="75.02" stroke="#1a1a1a" stroke-width="1"/>
<line x1="398.0" y1="69.56" x2="395.7" y2="69.56" stroke="#1a1a1a" stroke-width="1"/>
<line x1="673.7" y1="69.56" x2="676.0" y2="69.56" stroke="#1a1a1a" stroke-width="1"/>
<line x1="398.0" y1="64.09" x2="395.7" y2="64.09" stroke="#1a1a1a" stroke-width="1"/>
<line x1="673.7" y1="64.09" x2="676.0" y2="64.09" stroke="#1a1a1a" stroke-width="1"/>
<line x1="398.0" y1="58.62" x2="393.6" y2="58.62" stroke="#1a1a1a" stroke-width="1"/>
<line x1="673.7" y1="58.62" x2="678.1" y2="58.62" stroke="#1a1a1a" stroke-width="1"/>
<line x1="398.0" y1="53.16" x2="395.7" y2="53.16" stroke="#1a1a1a" stroke-width="1"/>
<line x1="673.7" y1="53.16" x2="676.0" y2="53.16" stroke="#1a1a1a" stroke-width="1"/>
<line x1="398.0" y1="47.69" x2="395.7" y2="47.69" stroke="#1a1a1a" stroke-width="1"/>
<line x1="673.7" y1="47.69" x2="676.0" y2="47.69" stroke="#1a1a1a" stroke-width="1"/>
<line x1="398.0" y1="42.23" x2="395.7" y2="42.23" stroke="#1a1a1a" stroke-width="1"/>
<line x1="673.7" y1="42.23" x2="676.0" y2="42.23" stroke="#1a1a1a" stroke-width="1"/>
<line x1="398.0" y1="36.77" x2="395.7" y2="36.77" stroke="#1a1a1a" stroke-width="1"/>
<line x1="673.7" y1="36.77" x2="676.0" y2="36.77" stroke="#1a1a1a" stroke-width="1"/>
<line x1="398.0" y1="31.30" x2="393.6" y2="31.30" stroke="#1a1a1a" stroke-width="1"/>
<line x1="673.7" y1="31.30" x2="678.1" y2="31.30" stroke="#1a1a1a" stroke-width="1"/>
<text x="390.4" y="143.75" font-size="9.9" fill="#1a1a1a" text-anchor="end" stroke="#1a1a1a" stroke-width="0.2">0.0</text>
<text x="390.4" y="116.42" font-size="9.9" fill="#1a1a1a" text-anchor="end" stroke="#1a1a1a" stroke-width="0.2">2.5</text>
<text x="390.4" y="89.10" font-size="9.9" fill="#1a1a1a" text-anchor="end" stroke="#1a1a1a" stroke-width="0.2">5.0</text>
<text x="390.4" y="61.77" font-size="9.9" fill="#1a1a1a" text-anchor="end" stroke="#1a1a1a" stroke-width="0.2">7.5</text>
<text x="390.4" y="34.45" font-size="9.9" fill="#1a1a1a" text-anchor="end" stroke="#1a1a1a" stroke-width="0.2">10.0</text>
<rect x="398.0" y="140.6" width="275.70000000000005" height="109.9" fill="none" stroke="#1a1a1a" stroke-width="1.2"/>
<line x1="398.0" y1="250.50" x2="393.6" y2="250.50" stroke="#1a1a1a" stroke-width="1"/>
<line x1="673.7" y1="250.50" x2="678.1" y2="250.50" stroke="#1a1a1a" stroke-width="1"/>
<line x1="398.0" y1="245.00" x2="395.7" y2="245.00" stroke="#1a1a1a" stroke-width="1"/>
<line x1="673.7" y1="245.00" x2="676.0" y2="245.00" stroke="#1a1a1a" stroke-width="1"/>
<line x1="398.0" y1="239.51" x2="395.7" y2="239.51" stroke="#1a1a1a" stroke-width="1"/>
<line x1="673.7" y1="239.51" x2="676.0" y2="239.51" stroke="#1a1a1a" stroke-width="1"/>
<line x1="398.0" y1="234.01" x2="395.7" y2="234.01" stroke="#1a1a1a" stroke-width="1"/>
<line x1="673.7" y1="234.01" x2="676.0" y2="234.01" stroke="#1a1a1a" stroke-width="1"/>
<line x1="398.0" y1="228.52" x2="395.7" y2="228.52" stroke="#1a1a1a" stroke-width="1"/>
<line x1="673.7" y1="228.52" x2="676.0" y2="228.52" stroke="#1a1a1a" stroke-width="1"/>
<line x1="398.0" y1="223.03" x2="393.6" y2="223.03" stroke="#1a1a1a" stroke-width="1"/>
<line x1="673.7" y1="223.03" x2="678.1" y2="223.03" stroke="#1a1a1a" stroke-width="1"/>
<line x1="398.0" y1="217.53" x2="395.7" y2="217.53" stroke="#1a1a1a" stroke-width="1"/>
<line x1="673.7" y1="217.53" x2="676.0" y2="217.53" stroke="#1a1a1a" stroke-width="1"/>
<line x1="398.0" y1="212.03" x2="395.7" y2="212.03" stroke="#1a1a1a" stroke-width="1"/>
<line x1="673.7" y1="212.03" x2="676.0" y2="212.03" stroke="#1a1a1a" stroke-width="1"/>
<line x1="398.0" y1="206.54" x2="395.7" y2="206.54" stroke="#1a1a1a" stroke-width="1"/>
<line x1="673.7" y1="206.54" x2="676.0" y2="206.54" stroke="#1a1a1a" stroke-width="1"/>
<line x1="398.0" y1="201.05" x2="395.7" y2="201.05" stroke="#1a1a1a" stroke-width="1"/>
<line x1="673.7" y1="201.05" x2="676.0" y2="201.05" stroke="#1a1a1a" stroke-width="1"/>
<line x1="398.0" y1="195.55" x2="393.6" y2="195.55" stroke="#1a1a1a" stroke-width="1"/>
<line x1="673.7" y1="195.55" x2="678.1" y2="195.55" stroke="#1a1a1a" stroke-width="1"/>
<line x1="398.0" y1="190.06" x2="395.7" y2="190.06" stroke="#1a1a1a" stroke-width="1"/>
<line x1="673.7" y1="190.06" x2="676.0" y2="190.06" stroke="#1a1a1a" stroke-width="1"/>
<line x1="398.0" y1="184.56" x2="395.7" y2="184.56" stroke="#1a1a1a" stroke-width="1"/>
<line x1="673.7" y1="184.56" x2="676.0" y2="184.56" stroke="#1a1a1a" stroke-width="1"/>
<line x1="398.0" y1="179.06" x2="395.7" y2="179.06" stroke="#1a1a1a" stroke-width="1"/>
<line x1="673.7" y1="179.06" x2="676.0" y2="179.06" stroke="#1a1a1a" stroke-width="1"/>
<line x1="398.0" y1="173.57" x2="395.7" y2="173.57" stroke="#1a1a1a" stroke-width="1"/>
<line x1="673.7" y1="173.57" x2="676.0" y2="173.57" stroke="#1a1a1a" stroke-width="1"/>
<line x1="398.0" y1="168.07" x2="393.6" y2="168.07" stroke="#1a1a1a" stroke-width="1"/>
<line x1="673.7" y1="168.07" x2="678.1" y2="168.07" stroke="#1a1a1a" stroke-width="1"/>
<line x1="398.0" y1="162.58" x2="395.7" y2="162.58" stroke="#1a1a1a" stroke-width="1"/>
<line x1="673.7" y1="162.58" x2="676.0" y2="162.58" stroke="#1a1a1a" stroke-width="1"/>
<line x1="398.0" y1="157.08" x2="395.7" y2="157.08" stroke="#1a1a1a" stroke-width="1"/>
<line x1="673.7" y1="157.08" x2="676.0" y2="157.08" stroke="#1a1a1a" stroke-width="1"/>
<line x1="398.0" y1="151.59" x2="395.7" y2="151.59" stroke="#1a1a1a" stroke-width="1"/>
<line x1="673.7" y1="151.59" x2="676.0" y2="151.59" stroke="#1a1a1a" stroke-width="1"/>
<line x1="398.0" y1="146.09" x2="395.7" y2="146.09" stroke="#1a1a1a" stroke-width="1"/>
<line x1="673.7" y1="146.09" x2="676.0" y2="146.09" stroke="#1a1a1a" stroke-width="1"/>
<line x1="398.0" y1="140.60" x2="393.6" y2="140.60" stroke="#1a1a1a" stroke-width="1"/>
<line x1="673.7" y1="140.60" x2="678.1" y2="140.60" stroke="#1a1a1a" stroke-width="1"/>
<text x="390.4" y="253.65" font-size="9.9" fill="#1a1a1a" text-anchor="end" stroke="#1a1a1a" stroke-width="0.2">0.0</text>
<text x="390.4" y="226.18" font-size="9.9" fill="#1a1a1a" text-anchor="end" stroke="#1a1a1a" stroke-width="0.2">2.5</text>
<text x="390.4" y="198.70" font-size="9.9" fill="#1a1a1a" text-anchor="end" stroke="#1a1a1a" stroke-width="0.2">5.0</text>
<text x="390.4" y="171.22" font-size="9.9" fill="#1a1a1a" text-anchor="end" stroke="#1a1a1a" stroke-width="0.2">7.5</text>
<line x1="673.70" y1="250.5" x2="673.70" y2="254.9" stroke="#1a1a1a" stroke-width="1"/>
<line x1="662.67" y1="250.5" x2="662.67" y2="252.9" stroke="#1a1a1a" stroke-width="1"/>
<line x1="651.64" y1="250.5" x2="651.64" y2="252.9" stroke="#1a1a1a" stroke-width="1"/>
<line x1="640.62" y1="250.5" x2="640.62" y2="252.9" stroke="#1a1a1a" stroke-width="1"/>
<line x1="629.59" y1="250.5" x2="629.59" y2="252.9" stroke="#1a1a1a" stroke-width="1"/>
<line x1="618.56" y1="250.5" x2="618.56" y2="254.9" stroke="#1a1a1a" stroke-width="1"/>
<line x1="607.53" y1="250.5" x2="607.53" y2="252.9" stroke="#1a1a1a" stroke-width="1"/>
<line x1="596.50" y1="250.5" x2="596.50" y2="252.9" stroke="#1a1a1a" stroke-width="1"/>
<line x1="585.48" y1="250.5" x2="585.48" y2="252.9" stroke="#1a1a1a" stroke-width="1"/>
<line x1="574.45" y1="250.5" x2="574.45" y2="252.9" stroke="#1a1a1a" stroke-width="1"/>
<line x1="563.42" y1="250.5" x2="563.42" y2="254.9" stroke="#1a1a1a" stroke-width="1"/>
<line x1="552.39" y1="250.5" x2="552.39" y2="252.9" stroke="#1a1a1a" stroke-width="1"/>
<line x1="541.36" y1="250.5" x2="541.36" y2="252.9" stroke="#1a1a1a" stroke-width="1"/>
<line x1="530.34" y1="250.5" x2="530.34" y2="252.9" stroke="#1a1a1a" stroke-width="1"/>
<line x1="519.31" y1="250.5" x2="519.31" y2="252.9" stroke="#1a1a1a" stroke-width="1"/>
<line x1="508.28" y1="250.5" x2="508.28" y2="254.9" stroke="#1a1a1a" stroke-width="1"/>
<line x1="497.25" y1="250.5" x2="497.25" y2="252.9" stroke="#1a1a1a" stroke-width="1"/>
<line x1="486.22" y1="250.5" x2="486.22" y2="252.9" stroke="#1a1a1a" stroke-width="1"/>
<line x1="475.20" y1="250.5" x2="475.20" y2="252.9" stroke="#1a1a1a" stroke-width="1"/>
<line x1="464.17" y1="250.5" x2="464.17" y2="252.9" stroke="#1a1a1a" stroke-width="1"/>
<line x1="453.14" y1="250.5" x2="453.14" y2="254.9" stroke="#1a1a1a" stroke-width="1"/>
<line x1="442.11" y1="250.5" x2="442.11" y2="252.9" stroke="#1a1a1a" stroke-width="1"/>
<line x1="431.08" y1="250.5" x2="431.08" y2="252.9" stroke="#1a1a1a" stroke-width="1"/>
<line x1="420.06" y1="250.5" x2="420.06" y2="252.9" stroke="#1a1a1a" stroke-width="1"/>
<line x1="409.03" y1="250.5" x2="409.03" y2="252.9" stroke="#1a1a1a" stroke-width="1"/>
<line x1="398.00" y1="250.5" x2="398.00" y2="254.9" stroke="#1a1a1a" stroke-width="1"/>
<text x="673.70" y="265.55" font-size="9.9" fill="#1a1a1a" text-anchor="middle" stroke="#1a1a1a" stroke-width="0.2">5000</text>
<text x="618.56" y="265.55" font-size="9.9" fill="#1a1a1a" text-anchor="middle" stroke="#1a1a1a" stroke-width="0.2">10000</text>
<text x="563.42" y="265.55" font-size="9.9" fill="#1a1a1a" text-anchor="middle" stroke="#1a1a1a" stroke-width="0.2">15000</text>
<text x="508.28" y="265.55" font-size="9.9" fill="#1a1a1a" text-anchor="middle" stroke="#1a1a1a" stroke-width="0.2">20000</text>
<text x="453.14" y="265.55" font-size="9.9" fill="#1a1a1a" text-anchor="middle" stroke="#1a1a1a" stroke-width="0.2">25000</text>
<text x="398.00" y="265.55" font-size="9.9" fill="#1a1a1a" text-anchor="middle" stroke="#1a1a1a" stroke-width="0.2">30000</text>
<line x1="413.75" y1="31.3" x2="413.75" y2="26.9" stroke="#1a1a1a" stroke-width="1"/>
<text x="413.75" y="22.1" font-size="9.6" fill="#1a1a1a" text-anchor="middle" stroke="#1a1a1a" stroke-width="0.2">350</text>
<line x1="453.14" y1="31.3" x2="453.14" y2="26.9" stroke="#1a1a1a" stroke-width="1"/>
<text x="453.14" y="22.1" font-size="9.6" fill="#1a1a1a" text-anchor="middle" stroke="#1a1a1a" stroke-width="0.2">400</text>
<line x1="508.28" y1="31.3" x2="508.28" y2="26.9" stroke="#1a1a1a" stroke-width="1"/>
<text x="508.28" y="22.1" font-size="9.6" fill="#1a1a1a" text-anchor="middle" stroke="#1a1a1a" stroke-width="0.2">500</text>
<line x1="571.30" y1="31.3" x2="571.30" y2="26.9" stroke="#1a1a1a" stroke-width="1"/>
<text x="571.30" y="22.1" font-size="9.6" fill="#1a1a1a" text-anchor="middle" stroke="#1a1a1a" stroke-width="0.2">700</text>
<line x1="618.56" y1="31.3" x2="618.56" y2="26.9" stroke="#1a1a1a" stroke-width="1"/>
<text x="618.56" y="22.1" font-size="9.6" fill="#1a1a1a" text-anchor="middle" stroke="#1a1a1a" stroke-width="0.2">1000</text>
<line x1="659.91" y1="31.3" x2="659.91" y2="26.9" stroke="#1a1a1a" stroke-width="1"/>
<text x="659.91" y="22.1" font-size="9.6" fill="#1a1a1a" text-anchor="middle" stroke="#1a1a1a" stroke-width="0.2">1600</text>
<text x="483" y="9.2" font-size="12.1" fill="#1a1a1a" stroke="#1a1a1a" stroke-width="0.2">Wavelength, λ (nm)</text>
<text x="476.6" y="281.6" font-size="12.1" fill="#1a1a1a" stroke="#1a1a1a" stroke-width="0.2">Wavenumber, ν (cm<tspan font-size="8.5" dy="-4.5">-1</tspan><tspan dy="4.5">)</tspan></text>
<text transform="translate(367.3,145.8) rotate(-90)" font-size="11.6" fill="#1a1a1a" text-anchor="middle" stroke="#1a1a1a" stroke-width="0.2">Absorption coefficient, α (cm<tspan font-size="8" dy="-4.3">-1</tspan><tspan dy="4.3">)</tspan></text>
<text x="399.6" y="43.1" font-size="11.9" fill="#1a1a1a" stroke="#1a1a1a" stroke-width="0.2">(d)</text>
<text x="399.6" y="152.5" font-size="11.9" fill="#1a1a1a" stroke="#1a1a1a" stroke-width="0.2">(e)</text>
<rect x="413.7" y="53.6" width="141" height="36.9" fill="#fff" stroke="#a0a0a0" stroke-width="0.9"/>
<rect x="414.9" y="55.60" width="14.6" height="7.3" fill="url(#sYel)" stroke="#2a2a2a" stroke-width="1.2"/>
<text x="431.6" y="61.60" font-size="6.75" fill="#1a1a1a" stroke="#1a1a1a" stroke-width="0.1">V<tspan font-size="4.8" dy="-2.6">5+</tspan><tspan dy="2.6"> bands</tspan></text>
<rect x="414.9" y="64.55" width="14.6" height="7.3" fill="url(#sPur)" stroke="#2a2a2a" stroke-width="1.2"/>
<text x="431.6" y="70.55" font-size="6.75" fill="#1a1a1a" stroke="#1a1a1a" stroke-width="0.1">V<tspan font-size="4.8" dy="-2.6">4+</tspan><tspan dy="2.6"> bands</tspan></text>
<rect x="414.9" y="73.50" width="14.6" height="7.3" fill="url(#sGrn)" stroke="#2a2a2a" stroke-width="1.2"/>
<text x="431.6" y="79.50" font-size="6.75" fill="#1a1a1a" stroke="#1a1a1a" stroke-width="0.1">V<tspan font-size="4.8" dy="-2.6">3+</tspan><tspan dy="2.6"> bands</tspan></text>
<rect x="414.9" y="82.45" width="14.6" height="7.3" fill="url(#sRed)" stroke="#2a2a2a" stroke-width="0.8" stroke-dasharray="3,1.2,1,1.2"/>
<line x1="414.9" y1="82.45" x2="429.5" y2="82.45" stroke="#222" stroke-width="1.2" stroke-dasharray="3,1.2,1,1.2"/>
<line x1="414.9" y1="89.75" x2="429.5" y2="89.75" stroke="#222" stroke-width="1.2"/>
<text x="431.6" y="88.45" font-size="6.75" fill="#1a1a1a" stroke="#1a1a1a" stroke-width="0.1">Absorption edge</text>
<line x1="465" y1="59.2" x2="481" y2="59.2" stroke="#d4dc20" stroke-width="1.3" stroke-dasharray="5.2,5.6"/>
<line x1="465.5" y1="68.15" x2="481" y2="68.15" stroke="#111" stroke-width="1.2" stroke-dasharray="3,2.3"/>
<line x1="465.5" y1="77.1" x2="481" y2="77.1" stroke="#999" stroke-width="0.9" stroke-dasharray="0.9,2.3"/>
<text x="482.6" y="61.60" font-size="6.75" fill="#1a1a1a" stroke="#1a1a1a" stroke-width="0.1">Experimental spectrum</text>
<text x="482.6" y="70.55" font-size="6.75" fill="#1a1a1a" stroke="#1a1a1a" stroke-width="0.1">Calculated spectrum</text>
<text x="482.6" y="79.50" font-size="6.75" fill="#1a1a1a" stroke="#1a1a1a" stroke-width="0.1">Difference</text>
<rect x="640.2" y="78.8" width="30.4" height="12.6" fill="#fff" stroke="#b8b8b8" stroke-width="0.9"/>
<text x="655.6" y="88.7" font-size="9.7" fill="#9a9c26" text-anchor="middle" stroke="#9a9c26" stroke-width="0.2">NaP-V</text>
<rect x="631" y="94.4" width="38.8" height="24.2" fill="url(#gPh)"/>
<path d="M634.9,98.9 L641,97.6 L647.6,97.3 L653.5,101.2 L654.1,104.8 L652,112.1 L647.6,114.2 L638.8,113.9 L634.4,110.2 L633.9,102 Z" fill="#26a82c"/>
<path d="M636,99.6 L647,98.2 L652.6,101.6 L651,106.5 L644,107.8 L637.5,105 Z" fill="#48d046" opacity="0.8"/>
<path d="M634.6,103 L636.5,110 L640,113.3 L637.2,113 L634.3,110 Z" fill="#2a5a4a" opacity="0.6"/>
<path d="M641,108 L648,106 L651,111 L646,113 Z" fill="#158a1a" opacity="0.7"/>
<text x="640.6" y="108.2" font-size="7.8" fill="#2a2a2a" text-anchor="start" font-family="Liberation Serif" stroke="none" textLength="21.3" lengthAdjust="spacingAndGlyphs">NaP-V</text>
<rect x="630.2" y="188.5" width="40.4" height="12.6" fill="#fff" stroke="#b8b8b8" stroke-width="0.9"/>
<text x="650.4" y="197.9" font-size="9.5" fill="#e0389c" text-anchor="middle" stroke="#e0389c" stroke-width="0.2">NaP-R-V</text>
<rect x="631" y="204.3" width="38.8" height="24.4" fill="url(#gPh)"/>
<path d="M635.9,209.4 L657.5,205.4 L654.5,215.8 L651.6,223.6 L647.6,227 L636.8,224.6 L633.4,212.8 Z" fill="#24a42a"/>
<path d="M636.5,210 L655.5,206.6 L653.2,213.5 L640,217 Z" fill="#42c842" opacity="0.75"/>
<path d="M634,213 L636.8,224.6 L642,225.8 L637,220 Z" fill="#2a4a5a" opacity="0.55"/>
<path d="M640,221 L651.6,216 L651,223.6 L647.6,227 Z" fill="#128016" opacity="0.6"/>
<path d="M636.5,222 L655,212" stroke="#0d6a18" stroke-width="0.7" opacity="0.7"/>
<text x="639.8" y="215.9" font-size="7.8" fill="#2a2a2a" font-family="Liberation Serif" stroke="none" textLength="29" lengthAdjust="spacingAndGlyphs">NaP-R-V</text>
<text x="401.7" y="167.1" font-size="8.3" fill="#8a2d9c" stroke="#8a2d9c" stroke-width="0.18">ε<tspan font-size="5.9" dy="2.40">(</tspan><tspan font-size="4.1" dy="-2.30">2</tspan><tspan font-size="5.9" dy="2.30">T</tspan><tspan font-size="4.1" dy="1.50">1</tspan><tspan font-size="5.9" dy="-1.50"> → </tspan><tspan font-size="4.1" dy="-2.30">2</tspan><tspan font-size="5.9" dy="2.30">E)</tspan><tspan dy="-2.40"> = 16.5 ± 1.6 L·cm<tspan font-size="5.6" dy="-3">-1</tspan><tspan dy="3">·mol</tspan><tspan font-size="5.6" dy="-3">-1</tspan></tspan></text>
<text x="401.7" y="181.0" font-size="8.3" fill="#8a2d9c" stroke="#8a2d9c" stroke-width="0.18">ε<tspan font-size="5.9" dy="2.40">(</tspan><tspan font-size="4.1" dy="-2.30">2</tspan><tspan font-size="5.9" dy="2.30">T</tspan><tspan font-size="4.1" dy="1.50">1</tspan><tspan font-size="5.9" dy="-1.50"> → </tspan><tspan font-size="4.1" dy="-2.30">2</tspan><tspan font-size="5.9" dy="2.30">T</tspan><tspan font-size="4.1" dy="1.50">2</tspan><tspan font-size="5.9" dy="-1.50">)</tspan><tspan dy="-2.40"> = 26.7 ± 2.5 L·cm<tspan font-size="5.6" dy="-3">-1</tspan><tspan dy="3">·mol</tspan><tspan font-size="5.6" dy="-3">-1</tspan></tspan></text>
<text x="531.6" y="167.5" font-size="8.3" fill="#44973a" stroke="#44973a" stroke-width="0.18">ε<tspan font-size="5.9" dy="2.40">(</tspan><tspan font-size="4.1" dy="-2.30">3</tspan><tspan font-size="5.9" dy="2.30">T</tspan><tspan font-size="4.1" dy="1.50">1g</tspan><tspan font-size="5.9" dy="-1.50"> → </tspan><tspan font-size="4.1" dy="-2.30">3</tspan><tspan font-size="5.9" dy="2.30">T</tspan><tspan font-size="4.1" dy="1.50">1g</tspan><tspan font-size="5.9" dy="-1.50">(P))</tspan><tspan dy="-2.40"> = 12.3 ± 0.6 L·cm<tspan font-size="5.6" dy="-3">-1</tspan><tspan dy="3">·mol</tspan><tspan font-size="5.6" dy="-3">-1</tspan></tspan></text>
<text x="530.5" y="180.7" font-size="8.3" fill="#44973a" stroke="#44973a" stroke-width="0.18">ε<tspan font-size="5.9" dy="2.40">(</tspan><tspan font-size="4.1" dy="-2.30">3</tspan><tspan font-size="5.9" dy="2.30">T</tspan><tspan font-size="4.1" dy="1.50">1g</tspan><tspan font-size="5.9" dy="-1.50"> → </tspan><tspan font-size="4.1" dy="-2.30">3</tspan><tspan font-size="5.9" dy="2.30">T</tspan><tspan font-size="4.1" dy="1.50">2g</tspan><tspan font-size="5.9" dy="-1.50">)</tspan><tspan dy="-2.40"> = 9.8 ± 0.6 L·cm<tspan font-size="5.6" dy="-3">-1</tspan><tspan dy="3">·mol</tspan><tspan font-size="5.6" dy="-3">-1</tspan></tspan></text>
</svg></body></html>
